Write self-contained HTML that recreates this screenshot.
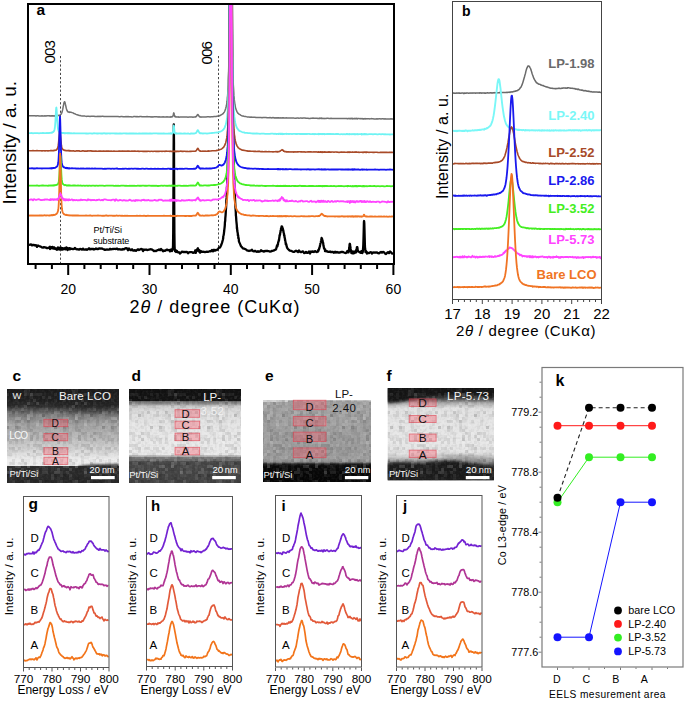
<!DOCTYPE html>
<html><head><meta charset="utf-8"><style>
html,body{margin:0;padding:0;background:#fff;width:685px;height:701px;overflow:hidden}
svg{display:block}
text{font-family:"Liberation Sans",sans-serif}
</style></head><body>
<svg width="685" height="701" viewBox="0 0 685 701" font-family="Liberation Sans, sans-serif">
<defs><filter id="grain" x="0" y="0" width="100%" height="100%">
<feTurbulence type="fractalNoise" baseFrequency="0.45" numOctaves="1" seed="3" result="n"/>
<feColorMatrix type="matrix" values="0 0 0 0 1  0 0 0 0 1  0 0 0 0 1  0 0 0 1.2 -0.55" />
</filter><filter id="grain2" x="0" y="0" width="100%" height="100%">
<feTurbulence type="fractalNoise" baseFrequency="0.4" numOctaves="1" seed="8" result="n"/>
<feColorMatrix type="matrix" values="0 0 0 0 0  0 0 0 0 0  0 0 0 0 0  0 0 0 1.2 -0.55" />
</filter><pattern id="blk" x="0" y="0" width="48" height="48" patternUnits="userSpaceOnUse"><rect x="0" y="0" width="3" height="3" fill="#000" fill-opacity="0.22"/><rect x="3" y="0" width="3" height="3" fill="#000" fill-opacity="0.37"/><rect x="9" y="0" width="3" height="3" fill="#fff" fill-opacity="0.12"/><rect x="12" y="0" width="3" height="3" fill="#fff" fill-opacity="0.32"/><rect x="18" y="0" width="3" height="3" fill="#000" fill-opacity="0.15"/><rect x="21" y="0" width="3" height="3" fill="#000" fill-opacity="0.22"/><rect x="24" y="0" width="3" height="3" fill="#fff" fill-opacity="0.21"/><rect x="27" y="0" width="3" height="3" fill="#fff" fill-opacity="0.46"/><rect x="33" y="0" width="3" height="3" fill="#000" fill-opacity="0.35"/><rect x="36" y="0" width="3" height="3" fill="#000" fill-opacity="0.27"/><rect x="39" y="0" width="3" height="3" fill="#fff" fill-opacity="0.45"/><rect x="45" y="0" width="3" height="3" fill="#000" fill-opacity="0.48"/><rect x="3" y="3" width="3" height="3" fill="#000" fill-opacity="0.33"/><rect x="6" y="3" width="3" height="3" fill="#000" fill-opacity="0.18"/><rect x="9" y="3" width="3" height="3" fill="#000" fill-opacity="0.14"/><rect x="12" y="3" width="3" height="3" fill="#000" fill-opacity="0.20"/><rect x="15" y="3" width="3" height="3" fill="#fff" fill-opacity="0.15"/><rect x="21" y="3" width="3" height="3" fill="#000" fill-opacity="0.17"/><rect x="24" y="3" width="3" height="3" fill="#fff" fill-opacity="0.11"/><rect x="27" y="3" width="3" height="3" fill="#fff" fill-opacity="0.23"/><rect x="30" y="3" width="3" height="3" fill="#000" fill-opacity="0.46"/><rect x="36" y="3" width="3" height="3" fill="#000" fill-opacity="0.27"/><rect x="42" y="3" width="3" height="3" fill="#000" fill-opacity="0.36"/><rect x="6" y="6" width="3" height="3" fill="#000" fill-opacity="0.29"/><rect x="9" y="6" width="3" height="3" fill="#000" fill-opacity="0.11"/><rect x="12" y="6" width="3" height="3" fill="#000" fill-opacity="0.31"/><rect x="15" y="6" width="3" height="3" fill="#000" fill-opacity="0.38"/><rect x="21" y="6" width="3" height="3" fill="#000" fill-opacity="0.31"/><rect x="24" y="6" width="3" height="3" fill="#fff" fill-opacity="0.33"/><rect x="27" y="6" width="3" height="3" fill="#fff" fill-opacity="0.20"/><rect x="30" y="6" width="3" height="3" fill="#000" fill-opacity="0.56"/><rect x="36" y="6" width="3" height="3" fill="#000" fill-opacity="0.31"/><rect x="45" y="6" width="3" height="3" fill="#000" fill-opacity="0.56"/><rect x="6" y="9" width="3" height="3" fill="#fff" fill-opacity="0.27"/><rect x="9" y="9" width="3" height="3" fill="#000" fill-opacity="0.33"/><rect x="12" y="9" width="3" height="3" fill="#fff" fill-opacity="0.21"/><rect x="15" y="9" width="3" height="3" fill="#000" fill-opacity="0.31"/><rect x="21" y="9" width="3" height="3" fill="#000" fill-opacity="0.24"/><rect x="24" y="9" width="3" height="3" fill="#fff" fill-opacity="0.41"/><rect x="27" y="9" width="3" height="3" fill="#fff" fill-opacity="0.16"/><rect x="30" y="9" width="3" height="3" fill="#fff" fill-opacity="0.68"/><rect x="33" y="9" width="3" height="3" fill="#fff" fill-opacity="0.18"/><rect x="36" y="9" width="3" height="3" fill="#fff" fill-opacity="0.24"/><rect x="39" y="9" width="3" height="3" fill="#fff" fill-opacity="0.24"/><rect x="42" y="9" width="3" height="3" fill="#000" fill-opacity="0.17"/><rect x="0" y="12" width="3" height="3" fill="#fff" fill-opacity="0.38"/><rect x="3" y="12" width="3" height="3" fill="#000" fill-opacity="0.11"/><rect x="12" y="12" width="3" height="3" fill="#fff" fill-opacity="0.17"/><rect x="15" y="12" width="3" height="3" fill="#000" fill-opacity="0.10"/><rect x="27" y="12" width="3" height="3" fill="#000" fill-opacity="0.24"/><rect x="30" y="12" width="3" height="3" fill="#fff" fill-opacity="0.25"/><rect x="33" y="12" width="3" height="3" fill="#000" fill-opacity="0.36"/><rect x="36" y="12" width="3" height="3" fill="#000" fill-opacity="0.34"/><rect x="39" y="12" width="3" height="3" fill="#000" fill-opacity="0.36"/><rect x="42" y="12" width="3" height="3" fill="#fff" fill-opacity="0.27"/><rect x="45" y="12" width="3" height="3" fill="#000" fill-opacity="0.10"/><rect x="0" y="15" width="3" height="3" fill="#000" fill-opacity="0.27"/><rect x="3" y="15" width="3" height="3" fill="#000" fill-opacity="0.32"/><rect x="6" y="15" width="3" height="3" fill="#fff" fill-opacity="0.12"/><rect x="9" y="15" width="3" height="3" fill="#000" fill-opacity="0.30"/><rect x="12" y="15" width="3" height="3" fill="#000" fill-opacity="0.36"/><rect x="15" y="15" width="3" height="3" fill="#fff" fill-opacity="0.17"/><rect x="18" y="15" width="3" height="3" fill="#000" fill-opacity="0.34"/><rect x="27" y="15" width="3" height="3" fill="#000" fill-opacity="0.12"/><rect x="33" y="15" width="3" height="3" fill="#fff" fill-opacity="0.37"/><rect x="36" y="15" width="3" height="3" fill="#000" fill-opacity="0.14"/><rect x="39" y="15" width="3" height="3" fill="#000" fill-opacity="0.35"/><rect x="42" y="15" width="3" height="3" fill="#000" fill-opacity="0.51"/><rect x="0" y="18" width="3" height="3" fill="#000" fill-opacity="0.10"/><rect x="6" y="18" width="3" height="3" fill="#000" fill-opacity="0.13"/><rect x="9" y="18" width="3" height="3" fill="#000" fill-opacity="0.13"/><rect x="12" y="18" width="3" height="3" fill="#000" fill-opacity="0.20"/><rect x="15" y="18" width="3" height="3" fill="#000" fill-opacity="0.15"/><rect x="21" y="18" width="3" height="3" fill="#000" fill-opacity="0.11"/><rect x="27" y="18" width="3" height="3" fill="#fff" fill-opacity="0.53"/><rect x="30" y="18" width="3" height="3" fill="#fff" fill-opacity="0.13"/><rect x="33" y="18" width="3" height="3" fill="#000" fill-opacity="0.44"/><rect x="36" y="18" width="3" height="3" fill="#fff" fill-opacity="0.49"/><rect x="42" y="18" width="3" height="3" fill="#000" fill-opacity="0.26"/><rect x="45" y="18" width="3" height="3" fill="#fff" fill-opacity="0.25"/><rect x="3" y="21" width="3" height="3" fill="#000" fill-opacity="0.17"/><rect x="6" y="21" width="3" height="3" fill="#000" fill-opacity="0.18"/><rect x="9" y="21" width="3" height="3" fill="#000" fill-opacity="0.28"/><rect x="15" y="21" width="3" height="3" fill="#fff" fill-opacity="0.30"/><rect x="21" y="21" width="3" height="3" fill="#fff" fill-opacity="0.12"/><rect x="24" y="21" width="3" height="3" fill="#fff" fill-opacity="0.53"/><rect x="27" y="21" width="3" height="3" fill="#000" fill-opacity="0.34"/><rect x="36" y="21" width="3" height="3" fill="#000" fill-opacity="0.30"/><rect x="39" y="21" width="3" height="3" fill="#000" fill-opacity="0.29"/><rect x="45" y="21" width="3" height="3" fill="#fff" fill-opacity="0.12"/><rect x="0" y="24" width="3" height="3" fill="#000" fill-opacity="0.15"/><rect x="6" y="24" width="3" height="3" fill="#fff" fill-opacity="0.20"/><rect x="12" y="24" width="3" height="3" fill="#fff" fill-opacity="0.24"/><rect x="15" y="24" width="3" height="3" fill="#fff" fill-opacity="0.13"/><rect x="18" y="24" width="3" height="3" fill="#fff" fill-opacity="0.14"/><rect x="21" y="24" width="3" height="3" fill="#fff" fill-opacity="0.51"/><rect x="24" y="24" width="3" height="3" fill="#fff" fill-opacity="0.17"/><rect x="30" y="24" width="3" height="3" fill="#fff" fill-opacity="0.20"/><rect x="33" y="24" width="3" height="3" fill="#000" fill-opacity="0.26"/><rect x="39" y="24" width="3" height="3" fill="#fff" fill-opacity="0.22"/><rect x="42" y="24" width="3" height="3" fill="#fff" fill-opacity="0.18"/><rect x="45" y="24" width="3" height="3" fill="#fff" fill-opacity="0.43"/><rect x="3" y="27" width="3" height="3" fill="#000" fill-opacity="0.41"/><rect x="6" y="27" width="3" height="3" fill="#fff" fill-opacity="0.55"/><rect x="9" y="27" width="3" height="3" fill="#fff" fill-opacity="0.31"/><rect x="12" y="27" width="3" height="3" fill="#000" fill-opacity="0.30"/><rect x="15" y="27" width="3" height="3" fill="#fff" fill-opacity="0.39"/><rect x="21" y="27" width="3" height="3" fill="#000" fill-opacity="0.51"/><rect x="24" y="27" width="3" height="3" fill="#000" fill-opacity="0.12"/><rect x="27" y="27" width="3" height="3" fill="#000" fill-opacity="0.14"/><rect x="30" y="27" width="3" height="3" fill="#fff" fill-opacity="0.45"/><rect x="33" y="27" width="3" height="3" fill="#000" fill-opacity="0.22"/><rect x="42" y="27" width="3" height="3" fill="#000" fill-opacity="0.11"/><rect x="45" y="27" width="3" height="3" fill="#000" fill-opacity="0.26"/><rect x="3" y="30" width="3" height="3" fill="#fff" fill-opacity="0.30"/><rect x="6" y="30" width="3" height="3" fill="#fff" fill-opacity="0.17"/><rect x="9" y="30" width="3" height="3" fill="#000" fill-opacity="0.26"/><rect x="12" y="30" width="3" height="3" fill="#000" fill-opacity="0.32"/><rect x="18" y="30" width="3" height="3" fill="#000" fill-opacity="0.20"/><rect x="21" y="30" width="3" height="3" fill="#000" fill-opacity="0.18"/><rect x="24" y="30" width="3" height="3" fill="#000" fill-opacity="0.47"/><rect x="27" y="30" width="3" height="3" fill="#fff" fill-opacity="0.55"/><rect x="30" y="30" width="3" height="3" fill="#fff" fill-opacity="0.26"/><rect x="33" y="30" width="3" height="3" fill="#000" fill-opacity="0.27"/><rect x="36" y="30" width="3" height="3" fill="#fff" fill-opacity="0.25"/><rect x="39" y="30" width="3" height="3" fill="#fff" fill-opacity="0.38"/><rect x="42" y="30" width="3" height="3" fill="#000" fill-opacity="0.67"/><rect x="45" y="30" width="3" height="3" fill="#000" fill-opacity="0.15"/><rect x="0" y="33" width="3" height="3" fill="#000" fill-opacity="0.11"/><rect x="3" y="33" width="3" height="3" fill="#fff" fill-opacity="0.18"/><rect x="15" y="33" width="3" height="3" fill="#fff" fill-opacity="0.52"/><rect x="18" y="33" width="3" height="3" fill="#fff" fill-opacity="0.60"/><rect x="21" y="33" width="3" height="3" fill="#000" fill-opacity="0.15"/><rect x="24" y="33" width="3" height="3" fill="#000" fill-opacity="0.26"/><rect x="27" y="33" width="3" height="3" fill="#fff" fill-opacity="0.75"/><rect x="30" y="33" width="3" height="3" fill="#000" fill-opacity="0.27"/><rect x="33" y="33" width="3" height="3" fill="#000" fill-opacity="0.16"/><rect x="39" y="33" width="3" height="3" fill="#fff" fill-opacity="0.14"/><rect x="42" y="33" width="3" height="3" fill="#fff" fill-opacity="0.29"/><rect x="45" y="33" width="3" height="3" fill="#fff" fill-opacity="0.11"/><rect x="0" y="36" width="3" height="3" fill="#000" fill-opacity="0.24"/><rect x="3" y="36" width="3" height="3" fill="#fff" fill-opacity="0.14"/><rect x="9" y="36" width="3" height="3" fill="#fff" fill-opacity="0.53"/><rect x="15" y="36" width="3" height="3" fill="#000" fill-opacity="0.37"/><rect x="18" y="36" width="3" height="3" fill="#000" fill-opacity="0.29"/><rect x="21" y="36" width="3" height="3" fill="#fff" fill-opacity="0.41"/><rect x="24" y="36" width="3" height="3" fill="#000" fill-opacity="0.15"/><rect x="27" y="36" width="3" height="3" fill="#000" fill-opacity="0.59"/><rect x="30" y="36" width="3" height="3" fill="#000" fill-opacity="0.16"/><rect x="36" y="36" width="3" height="3" fill="#fff" fill-opacity="0.33"/><rect x="39" y="36" width="3" height="3" fill="#000" fill-opacity="0.28"/><rect x="42" y="36" width="3" height="3" fill="#fff" fill-opacity="0.19"/><rect x="45" y="36" width="3" height="3" fill="#fff" fill-opacity="0.22"/><rect x="0" y="39" width="3" height="3" fill="#000" fill-opacity="0.20"/><rect x="6" y="39" width="3" height="3" fill="#fff" fill-opacity="0.50"/><rect x="9" y="39" width="3" height="3" fill="#fff" fill-opacity="0.48"/><rect x="12" y="39" width="3" height="3" fill="#fff" fill-opacity="0.24"/><rect x="18" y="39" width="3" height="3" fill="#fff" fill-opacity="0.32"/><rect x="27" y="39" width="3" height="3" fill="#000" fill-opacity="0.24"/><rect x="36" y="39" width="3" height="3" fill="#fff" fill-opacity="0.78"/><rect x="42" y="39" width="3" height="3" fill="#fff" fill-opacity="0.36"/><rect x="45" y="39" width="3" height="3" fill="#fff" fill-opacity="0.37"/><rect x="3" y="42" width="3" height="3" fill="#fff" fill-opacity="0.33"/><rect x="6" y="42" width="3" height="3" fill="#000" fill-opacity="0.61"/><rect x="12" y="42" width="3" height="3" fill="#fff" fill-opacity="0.24"/><rect x="15" y="42" width="3" height="3" fill="#000" fill-opacity="0.67"/><rect x="18" y="42" width="3" height="3" fill="#000" fill-opacity="0.32"/><rect x="21" y="42" width="3" height="3" fill="#fff" fill-opacity="0.30"/><rect x="27" y="42" width="3" height="3" fill="#000" fill-opacity="0.31"/><rect x="30" y="42" width="3" height="3" fill="#000" fill-opacity="0.10"/><rect x="33" y="42" width="3" height="3" fill="#000" fill-opacity="0.15"/><rect x="36" y="42" width="3" height="3" fill="#fff" fill-opacity="0.20"/><rect x="39" y="42" width="3" height="3" fill="#fff" fill-opacity="0.13"/><rect x="45" y="42" width="3" height="3" fill="#000" fill-opacity="0.19"/><rect x="3" y="45" width="3" height="3" fill="#fff" fill-opacity="0.37"/><rect x="9" y="45" width="3" height="3" fill="#fff" fill-opacity="0.18"/><rect x="15" y="45" width="3" height="3" fill="#000" fill-opacity="0.36"/><rect x="18" y="45" width="3" height="3" fill="#000" fill-opacity="0.20"/><rect x="21" y="45" width="3" height="3" fill="#fff" fill-opacity="0.18"/><rect x="27" y="45" width="3" height="3" fill="#000" fill-opacity="0.25"/><rect x="30" y="45" width="3" height="3" fill="#000" fill-opacity="0.45"/><rect x="39" y="45" width="3" height="3" fill="#000" fill-opacity="0.10"/></pattern><filter id="bl2" x="-20%" y="-50%" width="140%" height="200%"><feGaussianBlur stdDeviation="1.6"/></filter><filter id="bl1" x="-20%" y="-50%" width="140%" height="200%"><feGaussianBlur stdDeviation="0.8"/></filter><filter id="bl4" x="-20%" y="-50%" width="140%" height="200%"><feGaussianBlur stdDeviation="3"/></filter><linearGradient id="gc" x1="0" y1="0" x2="0" y2="1"><stop offset="0.0000" stop-color="#1c1c1c"/><stop offset="0.1170" stop-color="#222222"/><stop offset="0.1809" stop-color="#2c2c2c"/><stop offset="0.2234" stop-color="#505050"/><stop offset="0.2766" stop-color="#808080"/><stop offset="0.3830" stop-color="#a0a0a0"/><stop offset="0.5426" stop-color="#bcbcbc"/><stop offset="0.6702" stop-color="#d8d8d8"/><stop offset="0.7553" stop-color="#ececec"/><stop offset="0.8138" stop-color="#eeeeee"/><stop offset="0.8245" stop-color="#303030"/><stop offset="0.9149" stop-color="#2a2a2a"/><stop offset="1.0000" stop-color="#282828"/></linearGradient><linearGradient id="gd" x1="0" y1="0" x2="0" y2="1"><stop offset="0.0000" stop-color="#121212"/><stop offset="0.1223" stop-color="#141414"/><stop offset="0.1330" stop-color="#707070"/><stop offset="0.1596" stop-color="#909090"/><stop offset="0.1809" stop-color="#c8c8c8"/><stop offset="0.2447" stop-color="#dcdcdc"/><stop offset="0.4362" stop-color="#e6e6e6"/><stop offset="0.6489" stop-color="#eaeaea"/><stop offset="0.6968" stop-color="#e8e8e8"/><stop offset="0.7074" stop-color="#c0c0c0"/><stop offset="0.7234" stop-color="#a0a0a0"/><stop offset="0.7287" stop-color="#747474"/><stop offset="0.7660" stop-color="#6c6c6c"/><stop offset="0.7713" stop-color="#505050"/><stop offset="0.7872" stop-color="#484848"/><stop offset="1.0000" stop-color="#424242"/></linearGradient><linearGradient id="ge" x1="0" y1="0" x2="0" y2="1"><stop offset="0.0000" stop-color="#a2a2a2"/><stop offset="0.3659" stop-color="#9e9e9e"/><stop offset="0.7317" stop-color="#9a9a9a"/><stop offset="0.7561" stop-color="#8c8c8c"/><stop offset="0.7805" stop-color="#202020"/><stop offset="0.8049" stop-color="#0a0a0a"/><stop offset="1.0000" stop-color="#060606"/></linearGradient><linearGradient id="gf" x1="0" y1="0" x2="0" y2="1"><stop offset="0.0000" stop-color="#181818"/><stop offset="0.0543" stop-color="#1c1c1c"/><stop offset="0.1087" stop-color="#404040"/><stop offset="0.1630" stop-color="#b0b0b0"/><stop offset="0.2174" stop-color="#e0e0e0"/><stop offset="0.5652" stop-color="#e8e8e8"/><stop offset="0.7065" stop-color="#e4e4e4"/><stop offset="0.7500" stop-color="#c8c8c8"/><stop offset="0.7935" stop-color="#909090"/><stop offset="0.8370" stop-color="#404040"/><stop offset="0.8804" stop-color="#222222"/><stop offset="1.0000" stop-color="#1c1c1c"/></linearGradient><clipPath id="clipgc"><rect x="7" y="389" width="112" height="94"/></clipPath><clipPath id="clipgd"><rect x="129" y="389" width="112" height="94"/></clipPath><clipPath id="clipge"><rect x="263" y="400" width="108" height="82"/></clipPath><clipPath id="clipgf"><rect x="387.5" y="388" width="106.5" height="92.5"/></clipPath></defs><rect width="685" height="701" fill="#fff"/>
<g>
<line x1="60.5" y1="56" x2="60.5" y2="263" stroke="#333" stroke-width="0.9" stroke-dasharray="2.2,2"/>
<line x1="218.5" y1="56" x2="218.5" y2="263" stroke="#333" stroke-width="0.9" stroke-dasharray="2.2,2"/>
<polyline points="29.0,244.6 30.0,244.8 31.0,244.4 32.0,245.4 33.0,244.8 34.0,245.0 35.0,245.5 36.0,245.2 37.0,246.9 38.0,245.5 39.0,246.0 40.0,246.4 41.0,246.8 42.0,247.4 43.0,247.6 44.0,247.1 45.0,247.3 46.0,247.6 47.0,248.1 48.0,248.1 49.0,247.5 50.0,246.8 50.0,249.1 50.2,248.5 50.4,248.1 50.6,248.2 50.8,247.7 51.0,247.4 51.0,247.8 51.2,247.9 51.4,247.7 51.6,247.2 51.8,247.9 52.0,248.4 52.0,247.8 52.2,248.1 52.4,247.0 52.6,248.0 52.8,248.1 53.0,247.5 53.0,247.2 53.2,248.4 53.4,247.8 53.6,248.5 53.8,248.0 54.0,248.6 54.0,248.1 54.2,247.4 54.4,248.2 54.6,248.1 54.8,248.7 55.0,248.1 55.0,248.1 55.2,248.8 55.4,249.0 55.6,248.8 55.8,249.0 56.0,248.7 56.0,248.9 56.2,248.9 56.4,248.7 56.6,248.5 56.8,248.6 57.0,249.8 57.0,248.5 57.2,248.4 57.4,248.4 57.6,248.5 57.8,248.7 58.0,248.0 58.0,247.5 58.2,248.8 58.4,247.8 58.6,248.8 58.8,248.7 59.0,249.3 59.0,249.6 59.2,248.9 59.4,248.4 59.6,248.1 59.8,248.3 60.0,248.8 60.0,247.6 60.2,248.8 60.4,248.8 60.6,249.1 60.8,248.6 61.0,248.8 61.0,248.4 61.2,248.5 61.4,247.8 61.6,248.8 61.8,249.6 62.0,248.9 62.0,249.0 62.2,248.2 62.4,249.6 62.6,248.4 62.8,249.2 63.0,248.8 63.0,248.2 63.2,249.3 63.4,248.8 63.6,248.9 63.8,249.0 64.0,248.8 64.0,248.6 64.2,249.0 64.4,248.5 64.6,248.8 64.8,248.4 65.0,248.0 65.0,248.4 65.2,248.5 65.4,248.8 65.6,249.4 65.8,247.8 66.0,248.8 66.0,247.6 66.2,248.2 66.4,248.5 66.6,247.5 66.8,247.7 67.0,248.9 67.0,248.8 67.2,248.7 67.4,248.3 67.6,250.0 67.8,248.7 68.0,248.3 68.0,249.7 68.2,249.1 68.4,248.6 68.6,249.4 68.8,248.9 69.0,249.1 69.0,248.9 69.2,248.2 69.4,249.3 69.6,248.9 69.8,248.2 70.0,248.4 70.0,249.3 71.0,248.6 72.0,248.8 73.0,249.1 74.0,248.8 75.0,247.9 76.0,249.1 77.0,249.3 78.0,249.2 79.0,249.7 80.0,249.0 81.0,249.2 82.0,249.6 83.0,248.6 84.0,249.7 85.0,249.7 86.0,249.2 87.0,249.8 88.0,249.2 89.0,248.3 90.0,249.4 91.0,248.9 92.0,249.0 93.0,248.8 94.0,249.5 95.0,249.1 96.0,248.4 97.0,249.0 98.0,249.2 99.0,248.4 100.0,248.5 101.0,248.6 102.0,248.5 103.0,249.0 104.0,249.4 105.0,249.9 106.0,249.6 107.0,249.5 108.0,249.6 109.0,249.7 110.0,248.8 111.0,249.4 112.0,249.2 113.0,249.0 114.0,248.9 115.0,248.9 116.0,249.0 117.0,248.5 118.0,249.5 119.0,249.2 120.0,249.3 121.0,249.5 122.0,249.7 123.0,249.0 124.0,249.3 125.0,248.5 126.0,248.2 127.0,248.4 128.0,250.3 129.0,248.5 130.0,249.8 131.0,250.3 132.0,249.3 133.0,250.5 134.0,250.6 135.0,250.1 136.0,250.9 137.0,250.0 138.0,249.3 139.0,250.0 140.0,249.5 141.0,249.0 142.0,249.1 143.0,251.1 144.0,249.5 145.0,249.8 146.0,249.5 147.0,250.0 148.0,249.8 149.0,249.7 150.0,249.3 151.0,249.2 152.0,249.6 153.0,250.2 154.0,251.2 155.0,250.7 156.0,251.1 157.0,250.4 158.0,250.1 159.0,249.4 160.0,250.2 161.0,249.0 162.0,250.1 163.0,251.2 164.0,250.5 165.0,250.9 166.0,250.1 167.0,249.6 168.0,250.1 169.0,250.1 169.8,251.0 170.0,251.4 170.0,249.9 170.2,250.2 170.4,250.3 170.6,250.2 170.8,249.8 171.0,250.5 171.0,250.7 171.2,250.7 171.4,249.8 171.6,250.4 171.8,249.5 172.0,251.0 172.0,249.9 172.2,250.2 172.4,250.0 172.6,249.7 172.8,248.7 173.0,246.2 173.0,247.0 173.2,233.2 173.4,199.7 173.6,151.7 173.8,124.3 174.0,142.3 174.0,150.7 174.2,200.4 174.4,233.6 174.6,246.6 174.8,249.7 175.0,250.7 175.0,251.3 175.2,249.8 175.4,251.1 175.6,251.1 175.8,251.3 176.0,250.5 176.0,252.0 176.2,251.2 176.4,251.6 176.6,251.6 176.8,251.0 177.0,251.7 177.0,251.0 177.2,251.5 177.4,251.9 177.6,252.2 178.0,252.3 179.0,252.2 180.0,253.5 181.0,252.6 182.0,251.6 183.0,252.0 184.0,251.9 185.0,252.2 186.0,252.0 187.0,251.8 188.0,253.2 189.0,252.3 190.0,252.1 191.0,252.1 192.0,252.1 193.0,252.9 194.0,252.4 195.0,252.6 195.2,250.3 195.4,252.1 195.6,252.5 195.8,252.9 196.0,251.7 196.0,250.7 196.2,251.8 196.4,250.9 196.6,250.0 196.8,250.3 197.0,250.9 197.0,250.9 197.2,250.2 197.4,248.9 197.6,250.6 197.8,248.4 198.0,249.1 198.0,248.4 198.2,250.2 198.4,250.0 198.6,250.7 198.8,250.6 199.0,250.8 199.0,251.0 199.2,250.1 199.4,251.9 199.6,252.1 199.8,251.5 200.0,251.7 200.0,251.9 200.2,252.7 200.4,252.1 200.6,251.9 200.8,251.6 201.0,251.0 201.0,251.5 202.0,251.9 203.0,251.7 204.0,251.8 205.0,252.1 206.0,251.9 207.0,251.7 208.0,251.8 209.0,251.5 210.0,251.2 211.0,251.3 212.0,250.0 213.0,251.4 214.0,249.8 215.0,250.7 216.0,249.8 217.0,250.0 218.0,248.9 219.0,247.6 220.0,247.6 221.0,245.5 222.0,242.9 222.8,240.0 222.9,239.5 223.0,239.2 223.2,238.1 223.3,235.9 223.6,235.3 223.8,234.2 223.9,233.6 224.0,232.5 224.2,231.0 224.3,229.9 224.6,227.3 224.8,225.3 224.9,223.1 225.0,221.6 225.2,221.1 225.3,218.3 225.6,215.1 225.8,211.6 225.9,209.1 226.0,208.9 226.2,205.1 226.3,201.2 226.6,197.9 226.8,192.4 226.9,187.4 227.0,187.1 227.2,183.0 227.3,177.6 227.6,171.1 227.8,164.6 227.9,156.3 228.0,154.0 228.2,147.1 228.3,137.0 228.6,124.5 228.8,109.1 228.9,90.0 229.0,82.2 229.2,64.8 229.3,33.6 229.6,5.0 229.8,5.0 229.9,5.0 230.0,5.0 230.2,5.0 230.3,5.0 230.6,5.0 230.8,5.0 230.9,5.0 231.0,5.0 231.2,5.0 231.3,5.0 231.6,5.0 231.8,5.0 231.9,5.0 232.0,5.0 232.2,34.7 232.3,65.8 232.6,89.0 232.8,108.7 232.9,124.6 233.0,127.2 233.2,136.0 233.3,147.3 233.6,157.5 233.8,163.5 233.9,171.7 234.0,173.0 234.2,177.6 234.3,183.1 234.6,188.3 234.8,193.8 234.9,197.9 235.0,198.1 235.2,202.5 235.3,204.6 235.6,209.2 235.8,212.2 235.9,215.7 236.0,216.0 236.2,218.4 236.3,220.5 236.6,223.4 236.8,225.3 236.9,228.4 237.0,227.3 237.2,229.7 237.3,231.1 237.6,232.6 237.8,233.6 237.9,235.6 238.0,234.8 238.2,235.8 238.3,238.1 238.6,237.9 239.0,241.6 240.0,243.9 241.0,246.2 242.0,247.3 243.0,248.4 244.0,248.6 245.0,249.0 246.0,249.5 247.0,250.4 248.0,250.7 249.0,251.0 250.0,250.7 251.0,250.5 252.0,249.8 253.0,251.2 254.0,251.4 255.0,250.8 256.0,251.5 257.0,251.8 258.0,251.2 259.0,251.8 260.0,251.4 261.0,250.3 262.0,251.0 263.0,251.1 264.0,251.6 265.0,250.8 266.0,251.1 267.0,250.7 268.0,251.2 269.0,251.2 270.0,251.6 271.0,251.4 272.0,250.9 273.0,250.8 274.0,250.4 275.0,249.8 276.0,249.5 277.0,245.5 277.0,246.7 277.2,246.5 277.4,246.4 277.6,244.6 277.8,244.8 278.0,244.3 278.0,243.5 278.2,242.1 278.4,242.1 278.6,240.8 278.8,240.9 279.0,239.1 279.0,240.4 279.2,238.6 279.4,237.0 279.6,236.1 279.8,234.7 280.0,234.4 280.0,234.9 280.2,233.0 280.4,232.6 280.6,230.5 280.8,230.3 281.0,230.5 281.0,228.3 281.2,229.2 281.4,228.5 281.6,226.4 281.8,226.4 282.0,226.5 282.0,227.6 282.2,226.9 282.4,227.4 282.6,228.3 282.8,228.6 283.0,229.4 283.0,229.2 283.2,230.8 283.4,230.7 283.6,233.0 283.8,233.0 284.0,233.8 284.0,234.8 284.2,235.6 284.4,235.4 284.6,237.7 284.8,237.9 285.0,239.2 285.0,240.2 285.2,240.1 285.4,241.7 285.6,242.2 285.8,244.3 286.0,243.9 286.0,243.5 286.2,244.1 286.4,244.9 286.6,246.0 286.8,246.5 287.0,247.6 288.0,249.0 289.0,250.0 290.0,250.7 291.0,250.8 292.0,251.3 293.0,251.8 294.0,251.9 295.0,251.3 296.0,250.7 297.0,251.3 298.0,252.0 299.0,250.5 300.0,251.7 301.0,252.2 302.0,251.7 303.0,251.4 304.0,253.0 305.0,252.8 306.0,251.9 307.0,252.8 308.0,252.8 309.0,251.5 310.0,253.6 311.0,251.5 312.0,251.9 313.0,251.4 314.0,252.0 315.0,251.1 316.0,251.7 317.0,252.1 317.8,251.1 318.0,250.7 318.0,251.7 318.2,250.1 318.4,250.9 318.6,249.9 318.8,249.8 319.0,249.3 319.0,249.3 319.2,248.7 319.4,247.7 319.6,247.1 319.8,246.9 320.0,245.8 320.0,245.2 320.2,244.6 320.4,243.6 320.6,243.0 320.8,242.2 321.0,241.3 321.0,240.9 321.2,240.5 321.4,239.1 321.6,237.9 321.8,239.3 322.0,238.6 322.0,239.0 322.2,239.2 322.4,240.9 322.6,240.6 322.8,242.3 323.0,242.8 323.0,242.4 323.2,243.2 323.4,245.3 323.6,246.1 323.8,247.1 324.0,248.4 324.0,247.6 324.2,248.3 324.4,248.7 324.6,249.3 324.8,249.5 325.0,249.6 325.0,251.2 325.2,249.4 325.4,250.8 325.6,251.1 326.0,251.3 327.0,251.1 328.0,251.8 329.0,251.8 330.0,251.5 331.0,252.2 332.0,252.0 333.0,252.0 334.0,252.7 335.0,251.7 336.0,252.6 337.0,252.0 338.0,252.6 339.0,252.4 340.0,252.5 341.0,251.9 342.0,252.0 343.0,252.0 344.0,252.5 345.0,252.8 346.0,253.0 346.9,252.1 347.0,252.4 347.1,251.4 347.2,251.1 347.4,251.8 347.6,251.9 347.9,251.3 348.0,251.2 348.1,252.4 348.2,251.5 348.4,250.7 348.6,252.4 348.9,250.5 349.0,249.4 349.1,249.6 349.2,247.4 349.4,247.1 349.6,244.2 349.9,243.8 350.0,244.7 350.1,244.5 350.2,247.0 350.4,246.8 350.6,248.7 350.9,250.4 351.0,251.3 351.1,251.7 351.2,251.8 351.4,253.2 351.6,251.8 351.9,252.3 352.0,252.7 352.1,252.1 352.1,252.1 352.2,252.0 352.3,251.9 352.4,251.7 352.5,252.0 352.6,251.5 352.7,252.5 352.9,251.5 353.0,253.5 353.1,253.3 353.3,253.0 353.5,252.3 353.7,252.1 353.9,253.1 354.0,252.5 354.1,252.7 354.3,252.0 354.5,253.0 354.7,251.9 354.9,252.4 355.0,251.4 355.1,252.0 355.3,252.6 355.5,252.0 355.7,251.9 355.9,252.4 356.0,251.9 356.1,252.3 356.3,249.7 356.5,250.5 356.7,249.3 356.9,247.2 357.0,247.1 357.1,248.0 357.3,247.2 357.5,248.3 357.7,250.1 357.9,250.6 358.0,251.3 359.0,251.8 360.0,252.5 361.0,252.9 361.1,252.5 361.3,251.1 361.5,252.6 361.7,252.2 361.9,251.7 362.0,252.9 362.1,251.1 362.3,253.0 362.5,251.5 362.7,252.3 362.9,250.5 363.0,248.8 363.1,248.6 363.3,244.8 363.5,238.8 363.7,231.3 363.9,223.1 364.0,221.4 364.1,221.0 364.3,223.3 364.5,230.0 364.7,237.8 364.9,245.0 365.0,247.6 365.1,248.0 365.3,249.8 365.5,252.1 365.7,251.0 365.9,252.1 366.0,251.6 366.1,251.2 366.3,252.3 366.5,252.2 366.7,253.1 366.9,253.6 367.0,252.3 368.0,253.0 369.0,253.1 370.0,252.3 371.0,252.1 372.0,253.5 373.0,252.4 374.0,252.6 375.0,252.5 376.0,252.6 377.0,252.3 378.0,253.1 379.0,253.3 380.0,252.5 381.0,251.9 382.0,252.7 383.0,251.9 384.0,252.3 385.0,253.4 386.0,254.0 387.0,252.9 388.0,252.1 389.0,253.1 390.0,251.5 391.0,252.3 392.0,253.6 393.0,253.1" fill="none" stroke="#000" stroke-width="2.3" stroke-linejoin="round" />
<polyline points="29.0,115.8 30.0,115.8 31.0,115.8 32.0,115.7 33.0,115.8 34.0,115.7 35.0,115.8 36.0,116.0 37.0,115.8 38.0,115.8 39.0,115.9 40.0,115.9 41.0,115.9 42.0,115.8 43.0,115.9 44.0,116.0 45.0,115.8 46.0,115.9 47.0,115.7 48.0,115.8 49.0,115.7 50.0,115.9 50.0,115.8 50.2,115.9 50.4,115.9 50.6,115.9 50.8,115.7 51.0,115.9 51.0,115.9 51.2,115.9 51.4,115.8 51.6,115.9 51.8,115.8 52.0,115.8 52.0,116.0 52.2,115.8 52.4,115.9 52.6,116.0 52.8,115.8 53.0,115.9 53.0,115.9 53.2,115.9 53.4,115.8 53.6,115.9 53.8,116.0 54.0,115.7 54.0,116.0 54.2,115.9 54.4,115.8 54.6,116.1 54.8,115.9 55.0,115.7 55.0,115.8 55.2,115.9 55.4,115.8 55.6,115.9 55.8,115.8 56.0,115.9 56.0,115.9 56.2,115.7 56.4,115.8 56.6,115.7 56.8,115.7 57.0,115.6 57.0,115.6 57.2,115.7 57.4,115.7 57.6,115.7 57.8,115.5 58.0,115.5 58.0,115.6 58.2,115.3 58.4,115.4 58.6,115.4 58.8,115.5 59.0,115.4 59.0,115.3 59.2,115.2 59.4,115.2 59.6,115.3 59.8,115.0 60.0,115.0 60.0,115.0 60.2,114.9 60.4,114.7 60.6,114.5 60.8,114.4 61.0,114.2 61.0,114.3 61.2,114.0 61.4,113.6 61.6,113.3 61.8,112.7 62.0,112.4 62.0,112.2 62.2,111.6 62.4,110.6 62.6,109.9 62.8,108.8 63.0,107.8 63.0,107.9 63.2,106.7 63.4,105.7 63.6,104.8 63.8,103.5 64.0,102.8 64.0,102.8 64.2,102.2 64.4,101.8 64.6,101.7 64.8,102.1 65.0,102.5 65.0,102.4 65.2,103.3 65.4,104.2 65.6,105.0 65.8,106.1 66.0,106.8 66.0,107.1 66.2,107.9 66.4,108.7 66.6,109.3 66.8,110.0 67.0,110.2 67.0,110.4 67.2,110.9 67.4,111.0 67.6,111.6 67.8,111.5 68.0,111.9 68.0,111.7 68.2,112.0 68.4,112.0 68.6,111.9 68.8,112.2 69.0,112.3 69.0,112.1 69.2,112.1 69.4,112.2 69.6,112.1 69.8,112.4 70.0,112.2 70.0,112.3 71.0,112.3 72.0,112.6 73.0,112.9 74.0,113.5 75.0,113.8 76.0,114.4 77.0,114.7 78.0,115.0 79.0,115.4 80.0,115.6 81.0,115.8 82.0,115.9 83.0,116.0 84.0,116.0 85.0,116.1 86.0,116.4 87.0,116.2 88.0,116.2 89.0,116.3 90.0,116.4 91.0,116.2 92.0,116.3 93.0,116.3 94.0,116.2 95.0,116.4 96.0,116.4 97.0,116.4 98.0,116.3 99.0,116.4 100.0,116.3 101.0,116.4 102.0,116.3 103.0,116.3 104.0,116.6 105.0,116.4 106.0,116.5 107.0,116.5 108.0,116.4 109.0,116.4 110.0,116.6 111.0,116.5 112.0,116.5 113.0,116.5 114.0,116.6 115.0,116.6 116.0,116.6 117.0,116.5 118.0,116.4 119.0,116.7 120.0,116.7 121.0,116.6 122.0,116.6 123.0,116.7 124.0,116.7 125.0,116.7 126.0,116.6 127.0,116.8 128.0,116.5 129.0,116.7 130.0,116.7 131.0,116.8 132.0,116.9 133.0,116.8 134.0,116.6 135.0,116.5 136.0,116.8 137.0,116.6 138.0,116.7 139.0,116.8 140.0,116.6 141.0,116.5 142.0,116.8 143.0,116.8 144.0,116.8 145.0,116.8 146.0,116.7 147.0,116.6 148.0,116.8 149.0,116.7 150.0,116.7 151.0,116.9 152.0,116.8 153.0,116.9 154.0,116.8 155.0,116.8 156.0,116.8 157.0,116.8 158.0,116.9 159.0,116.8 160.0,116.9 161.0,116.9 162.0,117.1 163.0,116.8 164.0,117.0 165.0,116.9 166.0,116.9 167.0,116.8 168.0,116.9 169.0,117.0 169.8,116.9 170.0,117.0 170.0,116.9 170.2,117.1 170.4,116.9 170.6,116.7 170.8,116.9 171.0,116.7 171.0,116.6 171.2,116.9 171.4,117.0 171.6,116.9 171.8,116.8 172.0,116.8 172.0,117.0 172.2,116.8 172.4,116.7 172.6,116.6 172.8,116.3 173.0,115.9 173.0,115.8 173.2,115.0 173.4,114.0 173.6,113.4 173.8,112.9 174.0,113.3 174.0,113.2 174.2,114.1 174.4,115.0 174.6,115.6 174.8,116.5 175.0,116.7 175.0,116.5 175.2,116.8 175.4,116.9 175.6,116.6 175.8,116.9 176.0,116.9 176.0,116.9 176.2,116.8 176.4,116.9 176.6,116.9 176.8,117.1 177.0,117.0 177.0,117.0 177.2,117.1 177.4,116.9 177.6,117.0 178.0,116.8 179.0,117.2 180.0,117.1 181.0,117.1 182.0,117.1 183.0,117.1 184.0,117.1 185.0,117.0 186.0,117.0 187.0,117.1 188.0,117.2 189.0,117.1 190.0,117.1 191.0,117.0 192.0,117.0 193.0,117.2 194.0,117.1 195.0,117.0 195.2,116.9 195.4,116.8 195.6,116.8 195.8,116.9 196.0,116.7 196.0,116.7 196.2,116.5 196.4,116.4 196.6,115.9 196.8,115.8 197.0,115.5 197.0,115.6 197.2,115.1 197.4,114.9 197.6,114.8 197.8,114.5 198.0,114.6 198.0,114.7 198.2,114.9 198.4,115.1 198.6,115.5 198.8,116.0 199.0,116.0 199.0,116.1 199.2,116.2 199.4,116.6 199.6,116.5 199.8,116.7 200.0,117.0 200.0,116.7 200.2,117.0 200.4,117.1 200.6,117.0 200.8,117.0 201.0,117.2 201.0,116.9 202.0,116.9 203.0,116.9 204.0,117.0 205.0,117.1 206.0,117.1 207.0,116.8 208.0,116.8 209.0,116.8 210.0,116.9 211.0,116.8 212.0,116.8 213.0,116.7 214.0,116.6 215.0,116.5 216.0,116.4 217.0,116.2 218.0,116.1 219.0,116.0 220.0,115.5 221.0,115.0 222.0,114.3 222.8,113.9 222.9,113.5 223.0,113.5 223.2,113.6 223.3,113.3 223.6,113.0 223.8,112.6 223.9,112.5 224.0,112.3 224.2,112.2 224.3,112.1 224.6,111.5 224.8,111.0 224.9,110.5 225.0,110.5 225.2,110.1 225.3,109.5 225.6,109.0 225.8,108.2 225.9,107.6 226.0,107.4 226.2,106.8 226.3,105.6 226.6,104.6 226.8,103.2 226.9,101.7 227.0,101.3 227.2,99.8 227.3,97.8 227.6,95.5 227.8,92.5 227.9,89.0 228.0,88.1 228.2,84.5 228.3,79.2 228.6,72.6 228.8,63.9 228.9,52.5 229.0,49.3 229.2,37.4 229.3,16.6 229.6,5.0 229.8,5.0 229.9,5.0 230.0,5.0 230.2,5.0 230.3,5.0 230.6,5.0 230.8,5.0 230.9,5.0 231.0,5.0 231.2,5.0 231.3,5.0 231.6,5.0 231.8,5.0 231.9,5.0 232.0,5.0 232.2,16.7 232.3,37.5 232.6,52.5 232.8,64.0 232.9,72.6 233.0,74.3 233.2,79.3 233.3,84.7 233.6,89.1 233.8,92.5 233.9,95.4 234.0,96.1 234.2,97.9 234.3,99.9 234.6,101.8 234.8,103.4 234.9,104.5 235.0,104.9 235.2,105.7 235.3,106.6 235.6,107.7 235.8,108.3 235.9,109.2 236.0,109.2 236.2,109.7 236.3,110.2 236.6,110.7 236.8,111.2 236.9,111.6 237.0,111.8 237.2,112.0 237.3,112.2 237.6,112.6 237.8,112.9 237.9,113.2 238.0,113.1 238.2,113.4 238.3,113.4 238.6,113.9 239.0,114.1 240.0,114.7 241.0,115.4 242.0,115.9 243.0,116.0 244.0,116.3 245.0,116.5 246.0,116.6 247.0,116.9 248.0,116.9 249.0,117.0 250.0,117.2 251.0,117.1 252.0,117.3 253.0,117.2 254.0,117.2 255.0,117.2 256.0,117.6 257.0,117.4 258.0,117.5 259.0,117.5 260.0,117.6 261.0,117.6 262.0,117.8 263.0,117.5 264.0,117.5 265.0,117.6 266.0,117.6 267.0,117.8 268.0,117.8 269.0,117.7 270.0,117.6 271.0,117.7 272.0,117.9 273.0,117.5 274.0,117.9 275.0,117.7 276.0,118.0 277.0,117.8 277.0,117.8 277.2,117.7 277.4,117.8 277.6,118.0 277.8,118.0 278.0,117.8 278.0,117.8 278.2,117.7 278.4,117.8 278.6,117.9 278.8,117.9 279.0,117.9 279.0,117.8 279.2,117.9 279.4,117.9 279.6,118.0 279.8,118.1 280.0,117.9 280.0,117.8 280.2,117.9 280.4,117.9 280.6,117.8 280.8,117.9 281.0,117.8 281.0,118.0 281.2,117.9 281.4,118.0 281.6,117.9 281.8,117.9 282.0,117.8 282.0,117.9 282.2,117.9 282.4,118.0 282.6,117.9 282.8,117.8 283.0,118.0 283.0,117.8 283.2,117.9 283.4,117.9 283.6,117.7 283.8,118.0 284.0,118.0 284.0,117.9 284.2,117.9 284.4,117.9 284.6,117.9 284.8,117.9 285.0,117.9 285.0,118.0 285.2,117.9 285.4,118.0 285.6,118.0 285.8,118.0 286.0,117.9 286.0,118.0 286.2,117.8 286.4,118.0 286.6,118.0 286.8,118.0 287.0,118.0 288.0,117.9 289.0,118.0 290.0,118.1 291.0,118.1 292.0,118.1 293.0,117.9 294.0,118.1 295.0,118.2 296.0,118.2 297.0,118.1 298.0,118.0 299.0,118.2 300.0,118.1 301.0,117.9 302.0,118.2 303.0,118.0 304.0,118.0 305.0,118.1 306.0,118.3 307.0,118.2 308.0,118.2 309.0,118.4 310.0,118.4 311.0,118.2 312.0,118.2 313.0,118.1 314.0,118.2 315.0,118.3 316.0,118.3 317.0,118.3 317.8,118.4 318.0,118.2 318.0,118.3 318.2,118.4 318.4,118.4 318.6,118.4 318.8,118.4 319.0,118.3 319.0,118.4 319.2,118.2 319.4,118.2 319.6,118.4 319.8,118.3 320.0,118.4 320.0,118.2 320.2,118.3 320.4,118.3 320.6,118.2 320.8,118.1 321.0,118.3 321.0,118.4 321.2,118.4 321.4,118.3 321.6,118.3 321.8,118.4 322.0,118.1 322.0,118.3 322.2,118.4 322.4,118.4 322.6,118.5 322.8,118.5 323.0,118.4 323.0,118.4 323.2,118.4 323.4,118.3 323.6,118.4 323.8,118.5 324.0,118.6 324.0,118.4 324.2,118.4 324.4,118.4 324.6,118.5 324.8,118.4 325.0,118.5 325.0,118.3 325.2,118.4 325.4,118.4 325.6,118.5 326.0,118.5 327.0,118.2 328.0,118.3 329.0,118.4 330.0,118.4 331.0,118.3 332.0,118.5 333.0,118.5 334.0,118.5 335.0,118.4 336.0,118.6 337.0,118.5 338.0,118.6 339.0,118.4 340.0,118.4 341.0,118.5 342.0,118.5 343.0,118.6 344.0,118.6 345.0,118.5 346.0,118.6 346.9,118.5 347.0,118.7 347.1,118.5 347.2,118.5 347.4,118.7 347.6,118.8 347.9,118.8 348.0,118.6 348.1,118.6 348.2,118.7 348.4,118.6 348.6,118.5 348.9,118.6 349.0,118.6 349.1,118.5 349.2,118.4 349.4,118.5 349.6,118.7 349.9,118.5 350.0,118.6 350.1,118.6 350.2,118.7 350.4,118.6 350.6,118.7 350.9,118.5 351.0,118.6 351.1,118.5 351.2,118.7 351.4,118.6 351.6,118.5 351.9,118.6 352.0,118.6 352.1,118.7 352.1,118.5 352.2,118.5 352.3,118.6 352.4,118.9 352.5,118.7 352.6,118.6 352.7,118.7 352.9,118.8 353.0,118.6 353.1,118.6 353.3,118.8 353.5,118.7 353.7,118.7 353.9,118.6 354.0,118.8 354.1,118.8 354.3,118.7 354.5,118.7 354.7,118.4 354.9,118.7 355.0,118.6 355.1,118.7 355.3,118.7 355.5,118.6 355.7,118.5 355.9,118.7 356.0,118.6 356.1,118.6 356.3,118.6 356.5,118.6 356.7,118.4 356.9,118.8 357.0,118.7 357.1,118.8 357.3,118.9 357.5,118.7 357.7,118.5 357.9,118.6 358.0,118.6 359.0,118.6 360.0,118.7 361.0,118.5 361.1,118.7 361.3,118.6 361.5,118.7 361.7,118.7 361.9,118.7 362.0,118.7 362.1,118.7 362.3,118.7 362.5,118.5 362.7,118.7 362.9,118.9 363.0,118.9 363.1,118.9 363.3,118.8 363.5,118.7 363.7,118.9 363.9,118.7 364.0,118.7 364.1,118.7 364.3,118.7 364.5,118.7 364.7,118.7 364.9,118.6 365.0,118.7 365.1,119.0 365.3,118.7 365.5,118.7 365.7,118.8 365.9,118.8 366.0,118.6 366.1,118.7 366.3,118.8 366.5,118.8 366.7,118.8 366.9,118.9 367.0,118.7 368.0,118.8 369.0,118.7 370.0,118.9 371.0,118.6 372.0,118.7 373.0,118.8 374.0,118.9 375.0,118.9 376.0,119.0 377.0,118.7 378.0,118.9 379.0,118.8 380.0,118.8 381.0,118.9 382.0,118.8 383.0,118.7 384.0,118.9 385.0,118.8 386.0,118.9 387.0,119.0 388.0,119.0 389.0,119.1 390.0,118.9 391.0,118.8 392.0,118.9 393.0,118.9" fill="none" stroke="#707070" stroke-width="1.5" stroke-linejoin="round" />
<polyline points="29.0,133.1 30.0,133.2 31.0,133.1 32.0,133.0 33.0,133.3 34.0,133.2 35.0,133.2 36.0,133.2 37.0,133.2 38.0,133.2 39.0,133.3 40.0,133.2 41.0,133.2 42.0,133.2 43.0,133.0 44.0,133.1 45.0,133.1 46.0,133.1 47.0,133.0 48.0,133.2 49.0,133.0 50.0,132.8 50.0,132.8 50.2,132.9 50.4,132.9 50.6,132.8 50.8,132.9 51.0,132.8 51.0,132.9 51.2,132.7 51.4,132.8 51.6,132.8 51.8,132.9 52.0,132.5 52.0,132.6 52.2,132.5 52.4,132.6 52.6,132.3 52.8,132.3 53.0,132.2 53.0,132.1 53.2,132.0 53.4,131.9 53.6,131.5 53.8,131.3 54.0,131.2 54.0,131.2 54.2,130.7 54.4,129.9 54.6,129.2 54.8,128.0 55.0,126.5 55.0,126.2 55.2,123.8 55.4,121.0 55.6,117.4 55.8,113.6 56.0,110.5 56.0,110.4 56.2,107.8 56.4,107.5 56.6,109.0 56.8,112.3 57.0,115.5 57.0,115.9 57.2,119.8 57.4,122.8 57.6,125.3 57.8,127.3 58.0,128.7 58.0,128.9 58.2,129.7 58.4,130.3 58.6,131.0 58.8,131.4 59.0,131.6 59.0,131.8 59.2,131.9 59.4,132.1 59.6,132.1 59.8,132.4 60.0,132.6 60.0,132.5 60.2,132.5 60.4,132.6 60.6,132.8 60.8,132.6 61.0,132.7 61.0,132.8 61.2,132.8 61.4,132.8 61.6,132.9 61.8,132.9 62.0,132.9 62.0,132.9 62.2,132.8 62.4,133.0 62.6,133.1 62.8,132.9 63.0,133.0 63.0,133.1 63.2,132.9 63.4,133.1 63.6,133.0 63.8,133.2 64.0,133.3 64.0,133.3 64.2,133.1 64.4,133.2 64.6,133.1 64.8,133.1 65.0,133.3 65.0,133.0 65.2,133.2 65.4,133.1 65.6,133.3 65.8,133.2 66.0,133.1 66.0,133.2 66.2,133.2 66.4,133.2 66.6,133.2 66.8,133.1 67.0,133.0 67.0,133.3 67.2,133.3 67.4,133.2 67.6,133.2 67.8,133.3 68.0,133.2 68.0,133.1 68.2,133.2 68.4,133.3 68.6,133.1 68.8,133.3 69.0,133.2 69.0,133.1 69.2,133.4 69.4,133.2 69.6,133.1 69.8,133.2 70.0,133.3 70.0,133.4 71.0,133.2 72.0,133.3 73.0,133.3 74.0,133.2 75.0,133.3 76.0,133.3 77.0,133.3 78.0,133.3 79.0,133.3 80.0,133.3 81.0,133.3 82.0,133.3 83.0,133.4 84.0,133.4 85.0,133.4 86.0,133.5 87.0,133.4 88.0,133.6 89.0,133.3 90.0,133.4 91.0,133.3 92.0,133.6 93.0,133.5 94.0,133.2 95.0,133.3 96.0,133.4 97.0,133.5 98.0,133.5 99.0,133.4 100.0,133.4 101.0,133.5 102.0,133.4 103.0,133.5 104.0,133.2 105.0,133.5 106.0,133.3 107.0,133.5 108.0,133.4 109.0,133.3 110.0,133.5 111.0,133.3 112.0,133.3 113.0,133.3 114.0,133.4 115.0,133.5 116.0,133.5 117.0,133.4 118.0,133.6 119.0,133.5 120.0,133.4 121.0,133.5 122.0,133.6 123.0,133.4 124.0,133.4 125.0,133.4 126.0,133.5 127.0,133.4 128.0,133.6 129.0,133.4 130.0,133.5 131.0,133.4 132.0,133.5 133.0,133.5 134.0,133.4 135.0,133.7 136.0,133.5 137.0,133.7 138.0,133.6 139.0,133.4 140.0,133.5 141.0,133.6 142.0,133.5 143.0,133.5 144.0,133.5 145.0,133.3 146.0,133.5 147.0,133.3 148.0,133.6 149.0,133.5 150.0,133.5 151.0,133.5 152.0,133.6 153.0,133.4 154.0,133.4 155.0,133.4 156.0,133.3 157.0,133.4 158.0,133.7 159.0,133.4 160.0,133.6 161.0,133.4 162.0,133.6 163.0,133.5 164.0,133.5 165.0,133.6 166.0,133.7 167.0,133.6 168.0,133.6 169.0,133.4 169.8,133.6 170.0,133.5 170.0,133.6 170.2,133.5 170.4,133.7 170.6,133.3 170.8,133.5 171.0,133.6 171.0,133.5 171.2,133.4 171.4,133.5 171.6,133.3 171.8,133.5 172.0,133.7 172.0,133.6 172.2,133.3 172.4,133.3 172.6,133.2 172.8,132.9 173.0,132.2 173.0,132.0 173.2,130.6 173.4,128.6 173.6,126.4 173.8,125.5 174.0,126.0 174.0,126.4 174.2,128.3 174.4,130.6 174.6,132.0 174.8,132.9 175.0,133.3 175.0,133.3 175.2,133.2 175.4,133.5 175.6,133.6 175.8,133.4 176.0,133.4 176.0,133.5 176.2,133.3 176.4,133.7 176.6,133.3 176.8,133.4 177.0,133.5 177.0,133.5 177.2,133.5 177.4,133.6 177.6,133.5 178.0,133.7 179.0,133.3 180.0,133.5 181.0,133.5 182.0,133.6 183.0,133.6 184.0,133.5 185.0,133.5 186.0,133.6 187.0,133.6 188.0,133.5 189.0,133.7 190.0,133.8 191.0,133.4 192.0,133.5 193.0,133.7 194.0,133.5 195.0,133.4 195.2,133.3 195.4,133.2 195.6,133.2 195.8,133.1 196.0,133.1 196.0,132.9 196.2,132.7 196.4,132.4 196.6,132.2 196.8,131.7 197.0,131.4 197.0,131.5 197.2,130.9 197.4,130.5 197.6,130.2 197.8,130.1 198.0,130.2 198.0,130.2 198.2,130.6 198.4,130.8 198.6,131.5 198.8,131.8 199.0,132.1 199.0,132.1 199.2,132.4 199.4,132.8 199.6,132.9 199.8,133.2 200.0,133.1 200.0,132.9 200.2,133.2 200.4,133.1 200.6,133.3 200.8,133.4 201.0,133.4 201.0,133.2 202.0,133.3 203.0,133.5 204.0,133.4 205.0,133.4 206.0,133.4 207.0,133.6 208.0,133.4 209.0,133.3 210.0,133.2 211.0,133.2 212.0,133.0 213.0,132.9 214.0,132.9 215.0,132.7 216.0,132.7 217.0,132.5 218.0,132.6 219.0,132.0 220.0,131.7 221.0,131.3 222.0,130.8 222.8,130.3 222.9,129.9 223.0,129.8 223.2,129.6 223.3,129.4 223.6,129.4 223.8,129.0 223.9,128.7 224.0,128.7 224.2,128.5 224.3,128.2 224.6,127.7 224.8,127.3 224.9,126.7 225.0,126.7 225.2,126.6 225.3,125.6 225.6,125.2 225.8,124.6 225.9,123.8 226.0,123.5 226.2,122.9 226.3,121.9 226.6,120.8 226.8,119.3 226.9,118.0 227.0,117.5 227.2,116.2 227.3,114.2 227.6,111.8 227.8,108.9 227.9,105.2 228.0,104.4 228.2,101.1 228.3,95.7 228.6,88.9 228.8,80.1 228.9,68.8 229.0,65.5 229.2,53.5 229.3,33.0 229.6,5.0 229.8,5.0 229.9,5.0 230.0,5.0 230.2,5.0 230.3,5.0 230.6,5.0 230.8,5.0 230.9,5.0 231.0,5.0 231.2,5.0 231.3,5.0 231.6,5.0 231.8,5.0 231.9,5.0 232.0,11.9 232.2,32.9 232.3,53.5 232.6,68.7 232.8,80.3 232.9,88.8 233.0,90.5 233.2,95.6 233.3,101.1 233.6,105.2 233.8,108.7 233.9,111.7 234.0,112.4 234.2,114.3 234.3,116.4 234.6,118.1 234.8,119.6 234.9,121.0 235.0,121.2 235.2,121.8 235.3,122.9 235.6,123.9 235.8,124.6 235.9,125.4 236.0,125.4 236.2,125.8 236.3,126.6 236.6,127.0 236.8,127.4 236.9,127.9 237.0,128.0 237.2,128.2 237.3,128.3 237.6,128.7 237.8,129.0 237.9,129.2 238.0,129.4 238.2,129.7 238.3,129.8 238.6,129.9 239.0,130.6 240.0,131.1 241.0,131.5 242.0,132.0 243.0,132.3 244.0,132.4 245.0,132.8 246.0,132.8 247.0,132.9 248.0,133.1 249.0,133.2 250.0,133.2 251.0,133.3 252.0,133.3 253.0,133.7 254.0,133.4 255.0,133.6 256.0,133.5 257.0,133.5 258.0,133.6 259.0,133.7 260.0,133.8 261.0,133.7 262.0,133.6 263.0,133.6 264.0,133.7 265.0,133.8 266.0,133.9 267.0,133.8 268.0,133.9 269.0,133.9 270.0,133.8 271.0,133.6 272.0,133.7 273.0,133.7 274.0,134.0 275.0,133.7 276.0,134.0 277.0,133.9 277.0,134.0 277.2,133.9 277.4,133.8 277.6,133.8 277.8,133.9 278.0,133.9 278.0,133.8 278.2,133.8 278.4,134.0 278.6,133.7 278.8,133.9 279.0,133.8 279.0,133.9 279.2,133.9 279.4,133.9 279.6,133.9 279.8,133.7 280.0,134.0 280.0,133.8 280.2,133.9 280.4,133.9 280.6,133.6 280.8,133.8 281.0,133.9 281.0,134.0 281.2,133.9 281.4,133.9 281.6,133.7 281.8,134.0 282.0,134.1 282.0,133.9 282.2,133.9 282.4,133.7 282.6,134.0 282.8,134.2 283.0,134.0 283.0,134.0 283.2,133.9 283.4,133.8 283.6,134.0 283.8,133.8 284.0,133.9 284.0,133.9 284.2,134.0 284.4,133.9 284.6,133.9 284.8,133.8 285.0,133.8 285.0,133.9 285.2,133.8 285.4,133.8 285.6,133.8 285.8,133.8 286.0,133.7 286.0,133.8 286.2,133.7 286.4,133.9 286.6,133.9 286.8,134.1 287.0,133.8 288.0,133.8 289.0,134.0 290.0,133.9 291.0,133.9 292.0,134.1 293.0,133.9 294.0,133.8 295.0,133.8 296.0,134.0 297.0,134.0 298.0,133.8 299.0,133.9 300.0,134.0 301.0,134.0 302.0,133.9 303.0,134.0 304.0,134.0 305.0,133.8 306.0,134.0 307.0,134.0 308.0,133.9 309.0,133.8 310.0,134.0 311.0,134.1 312.0,134.2 313.0,133.8 314.0,134.3 315.0,133.9 316.0,134.1 317.0,134.2 317.8,134.1 318.0,134.1 318.0,133.9 318.2,134.1 318.4,134.0 318.6,133.8 318.8,134.3 319.0,134.1 319.0,134.2 319.2,134.0 319.4,134.2 319.6,134.2 319.8,134.2 320.0,134.0 320.0,133.9 320.2,134.0 320.4,133.8 320.6,133.9 320.8,134.1 321.0,134.0 321.0,134.0 321.2,134.0 321.4,134.2 321.6,134.2 321.8,134.1 322.0,134.2 322.0,134.0 322.2,134.0 322.4,134.1 322.6,133.9 322.8,134.0 323.0,133.9 323.0,134.1 323.2,134.2 323.4,134.0 323.6,134.1 323.8,134.0 324.0,133.9 324.0,133.9 324.2,134.2 324.4,134.3 324.6,134.1 324.8,134.0 325.0,134.1 325.0,134.0 325.2,134.1 325.4,134.1 325.6,134.1 326.0,134.1 327.0,134.0 328.0,134.0 329.0,133.9 330.0,134.0 331.0,133.9 332.0,134.1 333.0,134.0 334.0,134.1 335.0,134.1 336.0,134.0 337.0,134.0 338.0,134.0 339.0,134.2 340.0,134.3 341.0,134.2 342.0,134.1 343.0,134.3 344.0,134.0 345.0,134.3 346.0,134.1 346.9,133.9 347.0,134.4 347.1,134.3 347.2,134.0 347.4,134.2 347.6,134.1 347.9,134.2 348.0,134.0 348.1,134.1 348.2,134.2 348.4,134.2 348.6,134.3 348.9,134.2 349.0,134.4 349.1,134.1 349.2,134.2 349.4,134.0 349.6,134.0 349.9,134.3 350.0,134.1 350.1,134.2 350.2,134.1 350.4,134.1 350.6,134.1 350.9,134.1 351.0,134.1 351.1,134.2 351.2,134.2 351.4,134.1 351.6,134.1 351.9,134.2 352.0,134.1 352.1,134.3 352.1,134.4 352.2,134.2 352.3,134.2 352.4,134.1 352.5,134.1 352.6,134.1 352.7,134.1 352.9,134.1 353.0,134.1 353.1,134.2 353.3,134.1 353.5,134.1 353.7,134.0 353.9,134.3 354.0,134.2 354.1,134.3 354.3,134.2 354.5,134.3 354.7,134.1 354.9,134.2 355.0,134.4 355.1,134.0 355.3,134.3 355.5,134.3 355.7,134.2 355.9,134.2 356.0,134.3 356.1,134.1 356.3,134.2 356.5,134.1 356.7,134.1 356.9,134.1 357.0,134.2 357.1,134.2 357.3,134.2 357.5,134.0 357.7,134.4 357.9,134.3 358.0,134.3 359.0,134.1 360.0,134.2 361.0,134.2 361.1,134.2 361.3,134.0 361.5,134.3 361.7,134.5 361.9,134.0 362.0,134.3 362.1,134.2 362.3,134.2 362.5,134.3 362.7,134.1 362.9,134.2 363.0,134.3 363.1,134.2 363.3,134.2 363.5,134.2 363.7,134.2 363.9,134.4 364.0,134.1 364.1,134.3 364.3,134.1 364.5,134.3 364.7,134.2 364.9,133.9 365.0,134.2 365.1,134.1 365.3,134.2 365.5,134.4 365.7,134.1 365.9,134.1 366.0,134.4 366.1,134.2 366.3,134.4 366.5,134.2 366.7,134.1 366.9,134.2 367.0,134.3 368.0,134.3 369.0,134.2 370.0,134.2 371.0,134.2 372.0,134.2 373.0,134.4 374.0,134.2 375.0,134.1 376.0,134.2 377.0,134.3 378.0,134.3 379.0,134.2 380.0,134.2 381.0,134.3 382.0,134.1 383.0,134.1 384.0,134.3 385.0,134.2 386.0,134.3 387.0,134.4 388.0,134.3 389.0,134.3 390.0,134.5 391.0,134.4 392.0,134.3 393.0,134.4" fill="none" stroke="#6ef3f3" stroke-width="1.8" stroke-linejoin="round" />
<polyline points="29.0,150.8 30.0,150.7 31.0,150.8 32.0,150.8 33.0,150.6 34.0,150.8 35.0,150.8 36.0,150.8 37.0,150.6 38.0,150.8 39.0,150.8 40.0,150.8 41.0,150.7 42.0,150.9 43.0,150.7 44.0,150.8 45.0,150.9 46.0,150.7 47.0,150.7 48.0,150.9 49.0,150.7 50.0,150.7 50.0,150.8 50.2,150.8 50.4,150.5 50.6,150.6 50.8,150.6 51.0,150.6 51.0,150.6 51.2,150.6 51.4,150.7 51.6,150.6 51.8,150.7 52.0,150.7 52.0,150.6 52.2,150.7 52.4,150.8 52.6,150.7 52.8,150.5 53.0,150.6 53.0,150.5 53.2,150.6 53.4,150.6 53.6,150.5 53.8,150.5 54.0,150.6 54.0,150.4 54.2,150.5 54.4,150.3 54.6,150.3 54.8,150.3 55.0,150.5 55.0,150.3 55.2,150.2 55.4,150.2 55.6,150.1 55.8,150.1 56.0,150.0 56.0,150.2 56.2,149.9 56.4,149.9 56.6,149.7 56.8,149.5 57.0,149.1 57.0,149.3 57.2,149.0 57.4,148.6 57.6,147.9 57.8,147.6 58.0,146.7 58.0,146.6 58.2,145.4 58.4,144.0 58.6,142.3 58.8,140.1 59.0,138.1 59.0,138.0 59.2,135.6 59.4,133.4 59.6,131.7 59.8,130.9 60.0,131.2 60.0,131.4 60.2,132.6 60.4,134.9 60.6,137.2 60.8,139.4 61.0,141.5 61.0,141.4 61.2,143.3 61.4,144.9 61.6,146.2 61.8,147.2 62.0,147.8 62.0,147.9 62.2,148.3 62.4,148.9 62.6,149.1 62.8,149.4 63.0,149.6 63.0,149.5 63.2,149.6 63.4,149.8 63.6,150.0 63.8,150.1 64.0,150.2 64.0,150.1 64.2,150.1 64.4,150.2 64.6,150.4 64.8,150.2 65.0,150.5 65.0,150.4 65.2,150.4 65.4,150.5 65.6,150.6 65.8,150.6 66.0,150.7 66.0,150.6 66.2,150.7 66.4,150.8 66.6,150.6 66.8,150.8 67.0,150.7 67.0,150.7 67.2,150.6 67.4,150.7 67.6,150.8 67.8,150.6 68.0,150.8 68.0,150.8 68.2,150.8 68.4,150.5 68.6,150.8 68.8,150.9 69.0,150.7 69.0,150.8 69.2,150.6 69.4,150.9 69.6,150.8 69.8,150.9 70.0,150.6 70.0,150.9 71.0,150.8 72.0,151.0 73.0,150.8 74.0,150.9 75.0,151.2 76.0,150.9 77.0,150.9 78.0,150.9 79.0,150.9 80.0,151.1 81.0,151.2 82.0,150.9 83.0,150.8 84.0,151.1 85.0,151.1 86.0,151.1 87.0,151.1 88.0,150.9 89.0,151.0 90.0,150.9 91.0,150.9 92.0,151.1 93.0,151.0 94.0,151.3 95.0,151.1 96.0,151.0 97.0,151.2 98.0,151.3 99.0,151.1 100.0,151.0 101.0,151.1 102.0,151.2 103.0,151.1 104.0,151.0 105.0,151.2 106.0,151.1 107.0,151.0 108.0,151.1 109.0,151.1 110.0,151.2 111.0,151.1 112.0,151.3 113.0,151.2 114.0,151.0 115.0,151.2 116.0,151.2 117.0,151.2 118.0,151.3 119.0,151.1 120.0,151.1 121.0,151.3 122.0,151.1 123.0,151.0 124.0,151.3 125.0,151.1 126.0,151.2 127.0,151.1 128.0,151.1 129.0,151.1 130.0,151.2 131.0,151.3 132.0,151.0 133.0,151.3 134.0,151.1 135.0,151.1 136.0,151.3 137.0,151.2 138.0,151.1 139.0,151.4 140.0,151.2 141.0,151.3 142.0,151.3 143.0,151.4 144.0,151.2 145.0,151.4 146.0,151.2 147.0,151.4 148.0,151.2 149.0,151.3 150.0,151.5 151.0,151.3 152.0,151.3 153.0,151.5 154.0,151.3 155.0,151.2 156.0,151.4 157.0,151.2 158.0,151.4 159.0,151.4 160.0,151.3 161.0,151.3 162.0,151.4 163.0,151.3 164.0,151.2 165.0,151.4 166.0,151.1 167.0,151.3 168.0,151.3 169.0,151.3 169.8,151.4 170.0,151.2 170.0,151.4 170.2,151.3 170.4,151.3 170.6,151.2 170.8,151.2 171.0,151.4 171.0,151.3 171.2,151.4 171.4,151.5 171.6,151.5 171.8,151.5 172.0,151.3 172.0,151.2 172.2,151.5 172.4,151.4 172.6,151.5 172.8,151.4 173.0,151.5 173.0,151.4 173.2,151.4 173.4,151.4 173.6,151.4 173.8,151.4 174.0,151.4 174.0,151.5 174.2,151.3 174.4,151.5 174.6,151.4 174.8,151.5 175.0,151.4 175.0,151.3 175.2,151.6 175.4,151.3 175.6,151.2 175.8,151.3 176.0,151.3 176.0,151.6 176.2,151.4 176.4,151.5 176.6,151.3 176.8,151.4 177.0,151.4 177.0,151.5 177.2,151.3 177.4,151.4 177.6,151.4 178.0,151.3 179.0,151.4 180.0,151.3 181.0,151.1 182.0,151.4 183.0,151.4 184.0,151.3 185.0,151.2 186.0,151.5 187.0,151.4 188.0,151.5 189.0,151.5 190.0,151.3 191.0,151.4 192.0,151.3 193.0,151.3 194.0,151.3 195.0,151.2 195.2,151.3 195.4,151.1 195.6,151.1 195.8,151.0 196.0,150.9 196.0,150.8 196.2,150.6 196.4,150.5 196.6,150.1 196.8,149.8 197.0,149.4 197.0,149.6 197.2,149.2 197.4,148.7 197.6,148.4 197.8,148.5 198.0,148.4 198.0,148.4 198.2,148.7 198.4,149.1 198.6,149.6 198.8,149.8 199.0,150.3 199.0,150.1 199.2,150.5 199.4,150.6 199.6,151.0 199.8,150.9 200.0,151.0 200.0,151.1 200.2,151.2 200.4,151.0 200.6,151.1 200.8,151.0 201.0,151.2 201.0,151.2 202.0,151.2 203.0,151.1 204.0,151.2 205.0,151.1 206.0,151.2 207.0,151.3 208.0,150.9 209.0,151.1 210.0,151.0 211.0,151.0 212.0,150.8 213.0,150.8 214.0,150.7 215.0,150.7 216.0,150.6 217.0,150.4 218.0,150.2 219.0,149.9 220.0,149.5 221.0,149.2 222.0,148.6 222.8,148.0 222.9,147.9 223.0,147.9 223.2,147.5 223.3,147.3 223.6,147.3 223.8,147.1 223.9,146.6 224.0,146.4 224.2,146.3 224.3,145.9 224.6,145.5 224.8,145.2 224.9,144.6 225.0,144.5 225.2,144.4 225.3,143.7 225.6,143.1 225.8,142.5 225.9,141.7 226.0,141.4 226.2,140.8 226.3,139.7 226.6,138.8 226.8,137.4 226.9,135.7 227.0,135.4 227.2,134.2 227.3,132.1 227.6,129.8 227.8,126.8 227.9,123.1 228.0,122.1 228.2,118.7 228.3,113.5 228.6,106.7 228.8,98.3 228.9,86.7 229.0,83.1 229.2,71.5 229.3,50.8 229.6,21.6 229.8,5.0 229.9,5.0 230.0,5.0 230.2,5.0 230.3,5.0 230.6,5.0 230.8,5.0 230.9,5.0 231.0,5.0 231.2,5.0 231.3,5.0 231.6,5.0 231.8,5.0 231.9,21.8 232.0,29.9 232.2,50.9 232.3,71.4 232.6,86.8 232.8,98.1 232.9,106.7 233.0,108.4 233.2,113.4 233.3,118.9 233.6,123.3 233.8,126.7 233.9,129.7 234.0,130.2 234.2,132.0 234.3,134.1 234.6,135.9 234.8,137.2 234.9,138.8 235.0,139.1 235.2,139.7 235.3,140.7 235.6,141.7 235.8,142.4 235.9,142.9 236.0,143.4 236.2,143.8 236.3,144.3 236.6,145.0 236.8,145.3 236.9,145.6 237.0,145.8 237.2,145.9 237.3,146.3 237.6,146.7 237.8,146.9 237.9,147.2 238.0,147.5 238.2,147.6 238.3,147.8 238.6,147.9 239.0,148.3 240.0,149.1 241.0,149.5 242.0,150.1 243.0,150.1 244.0,150.4 245.0,150.5 246.0,150.7 247.0,150.9 248.0,151.1 249.0,151.0 250.0,151.1 251.0,151.2 252.0,151.2 253.0,151.2 254.0,151.4 255.0,151.2 256.0,151.4 257.0,151.5 258.0,151.4 259.0,151.4 260.0,151.4 261.0,151.7 262.0,151.4 263.0,151.8 264.0,151.7 265.0,151.6 266.0,151.5 267.0,151.8 268.0,151.8 269.0,151.6 270.0,151.7 271.0,151.8 272.0,151.7 273.0,151.9 274.0,151.7 275.0,151.8 276.0,151.6 277.0,151.9 277.0,151.6 277.2,151.5 277.4,151.7 277.6,151.7 277.8,151.9 278.0,151.6 278.0,151.7 278.2,151.7 278.4,151.8 278.6,151.6 278.8,151.7 279.0,151.6 279.0,151.5 279.2,151.5 279.4,151.4 279.6,151.3 279.8,151.4 280.0,151.0 280.0,151.3 280.2,151.1 280.4,150.9 280.6,150.7 280.8,150.5 281.0,150.4 281.0,150.4 281.2,150.2 281.4,150.2 281.6,149.9 281.8,149.9 282.0,149.7 282.0,149.9 282.2,149.9 282.4,149.9 282.6,150.2 282.8,150.3 283.0,150.1 283.0,150.4 283.2,150.4 283.4,150.9 283.6,151.2 283.8,151.0 284.0,151.2 284.0,151.2 284.2,151.3 284.4,151.5 284.6,151.6 284.8,151.4 285.0,151.7 285.0,151.5 285.2,151.7 285.4,151.8 285.6,151.8 285.8,151.6 286.0,151.7 286.0,151.7 286.2,151.7 286.4,151.9 286.6,151.6 286.8,151.8 287.0,151.8 288.0,151.9 289.0,151.9 290.0,152.0 291.0,151.9 292.0,152.0 293.0,151.9 294.0,152.1 295.0,151.7 296.0,152.0 297.0,151.9 298.0,151.9 299.0,151.8 300.0,151.7 301.0,151.9 302.0,151.9 303.0,152.0 304.0,151.8 305.0,152.1 306.0,152.0 307.0,152.0 308.0,151.9 309.0,151.9 310.0,151.9 311.0,151.9 312.0,152.0 313.0,152.0 314.0,151.9 315.0,152.0 316.0,151.9 317.0,152.0 317.8,152.2 318.0,152.1 318.0,152.0 318.2,151.9 318.4,151.9 318.6,151.9 318.8,152.1 319.0,152.0 319.0,152.0 319.2,152.0 319.4,152.1 319.6,152.2 319.8,152.0 320.0,152.0 320.0,152.0 320.2,152.1 320.4,151.9 320.6,151.9 320.8,151.9 321.0,151.9 321.0,152.1 321.2,152.3 321.4,152.0 321.6,152.2 321.8,152.1 322.0,151.9 322.0,152.0 322.2,152.0 322.4,152.0 322.6,152.3 322.8,151.9 323.0,152.1 323.0,152.1 323.2,152.0 323.4,152.1 323.6,152.2 323.8,152.1 324.0,152.1 324.0,152.1 324.2,151.9 324.4,152.2 324.6,152.3 324.8,152.2 325.0,152.2 325.0,151.9 325.2,152.1 325.4,152.0 325.6,152.0 326.0,152.2 327.0,152.0 328.0,152.1 329.0,151.9 330.0,152.1 331.0,152.1 332.0,152.0 333.0,152.0 334.0,152.3 335.0,152.0 336.0,152.0 337.0,152.1 338.0,152.3 339.0,152.4 340.0,152.2 341.0,152.1 342.0,152.1 343.0,152.3 344.0,152.1 345.0,152.3 346.0,152.3 346.9,152.2 347.0,152.2 347.1,152.3 347.2,152.3 347.4,152.1 347.6,152.3 347.9,152.1 348.0,152.1 348.1,152.2 348.2,152.2 348.4,152.1 348.6,152.0 348.9,152.1 349.0,152.3 349.1,152.4 349.2,152.3 349.4,152.3 349.6,152.1 349.9,152.2 350.0,152.2 350.1,152.1 350.2,152.1 350.4,152.2 350.6,152.2 350.9,152.1 351.0,152.2 351.1,152.2 351.2,152.3 351.4,152.2 351.6,152.2 351.9,152.2 352.0,152.2 352.1,152.1 352.1,152.2 352.2,152.3 352.3,152.3 352.4,152.3 352.5,152.0 352.6,152.2 352.7,152.2 352.9,152.2 353.0,152.2 353.1,152.2 353.3,152.3 353.5,152.2 353.7,152.1 353.9,152.3 354.0,152.3 354.1,152.2 354.3,152.3 354.5,152.1 354.7,152.3 354.9,152.2 355.0,152.1 355.1,152.2 355.3,152.1 355.5,152.2 355.7,152.2 355.9,152.2 356.0,152.2 356.1,151.9 356.3,152.2 356.5,152.0 356.7,152.2 356.9,152.3 357.0,152.3 357.1,152.2 357.3,152.2 357.5,152.2 357.7,152.2 357.9,152.2 358.0,152.1 359.0,152.4 360.0,152.2 361.0,152.3 361.1,152.2 361.3,152.3 361.5,152.2 361.7,152.3 361.9,152.3 362.0,152.3 362.1,152.2 362.3,152.2 362.5,152.4 362.7,152.2 362.9,152.2 363.0,152.4 363.1,152.4 363.3,152.3 363.5,152.2 363.7,152.5 363.9,152.3 364.0,152.3 364.1,152.2 364.3,152.1 364.5,152.1 364.7,152.3 364.9,152.3 365.0,152.2 365.1,152.1 365.3,152.1 365.5,152.2 365.7,152.1 365.9,152.4 366.0,152.4 366.1,152.6 366.3,152.4 366.5,152.2 366.7,152.2 366.9,151.9 367.0,152.2 368.0,152.3 369.0,152.4 370.0,152.3 371.0,152.3 372.0,152.3 373.0,152.4 374.0,152.4 375.0,152.2 376.0,152.3 377.0,152.2 378.0,152.5 379.0,152.5 380.0,152.4 381.0,152.2 382.0,152.4 383.0,152.3 384.0,152.4 385.0,152.3 386.0,152.4 387.0,152.3 388.0,152.5 389.0,152.4 390.0,152.3 391.0,152.4 392.0,152.3 393.0,152.5" fill="none" stroke="#a84a28" stroke-width="1.6" stroke-linejoin="round" />
<polyline points="29.0,168.3 30.0,168.4 31.0,168.3 32.0,168.2 33.0,168.5 34.0,168.3 35.0,168.5 36.0,168.4 37.0,168.2 38.0,168.3 39.0,168.3 40.0,168.3 41.0,168.3 42.0,168.5 43.0,168.4 44.0,168.4 45.0,168.3 46.0,168.4 47.0,168.3 48.0,168.3 49.0,168.4 50.0,168.3 50.0,168.2 50.2,168.2 50.4,168.3 50.6,168.3 50.8,168.2 51.0,168.2 51.0,168.3 51.2,168.5 51.4,168.2 51.6,168.2 51.8,168.2 52.0,167.9 52.0,168.2 52.2,168.1 52.4,168.3 52.6,168.1 52.8,168.0 53.0,168.1 53.0,168.1 53.2,168.0 53.4,168.0 53.6,167.9 53.8,167.9 54.0,168.0 54.0,168.1 54.2,168.0 54.4,167.9 54.6,167.9 54.8,167.9 55.0,167.9 55.0,167.8 55.2,167.6 55.4,167.6 55.6,167.5 55.8,167.4 56.0,167.3 56.0,167.2 56.2,167.0 56.4,167.0 56.6,166.7 56.8,166.7 57.0,166.4 57.0,166.3 57.2,166.2 57.4,165.9 57.6,165.3 57.8,164.9 58.0,164.2 58.0,163.8 58.2,162.8 58.4,161.0 58.6,158.4 58.8,154.6 59.0,149.8 59.0,149.2 59.2,142.4 59.4,134.4 59.6,126.0 59.8,119.1 60.0,116.4 60.0,116.6 60.2,119.2 60.4,126.1 60.6,134.3 60.8,142.4 61.0,148.6 61.0,149.3 61.2,154.5 61.4,158.4 61.6,161.0 61.8,162.7 62.0,163.8 62.0,164.0 62.2,164.7 62.4,165.5 62.6,165.8 62.8,166.2 63.0,166.4 63.0,166.5 63.2,166.8 63.4,167.0 63.6,167.1 63.8,167.3 64.0,167.3 64.0,167.4 64.2,167.4 64.4,167.3 64.6,167.7 64.8,167.7 65.0,167.6 65.0,167.7 65.2,167.7 65.4,168.1 65.6,167.9 65.8,167.8 66.0,168.0 66.0,167.9 66.2,168.2 66.4,167.9 66.6,167.8 66.8,168.1 67.0,168.1 67.0,168.1 67.2,167.9 67.4,168.2 67.6,168.4 67.8,168.0 68.0,168.3 68.0,168.2 68.2,168.5 68.4,168.3 68.6,168.2 68.8,168.4 69.0,168.3 69.0,168.2 69.2,168.4 69.4,168.3 69.6,168.1 69.8,168.5 70.0,168.3 70.0,168.3 71.0,168.4 72.0,168.2 73.0,168.3 74.0,168.4 75.0,168.4 76.0,168.5 77.0,168.6 78.0,168.5 79.0,168.6 80.0,168.6 81.0,168.4 82.0,168.6 83.0,168.4 84.0,168.7 85.0,168.6 86.0,168.6 87.0,168.4 88.0,168.6 89.0,168.5 90.0,168.7 91.0,168.6 92.0,168.5 93.0,168.7 94.0,168.7 95.0,168.5 96.0,168.7 97.0,168.6 98.0,168.6 99.0,168.6 100.0,168.6 101.0,168.6 102.0,168.6 103.0,168.8 104.0,168.8 105.0,168.6 106.0,168.8 107.0,168.6 108.0,168.7 109.0,168.7 110.0,168.7 111.0,168.9 112.0,168.7 113.0,168.6 114.0,168.8 115.0,168.6 116.0,168.7 117.0,168.4 118.0,168.8 119.0,168.8 120.0,168.8 121.0,168.8 122.0,168.9 123.0,168.7 124.0,168.8 125.0,168.6 126.0,168.7 127.0,168.8 128.0,168.8 129.0,168.6 130.0,168.8 131.0,168.7 132.0,168.7 133.0,168.8 134.0,168.7 135.0,168.6 136.0,168.6 137.0,168.9 138.0,168.6 139.0,168.8 140.0,168.8 141.0,168.8 142.0,168.6 143.0,168.7 144.0,168.8 145.0,168.9 146.0,168.7 147.0,168.7 148.0,168.9 149.0,168.9 150.0,168.8 151.0,168.7 152.0,168.8 153.0,168.8 154.0,168.9 155.0,168.7 156.0,168.8 157.0,168.8 158.0,168.7 159.0,168.8 160.0,168.8 161.0,168.8 162.0,168.9 163.0,168.7 164.0,168.8 165.0,168.9 166.0,168.9 167.0,168.9 168.0,168.7 169.0,168.7 169.8,168.9 170.0,168.9 170.0,169.0 170.2,168.9 170.4,168.7 170.6,168.9 170.8,168.8 171.0,168.7 171.0,169.1 171.2,168.9 171.4,168.9 171.6,168.9 171.8,169.0 172.0,168.9 172.0,169.0 172.2,168.7 172.4,168.7 172.6,169.0 172.8,169.0 173.0,168.9 173.0,168.9 173.2,168.9 173.4,168.8 173.6,169.0 173.8,168.9 174.0,168.9 174.0,168.9 174.2,168.9 174.4,168.9 174.6,168.9 174.8,168.7 175.0,168.9 175.0,169.1 175.2,168.8 175.4,168.8 175.6,168.9 175.8,168.9 176.0,168.9 176.0,168.7 176.2,168.9 176.4,168.7 176.6,168.8 176.8,168.9 177.0,168.8 177.0,168.9 177.2,169.2 177.4,168.9 177.6,168.9 178.0,168.8 179.0,168.8 180.0,168.7 181.0,168.8 182.0,168.7 183.0,168.8 184.0,168.8 185.0,168.7 186.0,168.7 187.0,168.7 188.0,168.9 189.0,168.8 190.0,168.9 191.0,168.9 192.0,168.8 193.0,168.8 194.0,168.6 195.0,168.9 195.2,168.7 195.4,168.6 195.6,168.4 195.8,168.5 196.0,168.2 196.0,168.2 196.2,168.2 196.4,167.9 196.6,167.6 196.8,167.4 197.0,166.8 197.0,166.9 197.2,166.4 197.4,166.0 197.6,165.9 197.8,165.7 198.0,166.0 198.0,165.8 198.2,166.3 198.4,166.4 198.6,167.0 198.8,167.2 199.0,167.4 199.0,167.6 199.2,168.0 199.4,168.0 199.6,168.4 199.8,168.3 200.0,168.5 200.0,168.5 200.2,168.6 200.4,168.4 200.6,168.8 200.8,168.7 201.0,168.6 201.0,168.5 202.0,168.5 203.0,168.5 204.0,168.7 205.0,168.6 206.0,168.5 207.0,168.5 208.0,168.7 209.0,168.5 210.0,168.4 211.0,168.5 212.0,168.4 213.0,168.2 214.0,168.1 215.0,167.8 216.0,167.6 217.0,167.2 218.0,166.2 219.0,165.0 220.0,164.9 221.0,165.5 222.0,165.6 222.8,165.1 222.9,164.8 223.0,165.0 223.2,164.8 223.3,164.6 223.6,164.4 223.8,164.1 223.9,163.8 224.0,163.9 224.2,163.7 224.3,163.3 224.6,163.0 224.8,162.5 224.9,162.0 225.0,162.0 225.2,161.8 225.3,161.0 225.6,160.6 225.8,159.9 225.9,159.2 226.0,158.7 226.2,158.4 226.3,157.2 226.6,156.0 226.8,154.7 226.9,153.3 227.0,152.8 227.2,151.5 227.3,149.6 227.6,146.9 227.8,144.0 227.9,140.6 228.0,139.6 228.2,136.3 228.3,130.7 228.6,124.2 228.8,115.5 228.9,104.3 229.0,100.6 229.2,89.0 229.3,68.2 229.6,38.9 229.8,5.0 229.9,5.0 230.0,5.0 230.2,5.0 230.3,5.0 230.6,5.0 230.8,5.0 230.9,5.0 231.0,5.0 231.2,5.0 231.3,5.0 231.6,5.0 231.8,5.0 231.9,39.3 232.0,47.3 232.2,68.0 232.3,88.8 232.6,104.0 232.8,115.4 232.9,124.2 233.0,125.9 233.2,130.8 233.3,136.3 233.6,140.5 233.8,144.1 233.9,147.0 234.0,148.0 234.2,149.6 234.3,151.5 234.6,153.2 234.8,154.8 234.9,156.0 235.0,156.3 235.2,157.2 235.3,158.3 235.6,159.1 235.8,159.8 235.9,160.5 236.0,160.6 236.2,161.2 236.3,161.7 236.6,162.4 236.8,162.6 236.9,163.2 237.0,163.2 237.2,163.5 237.3,163.6 237.6,164.0 237.8,164.5 237.9,164.8 238.0,164.7 238.2,165.0 238.3,165.1 238.6,165.3 239.0,165.7 240.0,166.5 241.0,167.0 242.0,167.3 243.0,167.6 244.0,167.9 245.0,168.0 246.0,168.1 247.0,168.5 248.0,168.4 249.0,168.5 250.0,168.7 251.0,168.7 252.0,168.7 253.0,168.8 254.0,168.7 255.0,168.7 256.0,168.6 257.0,169.0 258.0,168.7 259.0,169.0 260.0,168.9 261.0,168.9 262.0,169.0 263.0,169.0 264.0,169.1 265.0,169.2 266.0,169.1 267.0,169.2 268.0,169.0 269.0,169.2 270.0,169.1 271.0,169.1 272.0,169.1 273.0,169.1 274.0,169.2 275.0,169.2 276.0,169.1 277.0,169.1 277.0,169.2 277.2,169.0 277.4,169.1 277.6,169.3 277.8,168.9 278.0,169.1 278.0,169.3 278.2,169.0 278.4,169.4 278.6,168.9 278.8,169.3 279.0,169.3 279.0,169.3 279.2,169.2 279.4,169.2 279.6,169.1 279.8,169.3 280.0,169.1 280.0,169.2 280.2,169.3 280.4,169.1 280.6,169.2 280.8,169.2 281.0,169.1 281.0,169.3 281.2,169.2 281.4,169.1 281.6,169.2 281.8,169.1 282.0,169.1 282.0,169.2 282.2,169.1 282.4,169.3 282.6,169.1 282.8,169.3 283.0,169.2 283.0,169.3 283.2,169.2 283.4,169.2 283.6,169.1 283.8,169.3 284.0,169.3 284.0,169.4 284.2,169.4 284.4,169.3 284.6,169.2 284.8,169.3 285.0,169.2 285.0,169.4 285.2,169.3 285.4,169.2 285.6,169.2 285.8,169.4 286.0,169.3 286.0,169.2 286.2,169.4 286.4,169.2 286.6,169.2 286.8,169.2 287.0,169.1 288.0,169.3 289.0,169.1 290.0,169.2 291.0,169.2 292.0,169.3 293.0,169.3 294.0,169.3 295.0,169.1 296.0,169.3 297.0,169.2 298.0,169.3 299.0,169.3 300.0,169.3 301.0,169.5 302.0,169.4 303.0,169.4 304.0,169.4 305.0,169.3 306.0,169.4 307.0,169.5 308.0,169.2 309.0,169.5 310.0,169.4 311.0,169.5 312.0,169.4 313.0,169.3 314.0,169.3 315.0,169.6 316.0,169.4 317.0,169.3 317.8,169.4 318.0,169.4 318.0,169.2 318.2,169.2 318.4,169.2 318.6,169.4 318.8,169.4 319.0,169.4 319.0,169.4 319.2,169.5 319.4,169.2 319.6,169.4 319.8,169.3 320.0,169.3 320.0,169.4 320.2,169.4 320.4,169.4 320.6,169.3 320.8,169.4 321.0,169.6 321.0,169.3 321.2,169.2 321.4,169.4 321.6,169.5 321.8,169.5 322.0,169.3 322.0,169.5 322.2,169.3 322.4,169.3 322.6,169.4 322.8,169.4 323.0,169.5 323.0,169.5 323.2,169.4 323.4,169.5 323.6,169.4 323.8,169.5 324.0,169.3 324.0,169.3 324.2,169.5 324.4,169.3 324.6,169.4 324.8,169.4 325.0,169.4 325.0,169.4 325.2,169.6 325.4,169.2 325.6,169.5 326.0,169.7 327.0,169.4 328.0,169.4 329.0,169.5 330.0,169.6 331.0,169.3 332.0,169.5 333.0,169.4 334.0,169.5 335.0,169.5 336.0,169.5 337.0,169.4 338.0,169.5 339.0,169.4 340.0,169.4 341.0,169.5 342.0,169.5 343.0,169.4 344.0,169.7 345.0,169.5 346.0,169.4 346.9,169.6 347.0,169.4 347.1,169.6 347.2,169.5 347.4,169.5 347.6,169.5 347.9,169.5 348.0,169.5 348.1,169.7 348.2,169.3 348.4,169.5 348.6,169.6 348.9,169.4 349.0,169.4 349.1,169.7 349.2,169.5 349.4,169.7 349.6,169.6 349.9,169.5 350.0,169.6 350.1,169.6 350.2,169.6 350.4,169.6 350.6,169.5 350.9,169.6 351.0,169.7 351.1,169.6 351.2,169.4 351.4,169.5 351.6,169.6 351.9,169.5 352.0,169.5 352.1,169.4 352.1,169.5 352.2,169.6 352.3,169.6 352.4,169.5 352.5,169.7 352.6,169.5 352.7,169.9 352.9,169.6 353.0,169.6 353.1,169.5 353.3,169.3 353.5,169.5 353.7,169.6 353.9,169.7 354.0,169.4 354.1,169.7 354.3,169.5 354.5,169.6 354.7,169.3 354.9,169.6 355.0,169.5 355.1,169.6 355.3,169.6 355.5,169.4 355.7,169.6 355.9,169.6 356.0,169.6 356.1,169.7 356.3,169.7 356.5,169.6 356.7,169.4 356.9,169.4 357.0,169.7 357.1,169.6 357.3,169.6 357.5,169.5 357.7,169.6 357.9,169.6 358.0,169.5 359.0,169.5 360.0,169.8 361.0,169.6 361.1,169.5 361.3,169.4 361.5,169.5 361.7,169.6 361.9,169.7 362.0,169.6 362.1,169.6 362.3,169.5 362.5,169.5 362.7,169.7 362.9,169.6 363.0,169.8 363.1,169.5 363.3,169.6 363.5,169.7 363.7,169.6 363.9,169.4 364.0,169.5 364.1,169.6 364.3,169.6 364.5,169.6 364.7,169.7 364.9,169.7 365.0,169.6 365.1,169.6 365.3,169.6 365.5,169.6 365.7,169.7 365.9,169.6 366.0,169.6 366.1,169.6 366.3,169.5 366.5,169.5 366.7,169.7 366.9,169.6 367.0,169.8 368.0,169.6 369.0,169.7 370.0,169.7 371.0,169.7 372.0,169.6 373.0,169.6 374.0,169.6 375.0,169.5 376.0,169.7 377.0,169.7 378.0,169.6 379.0,169.8 380.0,169.6 381.0,169.6 382.0,169.6 383.0,169.6 384.0,169.7 385.0,169.7 386.0,169.8 387.0,169.7 388.0,169.7 389.0,169.7 390.0,169.5 391.0,169.7 392.0,169.6 393.0,169.8" fill="none" stroke="#1515f0" stroke-width="1.8" stroke-linejoin="round" />
<polyline points="29.0,185.6 30.0,185.7 31.0,185.7 32.0,185.7 33.0,185.6 34.0,185.6 35.0,185.7 36.0,185.7 37.0,185.5 38.0,185.6 39.0,185.8 40.0,185.6 41.0,185.6 42.0,185.5 43.0,185.4 44.0,185.7 45.0,185.6 46.0,185.6 47.0,185.7 48.0,185.8 49.0,185.4 50.0,185.6 50.0,185.6 50.2,185.6 50.4,185.6 50.6,185.5 50.8,185.7 51.0,185.6 51.0,185.5 51.2,185.6 51.4,185.6 51.6,185.5 51.8,185.5 52.0,185.6 52.0,185.5 52.2,185.5 52.4,185.4 52.6,185.4 52.8,185.3 53.0,185.4 53.0,185.5 53.2,185.2 53.4,185.4 53.6,185.5 53.8,185.4 54.0,185.3 54.0,185.5 54.2,185.3 54.4,185.2 54.6,185.2 54.8,185.3 55.0,185.4 55.0,185.4 55.2,185.2 55.4,185.1 55.6,185.1 55.8,185.0 56.0,185.0 56.0,184.9 56.2,185.0 56.4,185.0 56.6,184.9 56.8,184.8 57.0,184.6 57.0,184.6 57.2,184.5 57.4,184.6 57.6,184.4 57.8,184.0 58.0,184.0 58.0,183.8 58.2,183.6 58.4,183.1 58.6,182.3 58.8,181.4 59.0,179.9 59.0,179.7 59.2,177.5 59.4,174.7 59.6,170.8 59.8,166.1 60.0,161.7 60.0,161.4 60.2,157.3 60.4,155.6 60.6,157.2 60.8,161.1 61.0,165.4 61.0,165.7 61.2,170.4 61.4,174.5 61.6,177.5 61.8,179.9 62.0,181.0 62.0,181.3 62.2,182.2 62.4,183.1 62.6,183.5 62.8,183.9 63.0,184.0 63.0,183.9 63.2,184.2 63.4,184.4 63.6,184.5 63.8,184.8 64.0,184.9 64.0,184.8 64.2,184.8 64.4,184.9 64.6,184.9 64.8,185.2 65.0,185.1 65.0,185.2 65.2,185.1 65.4,185.0 65.6,185.2 65.8,185.2 66.0,185.3 66.0,185.3 66.2,185.2 66.4,185.3 66.6,185.5 66.8,185.3 67.0,185.3 67.0,185.4 67.2,185.3 67.4,185.4 67.6,185.5 67.8,185.6 68.0,185.3 68.0,185.5 68.2,185.5 68.4,185.5 68.6,185.5 68.8,185.5 69.0,185.6 69.0,185.5 69.2,185.5 69.4,185.5 69.6,185.5 69.8,185.5 70.0,185.6 70.0,185.5 71.0,185.6 72.0,185.6 73.0,185.5 74.0,185.5 75.0,185.5 76.0,185.6 77.0,185.6 78.0,185.5 79.0,185.7 80.0,185.7 81.0,185.5 82.0,185.8 83.0,185.7 84.0,185.6 85.0,185.8 86.0,185.7 87.0,185.6 88.0,185.9 89.0,185.6 90.0,185.7 91.0,185.8 92.0,185.6 93.0,185.7 94.0,185.7 95.0,185.9 96.0,185.6 97.0,185.7 98.0,185.8 99.0,185.7 100.0,185.6 101.0,185.7 102.0,185.7 103.0,185.7 104.0,185.8 105.0,185.8 106.0,185.7 107.0,185.7 108.0,185.6 109.0,185.7 110.0,185.7 111.0,185.7 112.0,185.7 113.0,185.6 114.0,185.9 115.0,185.9 116.0,185.7 117.0,185.8 118.0,185.7 119.0,185.9 120.0,185.8 121.0,185.7 122.0,185.7 123.0,185.7 124.0,185.6 125.0,185.8 126.0,185.7 127.0,185.8 128.0,185.8 129.0,185.8 130.0,185.7 131.0,185.8 132.0,185.7 133.0,185.8 134.0,185.7 135.0,185.8 136.0,185.8 137.0,185.8 138.0,185.5 139.0,185.8 140.0,185.6 141.0,185.9 142.0,185.6 143.0,185.7 144.0,185.6 145.0,185.9 146.0,185.6 147.0,185.8 148.0,185.7 149.0,185.6 150.0,185.7 151.0,185.8 152.0,185.7 153.0,185.9 154.0,185.7 155.0,185.8 156.0,185.7 157.0,185.8 158.0,186.0 159.0,185.8 160.0,185.8 161.0,185.7 162.0,185.7 163.0,185.9 164.0,185.7 165.0,185.7 166.0,185.8 167.0,185.7 168.0,186.0 169.0,185.5 169.8,185.8 170.0,185.8 170.0,185.7 170.2,185.7 170.4,185.8 170.6,185.9 170.8,185.7 171.0,185.6 171.0,185.9 171.2,185.9 171.4,185.7 171.6,185.5 171.8,185.9 172.0,185.7 172.0,185.9 172.2,185.8 172.4,185.7 172.6,185.7 172.8,185.9 173.0,185.9 173.0,185.6 173.2,185.7 173.4,185.9 173.6,185.7 173.8,185.6 174.0,185.8 174.0,185.8 174.2,185.8 174.4,185.7 174.6,185.7 174.8,185.7 175.0,185.8 175.0,185.7 175.2,185.7 175.4,185.7 175.6,185.9 175.8,185.8 176.0,185.7 176.0,185.8 176.2,185.8 176.4,185.9 176.6,185.8 176.8,185.9 177.0,185.9 177.0,185.8 177.2,185.7 177.4,185.8 177.6,185.8 178.0,185.7 179.0,185.6 180.0,185.6 181.0,185.8 182.0,185.8 183.0,185.8 184.0,185.6 185.0,185.8 186.0,185.7 187.0,185.8 188.0,185.8 189.0,185.6 190.0,185.6 191.0,185.5 192.0,185.6 193.0,185.5 194.0,185.7 195.0,185.6 195.2,185.6 195.4,185.5 195.6,185.4 195.8,185.4 196.0,185.2 196.0,185.3 196.2,185.1 196.4,184.7 196.6,184.5 196.8,184.2 197.0,183.8 197.0,183.9 197.2,183.5 197.4,183.0 197.6,182.7 197.8,182.4 198.0,182.7 198.0,182.7 198.2,182.8 198.4,183.4 198.6,183.8 198.8,184.1 199.0,184.4 199.0,184.4 199.2,184.9 199.4,184.9 199.6,185.1 199.8,185.5 200.0,185.4 200.0,185.4 200.2,185.4 200.4,185.3 200.6,185.5 200.8,185.5 201.0,185.4 201.0,185.5 202.0,185.7 203.0,185.6 204.0,185.4 205.0,185.4 206.0,185.3 207.0,185.6 208.0,185.5 209.0,185.5 210.0,185.3 211.0,185.2 212.0,185.2 213.0,185.2 214.0,185.0 215.0,185.0 216.0,184.9 217.0,184.7 218.0,184.4 219.0,184.0 220.0,183.9 221.0,183.5 222.0,182.8 222.8,182.2 222.9,182.0 223.0,182.1 223.2,181.9 223.3,181.7 223.6,181.3 223.8,181.1 223.9,180.9 224.0,180.7 224.2,180.5 224.3,180.2 224.6,180.0 224.8,179.5 224.9,179.2 225.0,178.9 225.2,178.5 225.3,177.9 225.6,177.3 225.8,176.8 225.9,176.0 226.0,175.8 226.2,175.1 226.3,174.1 226.6,172.9 226.8,171.6 226.9,170.2 227.0,169.7 227.2,168.4 227.3,166.3 227.6,163.8 227.8,160.9 227.9,157.3 228.0,156.5 228.2,152.9 228.3,147.7 228.6,141.2 228.8,132.2 228.9,120.8 229.0,117.6 229.2,105.9 229.3,85.1 229.6,56.0 229.8,13.9 229.9,5.0 230.0,5.0 230.2,5.0 230.3,5.0 230.6,5.0 230.8,5.0 230.9,5.0 231.0,5.0 231.2,5.0 231.3,5.0 231.6,5.0 231.8,13.8 231.9,55.9 232.0,64.1 232.2,85.0 232.3,105.7 232.6,120.9 232.8,132.1 232.9,140.9 233.0,142.8 233.2,147.6 233.3,153.0 233.6,157.3 233.8,161.0 233.9,163.6 234.0,164.5 234.2,166.1 234.3,168.3 234.6,170.2 234.8,171.6 234.9,173.0 235.0,173.2 235.2,174.3 235.3,175.2 235.6,176.1 235.8,176.6 235.9,177.3 236.0,177.7 236.2,178.0 236.3,178.5 236.6,179.1 236.8,179.4 236.9,180.0 237.0,180.0 237.2,180.3 237.3,180.5 237.6,181.0 237.8,181.1 237.9,181.6 238.0,181.6 238.2,181.8 238.3,182.0 238.6,182.2 239.0,182.3 240.0,183.3 241.0,183.7 242.0,184.1 243.0,184.4 244.0,184.5 245.0,184.8 246.0,185.0 247.0,185.2 248.0,185.1 249.0,185.2 250.0,185.5 251.0,185.3 252.0,185.7 253.0,185.5 254.0,185.4 255.0,185.7 256.0,185.8 257.0,185.5 258.0,185.8 259.0,185.7 260.0,185.9 261.0,185.7 262.0,185.6 263.0,185.8 264.0,185.9 265.0,186.0 266.0,186.0 267.0,185.9 268.0,185.8 269.0,185.8 270.0,185.8 271.0,185.8 272.0,185.8 273.0,185.6 274.0,185.9 275.0,185.9 276.0,186.1 277.0,186.0 277.0,185.9 277.2,186.0 277.4,185.8 277.6,185.8 277.8,185.7 278.0,186.0 278.0,186.0 278.2,185.8 278.4,185.9 278.6,186.0 278.8,186.0 279.0,185.9 279.0,185.8 279.2,185.8 279.4,185.9 279.6,186.0 279.8,185.8 280.0,185.8 280.0,186.0 280.2,185.8 280.4,186.0 280.6,185.9 280.8,186.0 281.0,186.1 281.0,186.0 281.2,186.0 281.4,185.8 281.6,185.9 281.8,186.0 282.0,186.1 282.0,186.1 282.2,186.2 282.4,186.0 282.6,186.0 282.8,186.0 283.0,185.9 283.0,185.9 283.2,185.8 283.4,186.0 283.6,185.8 283.8,186.0 284.0,185.8 284.0,186.0 284.2,185.8 284.4,186.0 284.6,185.8 284.8,185.9 285.0,186.1 285.0,185.9 285.2,185.9 285.4,185.9 285.6,185.7 285.8,186.0 286.0,186.0 286.0,185.8 286.2,186.0 286.4,185.9 286.6,185.8 286.8,186.0 287.0,185.9 288.0,186.2 289.0,185.8 290.0,186.0 291.0,186.1 292.0,185.8 293.0,185.8 294.0,186.0 295.0,185.9 296.0,186.0 297.0,186.1 298.0,186.0 299.0,185.9 300.0,185.7 301.0,186.0 302.0,185.9 303.0,186.0 304.0,186.0 305.0,185.9 306.0,186.2 307.0,186.1 308.0,186.1 309.0,185.9 310.0,186.0 311.0,186.0 312.0,186.0 313.0,185.9 314.0,186.1 315.0,186.1 316.0,186.1 317.0,186.0 317.8,186.2 318.0,186.1 318.0,185.8 318.2,186.0 318.4,186.0 318.6,186.1 318.8,186.0 319.0,186.0 319.0,186.0 319.2,186.1 319.4,186.0 319.6,186.0 319.8,186.0 320.0,186.1 320.0,186.0 320.2,185.9 320.4,186.1 320.6,186.0 320.8,186.1 321.0,186.1 321.0,186.2 321.2,186.2 321.4,186.0 321.6,186.0 321.8,185.9 322.0,186.2 322.0,186.1 322.2,186.2 322.4,186.0 322.6,185.9 322.8,186.2 323.0,186.1 323.0,186.1 323.2,186.1 323.4,186.1 323.6,186.1 323.8,185.9 324.0,186.2 324.0,186.0 324.2,186.0 324.4,186.2 324.6,186.2 324.8,186.0 325.0,185.9 325.0,186.1 325.2,186.1 325.4,186.1 325.6,185.9 326.0,186.0 327.0,185.9 328.0,186.1 329.0,186.2 330.0,186.2 331.0,186.0 332.0,186.1 333.0,186.1 334.0,186.0 335.0,186.1 336.0,186.3 337.0,186.1 338.0,186.2 339.0,186.0 340.0,186.1 341.0,185.9 342.0,186.1 343.0,186.2 344.0,186.3 345.0,186.2 346.0,186.2 346.9,186.1 347.0,186.0 347.1,186.1 347.2,186.2 347.4,186.0 347.6,186.2 347.9,186.0 348.0,185.9 348.1,186.0 348.2,185.9 348.4,186.0 348.6,186.2 348.9,186.1 349.0,186.1 349.1,186.2 349.2,186.2 349.4,186.1 349.6,186.2 349.9,186.2 350.0,186.1 350.1,186.2 350.2,186.0 350.4,186.0 350.6,186.1 350.9,186.2 351.0,186.1 351.1,186.1 351.2,186.2 351.4,186.3 351.6,186.2 351.9,186.2 352.0,186.1 352.1,186.1 352.1,186.1 352.2,186.1 352.3,186.1 352.4,186.3 352.5,186.1 352.6,186.0 352.7,186.2 352.9,186.3 353.0,186.1 353.1,186.2 353.3,186.1 353.5,186.1 353.7,186.1 353.9,186.1 354.0,186.3 354.1,186.0 354.3,186.3 354.5,186.0 354.7,186.1 354.9,186.2 355.0,186.2 355.1,186.2 355.3,186.0 355.5,186.2 355.7,186.0 355.9,186.4 356.0,186.1 356.1,186.1 356.3,186.0 356.5,186.1 356.7,186.0 356.9,186.2 357.0,186.1 357.1,186.2 357.3,186.1 357.5,186.1 357.7,186.3 357.9,186.0 358.0,185.9 359.0,186.2 360.0,186.0 361.0,186.1 361.1,186.2 361.3,186.1 361.5,186.2 361.7,186.1 361.9,186.3 362.0,186.3 362.1,186.1 362.3,186.1 362.5,186.1 362.7,186.2 362.9,186.3 363.0,186.0 363.1,186.2 363.3,186.0 363.5,186.1 363.7,186.0 363.9,186.3 364.0,186.1 364.1,186.2 364.3,186.1 364.5,186.2 364.7,185.9 364.9,186.1 365.0,186.4 365.1,186.1 365.3,186.1 365.5,186.2 365.7,186.1 365.9,186.1 366.0,186.2 366.1,186.2 366.3,186.2 366.5,186.1 366.7,186.2 366.9,186.1 367.0,186.3 368.0,186.2 369.0,186.1 370.0,185.9 371.0,186.2 372.0,186.2 373.0,186.1 374.0,186.0 375.0,186.0 376.0,186.3 377.0,186.1 378.0,186.1 379.0,186.2 380.0,186.3 381.0,186.2 382.0,186.2 383.0,186.1 384.0,186.3 385.0,186.3 386.0,186.2 387.0,186.0 388.0,186.1 389.0,186.2 390.0,186.1 391.0,186.3 392.0,186.2 393.0,186.2" fill="none" stroke="#44f022" stroke-width="1.8" stroke-linejoin="round" />
<polyline points="29.0,215.5 30.0,215.6 31.0,215.3 32.0,215.6 33.0,215.4 34.0,215.6 35.0,215.5 36.0,215.6 37.0,215.5 38.0,215.6 39.0,215.5 40.0,215.4 41.0,215.5 42.0,215.5 43.0,215.7 44.0,215.2 45.0,215.4 46.0,215.5 47.0,215.3 48.0,215.4 49.0,215.6 50.0,215.5 50.0,215.2 50.2,215.5 50.4,215.4 50.6,215.4 50.8,215.3 51.0,215.3 51.0,215.2 51.2,215.2 51.4,215.3 51.6,215.2 51.8,215.4 52.0,215.2 52.0,215.0 52.2,215.2 52.4,215.2 52.6,215.2 52.8,215.1 53.0,215.0 53.0,215.3 53.2,215.0 53.4,215.1 53.6,215.0 53.8,214.9 54.0,215.1 54.0,214.7 54.2,214.8 54.4,214.9 54.6,214.8 54.8,214.8 55.0,214.7 55.0,214.7 55.2,214.8 55.4,214.5 55.6,214.4 55.8,214.3 56.0,214.2 56.0,214.3 56.2,214.2 56.4,214.0 56.6,213.7 56.8,213.6 57.0,213.2 57.0,213.3 57.2,213.0 57.4,212.6 57.6,212.3 57.8,211.6 58.0,210.9 58.0,211.1 58.2,210.0 58.4,208.5 58.6,206.1 58.8,202.8 59.0,198.5 59.0,198.0 59.2,191.5 59.4,182.9 59.6,173.1 59.8,163.2 60.0,156.0 60.0,155.6 60.2,153.7 60.4,158.1 60.6,166.7 60.8,177.0 61.0,185.5 61.0,186.2 61.2,194.1 61.4,200.1 61.6,204.2 61.8,207.0 62.0,209.0 62.0,209.0 62.2,210.3 62.4,211.3 62.6,211.9 62.8,212.6 63.0,212.9 63.0,213.0 63.2,213.2 63.4,213.4 63.6,213.7 63.8,214.0 64.0,214.0 64.0,214.3 64.2,214.2 64.4,214.3 64.6,214.5 64.8,214.6 65.0,214.6 65.0,214.6 65.2,214.7 65.4,214.8 65.6,214.9 65.8,214.8 66.0,215.0 66.0,215.0 66.2,215.0 66.4,214.7 66.6,214.9 66.8,215.0 67.0,215.1 67.0,215.1 67.2,215.2 67.4,215.2 67.6,215.2 67.8,215.2 68.0,215.4 68.0,215.2 68.2,215.3 68.4,215.4 68.6,215.3 68.8,215.1 69.0,215.3 69.0,215.3 69.2,215.3 69.4,215.4 69.6,215.4 69.8,215.3 70.0,215.5 70.0,215.4 71.0,215.4 72.0,215.5 73.0,215.5 74.0,215.5 75.0,215.5 76.0,215.5 77.0,215.5 78.0,215.4 79.0,215.7 80.0,215.6 81.0,215.6 82.0,215.6 83.0,215.6 84.0,215.6 85.0,215.6 86.0,215.5 87.0,215.7 88.0,215.6 89.0,215.7 90.0,215.5 91.0,215.5 92.0,215.8 93.0,215.6 94.0,215.6 95.0,215.7 96.0,215.6 97.0,215.7 98.0,215.5 99.0,215.6 100.0,215.6 101.0,215.7 102.0,215.8 103.0,215.6 104.0,215.9 105.0,215.6 106.0,215.5 107.0,215.5 108.0,215.9 109.0,215.7 110.0,215.7 111.0,215.6 112.0,215.6 113.0,215.9 114.0,215.7 115.0,215.9 116.0,215.7 117.0,215.5 118.0,215.8 119.0,215.7 120.0,215.7 121.0,215.9 122.0,215.7 123.0,215.9 124.0,215.8 125.0,215.7 126.0,215.8 127.0,215.7 128.0,215.9 129.0,215.9 130.0,215.8 131.0,215.8 132.0,215.8 133.0,215.8 134.0,215.9 135.0,215.8 136.0,215.9 137.0,215.7 138.0,215.8 139.0,215.8 140.0,215.7 141.0,215.8 142.0,215.8 143.0,215.9 144.0,215.7 145.0,215.9 146.0,216.0 147.0,215.9 148.0,215.7 149.0,215.8 150.0,215.9 151.0,215.8 152.0,215.9 153.0,215.9 154.0,215.9 155.0,215.8 156.0,215.8 157.0,215.8 158.0,215.8 159.0,215.9 160.0,215.9 161.0,215.8 162.0,215.9 163.0,215.9 164.0,215.7 165.0,215.8 166.0,215.8 167.0,215.8 168.0,215.8 169.0,215.8 169.8,215.8 170.0,215.9 170.0,215.9 170.2,215.7 170.4,215.9 170.6,215.7 170.8,216.0 171.0,215.8 171.0,215.8 171.2,215.9 171.4,215.8 171.6,215.9 171.8,216.0 172.0,215.9 172.0,215.9 172.2,216.0 172.4,215.8 172.6,216.0 172.8,215.9 173.0,216.0 173.0,215.8 173.2,215.9 173.4,215.9 173.6,215.8 173.8,216.1 174.0,215.9 174.0,215.8 174.2,215.9 174.4,216.0 174.6,216.0 174.8,215.9 175.0,216.0 175.0,216.0 175.2,215.7 175.4,215.8 175.6,215.8 175.8,215.9 176.0,216.0 176.0,215.9 176.2,215.8 176.4,215.8 176.6,216.0 176.8,215.8 177.0,215.9 177.0,215.9 177.2,215.7 177.4,215.9 177.6,215.9 178.0,215.9 179.0,215.8 180.0,215.8 181.0,215.8 182.0,215.9 183.0,215.9 184.0,215.9 185.0,216.0 186.0,216.0 187.0,215.8 188.0,215.8 189.0,216.0 190.0,215.8 191.0,216.0 192.0,216.0 193.0,215.7 194.0,215.7 195.0,215.7 195.2,215.6 195.4,215.5 195.6,215.5 195.8,215.5 196.0,215.3 196.0,215.3 196.2,215.1 196.4,214.8 196.6,214.8 196.8,214.1 197.0,213.9 197.0,214.0 197.2,213.4 197.4,213.2 197.6,213.0 197.8,212.7 198.0,212.9 198.0,212.8 198.2,213.2 198.4,213.5 198.6,213.9 198.8,214.4 199.0,214.6 199.0,214.8 199.2,215.0 199.4,215.0 199.6,215.3 199.8,215.5 200.0,215.3 200.0,215.6 200.2,215.6 200.4,215.6 200.6,215.5 200.8,215.6 201.0,215.7 201.0,215.6 202.0,215.7 203.0,215.5 204.0,215.8 205.0,215.5 206.0,215.4 207.0,215.5 208.0,215.5 209.0,215.6 210.0,215.4 211.0,215.4 212.0,215.2 213.0,215.5 214.0,215.2 215.0,215.1 216.0,214.6 217.0,214.2 218.0,212.9 219.0,211.6 220.0,211.5 221.0,212.1 222.0,212.4 222.8,212.0 222.9,211.9 223.0,211.9 223.2,211.7 223.3,211.5 223.6,211.4 223.8,211.2 223.9,210.8 224.0,210.8 224.2,210.6 224.3,210.3 224.6,209.9 224.8,209.6 224.9,209.2 225.0,209.1 225.2,208.6 225.3,208.3 225.6,207.6 225.8,206.7 225.9,206.0 226.0,205.9 226.2,205.1 226.3,204.2 226.6,203.0 226.8,201.7 226.9,200.2 227.0,199.7 227.2,198.4 227.3,196.2 227.6,194.2 227.8,191.2 227.9,187.6 228.0,186.5 228.2,183.3 228.3,178.0 228.6,171.2 228.8,162.5 228.9,151.0 229.0,147.7 229.2,135.9 229.3,115.1 229.6,86.0 229.8,44.1 229.9,5.0 230.0,5.0 230.2,5.0 230.3,5.0 230.6,5.0 230.8,5.0 230.9,5.0 231.0,5.0 231.2,5.0 231.3,5.0 231.6,5.0 231.8,43.8 231.9,86.1 232.0,94.5 232.2,115.3 232.3,136.0 232.6,151.1 232.8,162.5 232.9,171.1 233.0,172.9 233.2,177.8 233.3,183.2 233.6,187.7 233.8,191.3 233.9,194.1 234.0,194.6 234.2,196.4 234.3,198.5 234.6,200.4 234.8,201.8 234.9,203.1 235.0,203.3 235.2,204.3 235.3,205.3 235.6,206.1 235.8,206.9 235.9,207.7 236.0,207.7 236.2,208.4 236.3,208.9 236.6,209.2 236.8,209.8 236.9,210.1 237.0,210.1 237.2,210.4 237.3,210.7 237.6,211.1 237.8,211.4 237.9,211.7 238.0,211.8 238.2,211.6 238.3,212.1 238.6,212.1 239.0,212.7 240.0,213.3 241.0,213.9 242.0,214.4 243.0,214.4 244.0,214.8 245.0,215.0 246.0,215.0 247.0,215.3 248.0,215.4 249.0,215.4 250.0,215.5 251.0,215.9 252.0,215.6 253.0,215.5 254.0,215.6 255.0,215.7 256.0,215.8 257.0,215.8 258.0,215.8 259.0,216.0 260.0,215.9 261.0,215.8 262.0,215.9 263.0,215.9 264.0,216.1 265.0,216.1 266.0,216.0 267.0,216.0 268.0,216.1 269.0,216.3 270.0,216.0 271.0,216.1 272.0,216.2 273.0,216.0 274.0,216.1 275.0,216.1 276.0,216.1 277.0,216.2 277.0,216.2 277.2,216.3 277.4,216.1 277.6,216.2 277.8,216.4 278.0,216.0 278.0,216.2 278.2,216.2 278.4,216.2 278.6,216.2 278.8,216.2 279.0,216.2 279.0,216.3 279.2,216.1 279.4,216.2 279.6,216.2 279.8,216.1 280.0,216.2 280.0,216.0 280.2,216.2 280.4,216.3 280.6,216.3 280.8,216.3 281.0,216.1 281.0,216.3 281.2,216.1 281.4,216.2 281.6,216.4 281.8,216.1 282.0,216.3 282.0,216.2 282.2,216.2 282.4,216.1 282.6,216.2 282.8,216.1 283.0,216.3 283.0,216.3 283.2,216.0 283.4,216.1 283.6,216.2 283.8,216.1 284.0,216.1 284.0,216.2 284.2,216.2 284.4,216.0 284.6,216.1 284.8,216.2 285.0,216.1 285.0,216.1 285.2,216.4 285.4,216.3 285.6,216.0 285.8,216.1 286.0,216.2 286.0,216.1 286.2,216.2 286.4,216.2 286.6,216.3 286.8,215.9 287.0,216.0 288.0,216.1 289.0,216.3 290.0,216.2 291.0,216.1 292.0,216.3 293.0,216.3 294.0,216.2 295.0,216.2 296.0,216.3 297.0,216.4 298.0,216.3 299.0,216.3 300.0,216.3 301.0,216.2 302.0,216.2 303.0,216.3 304.0,216.2 305.0,216.3 306.0,216.4 307.0,216.3 308.0,216.4 309.0,216.1 310.0,216.3 311.0,216.2 312.0,216.2 313.0,216.2 314.0,216.4 315.0,216.4 316.0,216.2 317.0,216.1 317.8,216.2 318.0,216.1 318.0,216.3 318.2,216.0 318.4,215.9 318.6,216.0 318.8,216.0 319.0,216.0 319.0,216.0 319.2,216.1 319.4,215.7 319.6,215.6 319.8,215.4 320.0,215.4 320.0,215.5 320.2,215.2 320.4,215.1 320.6,214.8 320.8,214.7 321.0,214.4 321.0,214.2 321.2,214.1 321.4,213.8 321.6,213.7 321.8,213.9 322.0,214.0 322.0,214.1 322.2,214.0 322.4,214.1 322.6,214.3 322.8,214.7 323.0,214.8 323.0,214.7 323.2,215.1 323.4,215.3 323.6,215.2 323.8,215.6 324.0,215.7 324.0,215.6 324.2,215.8 324.4,216.1 324.6,216.1 324.8,216.2 325.0,216.0 325.0,216.0 325.2,216.2 325.4,216.0 325.6,216.1 326.0,216.0 327.0,216.5 328.0,216.4 329.0,216.4 330.0,216.4 331.0,216.3 332.0,216.3 333.0,216.4 334.0,216.3 335.0,216.5 336.0,216.3 337.0,216.3 338.0,216.5 339.0,216.4 340.0,216.5 341.0,216.4 342.0,216.2 343.0,216.5 344.0,216.3 345.0,216.5 346.0,216.3 346.9,216.3 347.0,216.5 347.1,216.5 347.2,216.4 347.4,216.3 347.6,216.5 347.9,216.3 348.0,216.4 348.1,216.4 348.2,216.4 348.4,216.5 348.6,216.4 348.9,216.5 349.0,216.5 349.1,216.3 349.2,216.3 349.4,216.4 349.6,216.4 349.9,216.5 350.0,216.3 350.1,216.5 350.2,216.5 350.4,216.4 350.6,216.3 350.9,216.5 351.0,216.4 351.1,216.5 351.2,216.4 351.4,216.5 351.6,216.4 351.9,216.6 352.0,216.2 352.1,216.4 352.1,216.5 352.2,216.3 352.3,216.5 352.4,216.3 352.5,216.5 352.6,216.4 352.7,216.4 352.9,216.5 353.0,216.4 353.1,216.4 353.3,216.7 353.5,216.5 353.7,216.4 353.9,216.6 354.0,216.5 354.1,216.6 354.3,216.6 354.5,216.4 354.7,216.6 354.9,216.6 355.0,216.5 355.1,216.5 355.3,216.2 355.5,216.4 355.7,216.6 355.9,216.3 356.0,216.4 356.1,216.5 356.3,216.5 356.5,216.6 356.7,216.3 356.9,216.5 357.0,216.6 357.1,216.3 357.3,216.5 357.5,216.7 357.7,216.6 357.9,216.5 358.0,216.2 359.0,216.5 360.0,216.5 361.0,216.4 361.1,216.5 361.3,216.8 361.5,216.4 361.7,216.4 361.9,216.5 362.0,216.4 362.1,216.4 362.3,216.4 362.5,216.5 362.7,216.4 362.9,216.2 363.0,216.3 363.1,216.3 363.3,216.0 363.5,215.8 363.7,215.3 363.9,214.6 364.0,214.6 364.1,214.7 364.3,214.9 364.5,215.2 364.7,215.8 364.9,216.0 365.0,216.0 365.1,216.3 365.3,216.4 365.5,216.4 365.7,216.4 365.9,216.5 366.0,216.4 366.1,216.5 366.3,216.5 366.5,216.5 366.7,216.6 366.9,216.3 367.0,216.4 368.0,216.6 369.0,216.7 370.0,216.5 371.0,216.5 372.0,216.4 373.0,216.6 374.0,216.6 375.0,216.4 376.0,216.6 377.0,216.6 378.0,216.6 379.0,216.4 380.0,216.6 381.0,216.4 382.0,216.7 383.0,216.6 384.0,216.4 385.0,216.7 386.0,216.7 387.0,216.5 388.0,216.8 389.0,216.5 390.0,216.6 391.0,216.7 392.0,216.4 393.0,216.7" fill="none" stroke="#f07424" stroke-width="1.8" stroke-linejoin="round" />
<polyline points="29.0,199.8 30.0,199.8 31.0,199.3 32.0,199.5 33.0,200.4 34.0,199.2 35.0,199.5 36.0,200.0 37.0,199.6 38.0,199.4 39.0,199.2 40.0,199.8 41.0,200.0 42.0,200.2 43.0,199.7 44.0,200.0 45.0,199.3 46.0,199.7 47.0,199.4 48.0,199.7 49.0,199.9 50.0,200.1 50.0,199.3 50.2,200.1 50.4,199.5 50.6,199.3 50.8,199.6 51.0,199.2 51.0,199.7 51.2,199.8 51.4,199.6 51.6,199.9 51.8,199.6 52.0,199.7 52.0,199.2 52.2,199.7 52.4,199.4 52.6,199.5 52.8,199.6 53.0,199.7 53.0,199.1 53.2,199.1 53.4,199.5 53.6,199.8 53.8,199.8 54.0,199.9 54.0,200.1 54.2,199.8 54.4,199.6 54.6,199.2 54.8,199.3 55.0,199.4 55.0,199.7 55.2,199.7 55.4,199.6 55.6,199.5 55.8,199.8 56.0,199.6 56.0,199.6 56.2,199.6 56.4,199.3 56.6,199.1 56.8,199.6 57.0,199.5 57.0,199.3 57.2,199.2 57.4,200.0 57.6,198.9 57.8,198.9 58.0,198.9 58.0,198.4 58.2,198.6 58.4,198.9 58.6,198.3 58.8,197.8 59.0,197.3 59.0,197.1 59.2,196.9 59.4,195.9 59.6,195.2 59.8,194.8 60.0,194.6 60.0,194.4 60.2,194.2 60.4,193.1 60.6,194.3 60.8,195.0 61.0,195.1 61.0,194.6 61.2,195.0 61.4,196.0 61.6,196.2 61.8,197.3 62.0,197.3 62.0,197.9 62.2,198.4 62.4,197.6 62.6,198.7 62.8,198.6 63.0,198.5 63.0,198.8 63.2,199.1 63.4,199.6 63.6,198.8 63.8,199.8 64.0,200.2 64.0,199.7 64.2,199.7 64.4,199.5 64.6,199.1 64.8,199.8 65.0,199.7 65.0,199.9 65.2,200.5 65.4,199.9 65.6,199.8 65.8,200.2 66.0,199.2 66.0,199.3 66.2,199.6 66.4,199.5 66.6,199.9 66.8,199.6 67.0,200.3 67.0,200.3 67.2,200.0 67.4,199.6 67.6,200.0 67.8,200.0 68.0,199.4 68.0,199.9 68.2,200.0 68.4,199.8 68.6,200.3 68.8,200.2 69.0,199.5 69.0,199.8 69.2,199.5 69.4,200.0 69.6,199.5 69.8,200.1 70.0,199.9 70.0,200.1 71.0,199.8 72.0,199.3 73.0,200.5 74.0,199.8 75.0,200.3 76.0,200.0 77.0,200.1 78.0,200.5 79.0,200.0 80.0,200.4 81.0,199.4 82.0,200.2 83.0,199.8 84.0,199.9 85.0,199.9 86.0,200.1 87.0,200.5 88.0,199.3 89.0,200.0 90.0,199.7 91.0,200.4 92.0,199.8 93.0,200.1 94.0,199.9 95.0,200.2 96.0,200.4 97.0,199.9 98.0,200.0 99.0,199.5 100.0,200.1 101.0,200.3 102.0,199.8 103.0,200.4 104.0,199.3 105.0,199.4 106.0,199.6 107.0,199.9 108.0,200.1 109.0,200.1 110.0,200.1 111.0,200.4 112.0,199.9 113.0,199.7 114.0,199.7 115.0,200.9 116.0,199.3 117.0,200.1 118.0,200.7 119.0,200.3 120.0,199.9 121.0,200.2 122.0,200.5 123.0,200.6 124.0,199.9 125.0,200.5 126.0,200.3 127.0,200.6 128.0,200.7 129.0,200.1 130.0,199.7 131.0,200.4 132.0,200.8 133.0,200.5 134.0,200.3 135.0,201.1 136.0,199.9 137.0,200.6 138.0,200.1 139.0,200.3 140.0,200.3 141.0,200.8 142.0,200.0 143.0,200.1 144.0,199.7 145.0,200.5 146.0,200.1 147.0,200.5 148.0,199.9 149.0,200.2 150.0,200.7 151.0,200.3 152.0,200.6 153.0,200.5 154.0,200.2 155.0,199.8 156.0,200.7 157.0,200.4 158.0,200.7 159.0,199.7 160.0,199.8 161.0,199.6 162.0,200.1 163.0,200.8 164.0,200.6 165.0,200.4 166.0,200.5 167.0,200.7 168.0,200.3 169.0,200.6 169.8,200.5 170.0,199.7 170.0,200.3 170.2,200.9 170.4,200.3 170.6,200.4 170.8,200.2 171.0,200.3 171.0,200.8 171.2,200.3 171.4,200.1 171.6,199.3 171.8,200.2 172.0,199.7 172.0,199.8 172.2,200.7 172.4,200.7 172.6,199.8 172.8,200.7 173.0,200.6 173.0,200.2 173.2,200.7 173.4,199.9 173.6,200.0 173.8,199.9 174.0,200.1 174.0,200.7 174.2,200.0 174.4,200.0 174.6,200.1 174.8,200.5 175.0,200.3 175.0,200.7 175.2,200.2 175.4,200.0 175.6,200.3 175.8,200.5 176.0,200.1 176.0,200.5 176.2,201.1 176.4,200.2 176.6,200.5 176.8,200.9 177.0,200.2 177.0,200.2 177.2,200.1 177.4,200.6 177.6,200.6 178.0,200.4 179.0,200.5 180.0,200.9 181.0,200.8 182.0,200.0 183.0,200.5 184.0,200.5 185.0,200.7 186.0,200.4 187.0,200.2 188.0,200.3 189.0,199.8 190.0,200.4 191.0,200.2 192.0,200.6 193.0,200.1 194.0,200.2 195.0,200.0 195.2,199.9 195.4,200.5 195.6,200.0 195.8,200.2 196.0,199.6 196.0,200.0 196.2,199.2 196.4,199.4 196.6,199.1 196.8,199.1 197.0,198.7 197.0,198.5 197.2,198.4 197.4,197.8 197.6,197.7 197.8,197.7 198.0,197.5 198.0,197.4 198.2,197.9 198.4,198.0 198.6,198.7 198.8,199.3 199.0,199.5 199.0,199.1 199.2,199.1 199.4,199.8 199.6,199.9 199.8,200.5 200.0,200.0 200.0,200.1 200.2,200.5 200.4,200.1 200.6,200.2 200.8,200.9 201.0,200.8 201.0,200.5 202.0,200.4 203.0,200.0 204.0,200.5 205.0,200.3 206.0,200.4 207.0,200.1 208.0,200.2 209.0,200.2 210.0,200.3 211.0,200.6 212.0,200.2 213.0,199.4 214.0,199.6 215.0,199.3 216.0,199.4 217.0,199.7 218.0,199.5 219.0,198.9 220.0,198.9 221.0,198.1 222.0,197.3 222.8,196.7 222.9,196.7 223.0,197.4 223.2,196.3 223.3,197.0 223.6,196.8 223.8,196.0 223.9,195.8 224.0,195.5 224.2,195.5 224.3,195.4 224.6,194.8 224.8,194.7 224.9,194.3 225.0,193.9 225.2,193.6 225.3,192.9 225.6,192.4 225.8,191.2 225.9,191.0 226.0,190.7 226.2,189.6 226.3,189.7 226.6,187.5 226.8,186.2 226.9,185.1 227.0,183.9 227.2,183.0 227.3,180.7 227.6,178.4 227.8,175.8 227.9,172.4 228.0,171.7 228.2,168.3 228.3,163.0 228.6,156.0 228.8,147.0 228.9,136.2 229.0,132.3 229.2,120.5 229.3,100.5 229.6,71.1 229.8,28.9 229.9,5.0 230.0,5.0 230.2,5.0 230.3,5.0 230.6,5.0 230.8,5.0 230.9,5.0 231.0,5.0 231.2,5.0 231.3,5.0 231.6,5.0 231.8,28.4 231.9,70.9 232.0,79.3 232.2,100.1 232.3,120.1 232.6,135.7 232.8,147.4 232.9,156.0 233.0,158.1 233.2,162.2 233.3,168.2 233.6,172.1 233.8,175.9 233.9,178.9 234.0,179.7 234.2,181.0 234.3,183.4 234.6,184.7 234.8,186.1 234.9,188.1 235.0,188.2 235.2,188.4 235.3,189.7 235.6,190.9 235.8,192.2 235.9,192.7 236.0,192.8 236.2,192.3 236.3,193.5 236.6,194.2 236.8,194.6 236.9,195.0 237.0,194.9 237.2,195.8 237.3,196.1 237.6,195.8 237.8,195.8 237.9,197.1 238.0,196.3 238.2,197.1 238.3,197.5 238.6,196.7 239.0,197.6 240.0,198.1 241.0,198.9 242.0,199.2 243.0,200.1 244.0,199.8 245.0,199.8 246.0,200.3 247.0,200.0 248.0,200.0 249.0,201.0 250.0,200.1 251.0,200.2 252.0,200.5 253.0,200.1 254.0,199.8 255.0,201.0 256.0,200.4 257.0,200.5 258.0,200.6 259.0,200.4 260.0,200.4 261.0,200.8 262.0,201.6 263.0,201.1 264.0,201.1 265.0,200.3 266.0,200.9 267.0,200.5 268.0,201.2 269.0,200.8 270.0,200.9 271.0,200.9 272.0,200.7 273.0,200.4 274.0,201.1 275.0,200.5 276.0,200.5 277.0,200.8 277.0,200.6 277.2,201.0 277.4,201.2 277.6,200.9 277.8,200.9 278.0,200.8 278.0,201.1 278.2,200.1 278.4,200.9 278.6,200.4 278.8,200.2 279.0,200.6 279.0,200.5 279.2,200.7 279.4,200.8 279.6,199.5 279.8,200.1 280.0,200.6 280.0,200.2 280.2,200.2 280.4,199.5 280.6,198.7 280.8,198.5 281.0,198.8 281.0,198.9 281.2,198.0 281.4,197.9 281.6,197.9 281.8,197.0 282.0,197.5 282.0,198.2 282.2,198.4 282.4,197.8 282.6,198.7 282.8,198.1 283.0,198.3 283.0,197.9 283.2,199.2 283.4,199.1 283.6,200.3 283.8,199.9 284.0,200.0 284.0,199.4 284.2,200.7 284.4,200.2 284.6,200.4 284.8,199.8 285.0,201.0 285.0,201.0 285.2,200.5 285.4,200.8 285.6,201.0 285.8,201.2 286.0,200.9 286.0,201.5 286.2,200.8 286.4,200.7 286.6,200.8 286.8,200.1 287.0,200.7 288.0,201.4 289.0,201.2 290.0,200.8 291.0,201.2 292.0,200.4 293.0,201.1 294.0,201.4 295.0,201.4 296.0,200.9 297.0,201.5 298.0,201.9 299.0,201.1 300.0,201.5 301.0,200.7 302.0,200.6 303.0,201.5 304.0,201.3 305.0,201.3 306.0,201.1 307.0,201.2 308.0,201.6 309.0,201.9 310.0,201.2 311.0,200.7 312.0,201.8 313.0,201.5 314.0,201.6 315.0,201.4 316.0,202.2 317.0,201.4 317.8,201.6 318.0,200.7 318.0,201.2 318.2,201.1 318.4,201.4 318.6,201.5 318.8,201.1 319.0,202.0 319.0,201.0 319.2,201.2 319.4,201.5 319.6,200.9 319.8,201.6 320.0,201.6 320.0,201.3 320.2,202.1 320.4,201.4 320.6,201.5 320.8,201.1 321.0,200.8 321.0,201.2 321.2,201.3 321.4,201.2 321.6,201.7 321.8,200.6 322.0,201.0 322.0,200.8 322.2,201.9 322.4,201.2 322.6,201.2 322.8,201.0 323.0,201.7 323.0,201.3 323.2,201.5 323.4,200.7 323.6,201.8 323.8,201.6 324.0,201.6 324.0,201.9 324.2,201.4 324.4,201.4 324.6,201.7 324.8,201.6 325.0,201.3 325.0,201.4 325.2,201.2 325.4,201.7 325.6,201.8 326.0,201.4 327.0,202.1 328.0,200.9 329.0,201.4 330.0,202.1 331.0,201.3 332.0,200.9 333.0,202.0 334.0,201.7 335.0,201.1 336.0,201.8 337.0,201.1 338.0,201.0 339.0,201.5 340.0,201.4 341.0,201.1 342.0,201.4 343.0,201.2 344.0,201.6 345.0,201.6 346.0,201.8 346.9,201.4 347.0,201.1 347.1,201.1 347.2,201.5 347.4,202.1 347.6,201.9 347.9,201.4 348.0,201.9 348.1,201.2 348.2,201.9 348.4,201.4 348.6,201.9 348.9,201.8 349.0,201.5 349.1,201.7 349.2,201.2 349.4,201.6 349.6,202.0 349.9,203.0 350.0,201.8 350.1,201.6 350.2,201.2 350.4,202.0 350.6,201.0 350.9,201.3 351.0,201.7 351.1,201.2 351.2,202.1 351.4,202.0 351.6,201.4 351.9,201.4 352.0,201.1 352.1,201.1 352.1,201.8 352.2,201.8 352.3,201.7 352.4,201.7 352.5,201.4 352.6,201.7 352.7,201.1 352.9,201.6 353.0,202.1 353.1,202.1 353.3,201.5 353.5,201.5 353.7,202.1 353.9,202.2 354.0,201.1 354.1,201.5 354.3,201.7 354.5,202.1 354.7,201.3 354.9,201.9 355.0,201.5 355.1,202.5 355.3,201.8 355.5,201.6 355.7,201.5 355.9,202.0 356.0,201.9 356.1,201.3 356.3,201.7 356.5,201.2 356.7,201.4 356.9,201.2 357.0,201.2 357.1,201.4 357.3,201.3 357.5,201.8 357.7,201.9 357.9,201.6 358.0,201.3 359.0,201.9 360.0,200.9 361.0,201.0 361.1,201.9 361.3,201.9 361.5,202.0 361.7,201.6 361.9,201.2 362.0,201.5 362.1,201.9 362.3,201.4 362.5,201.4 362.7,201.2 362.9,201.3 363.0,202.0 363.1,201.8 363.3,201.3 363.5,201.3 363.7,201.5 363.9,201.9 364.0,201.3 364.1,201.6 364.3,200.9 364.5,201.2 364.7,201.8 364.9,202.0 365.0,201.3 365.1,201.4 365.3,202.0 365.5,201.6 365.7,201.5 365.9,201.9 366.0,201.8 366.1,202.1 366.3,202.0 366.5,201.5 366.7,201.7 366.9,201.7 367.0,201.2 368.0,201.4 369.0,202.1 370.0,201.2 371.0,202.1 372.0,201.8 373.0,201.7 374.0,201.9 375.0,201.9 376.0,202.2 377.0,201.6 378.0,201.7 379.0,201.7 380.0,202.5 381.0,202.1 382.0,201.5 383.0,201.7 384.0,201.6 385.0,201.8 386.0,201.9 387.0,202.6 388.0,201.2 389.0,202.2 390.0,202.0 391.0,201.6 392.0,201.8 393.0,201.7" fill="none" stroke="#ff44ff" stroke-width="1.8" stroke-linejoin="round" />
<rect x="28" y="4" width="366" height="260" fill="none" stroke="#000" stroke-width="2"/>
<path d="M35.6,265V269 M51.9,265V269 M68.2,265V275 M84.4,265V269 M100.7,265V269 M116.9,265V269 M133.2,265V269 M149.5,265V275 M165.7,265V269 M182.0,265V269 M198.2,265V269 M214.5,265V269 M230.8,265V275 M247.0,265V269 M263.3,265V269 M279.5,265V269 M295.8,265V269 M312.1,265V275 M328.3,265V269 M344.6,265V269 M360.8,265V269 M377.1,265V269 M393.4,265V275" stroke="#000" stroke-width="2"/>
<text x="68.2" y="294.2" font-size="14" text-anchor="middle" font-weight="normal" fill="#000" >20</text>
<text x="149.5" y="294.2" font-size="14" text-anchor="middle" font-weight="normal" fill="#000" >30</text>
<text x="230.8" y="294.2" font-size="14" text-anchor="middle" font-weight="normal" fill="#000" >40</text>
<text x="312.1" y="294.2" font-size="14" text-anchor="middle" font-weight="normal" fill="#000" >50</text>
<text x="393.4" y="294.2" font-size="14" text-anchor="middle" font-weight="normal" fill="#000" >60</text>
<text x="36.5" y="14.6" font-size="15.5" text-anchor="start" font-weight="bold" fill="#000" >a</text>
<text transform="translate(55.0,63.6) rotate(-90)" font-size="15.2" textLength="23.5">003</text>
<text transform="translate(212.0,64.5) rotate(-90)" font-size="15.2" textLength="23.5">006</text>
<text transform="translate(15.8,204.5) rotate(-90)" font-size="19" textLength="123.5">Intensity / a. u.</text>
<text x="129.5" y="313" font-size="18" textLength="170">2<tspan font-style="italic">θ</tspan> / degree (CuKα)</text>
<text x="93.5" y="232.8" font-size="9" text-anchor="start" font-weight="normal" fill="#000" textLength="28.6">Pt/Ti/Si</text>
<text x="93.3" y="243.5" font-size="9" text-anchor="start" font-weight="normal" fill="#000" textLength="36">substrate</text>
</g>
<g>
<polyline points="453.0,93.0 453.5,93.0 454.0,93.3 454.5,93.2 455.0,93.1 455.5,93.3 456.0,93.1 456.5,92.9 457.0,93.3 457.5,93.1 458.0,93.0 458.5,93.0 459.0,93.2 459.5,93.0 460.0,93.3 460.5,93.1 461.0,93.3 461.5,93.1 462.0,93.1 462.5,92.9 463.0,93.0 463.5,93.2 464.0,93.6 464.5,92.9 465.0,93.0 465.5,93.2 466.0,93.2 466.5,93.0 467.0,93.1 467.5,92.9 468.0,93.1 468.5,93.2 469.0,93.3 469.5,93.1 470.0,93.0 470.5,93.1 471.0,93.2 471.5,93.1 472.0,93.0 472.5,93.1 473.0,93.2 473.5,92.9 474.0,92.9 474.5,93.1 475.0,93.1 475.5,93.2 476.0,93.0 476.5,92.9 477.0,93.0 477.5,92.9 478.0,92.9 478.5,92.9 479.0,92.9 479.5,93.2 480.0,92.8 480.5,93.0 481.0,92.9 481.5,93.2 482.0,93.0 482.5,92.9 483.0,93.1 483.5,93.0 484.0,92.9 484.5,93.2 485.0,93.0 485.5,93.2 486.0,93.1 486.5,93.0 487.0,92.9 487.5,92.7 488.0,93.0 488.5,92.9 489.0,93.0 489.5,92.9 490.0,92.8 490.5,92.7 491.0,93.0 491.5,93.0 492.0,92.8 492.5,92.9 493.0,93.0 493.5,92.7 494.0,92.8 494.5,92.6 495.0,93.0 495.5,92.8 496.0,92.7 496.5,92.5 497.0,92.7 497.5,92.9 498.0,92.7 498.5,92.7 499.0,92.8 499.5,92.5 500.0,92.7 500.5,92.7 501.0,92.5 501.5,92.5 502.0,92.6 502.5,92.6 503.0,92.5 503.5,92.6 504.0,92.6 504.5,92.4 505.0,92.4 505.5,92.5 506.0,92.6 506.5,92.6 507.0,92.2 507.5,92.5 508.0,92.4 508.5,92.2 509.0,92.3 509.5,92.3 510.0,92.4 510.5,91.9 511.0,92.1 511.5,91.9 512.0,91.8 512.5,91.9 513.0,91.8 513.5,91.4 514.0,91.4 514.5,91.4 515.0,91.0 515.5,91.2 516.0,91.0 516.5,90.8 517.0,90.7 517.5,90.6 518.0,90.1 518.5,89.7 519.0,89.7 519.5,88.9 520.0,88.3 520.5,87.5 521.0,87.1 521.5,86.0 522.0,84.9 522.5,83.6 523.0,82.0 523.5,80.3 524.0,78.5 524.5,76.8 525.0,74.9 525.5,73.2 526.0,70.9 526.5,69.3 527.0,67.8 527.5,67.0 528.0,65.9 528.5,65.9 529.0,66.2 529.5,66.6 530.0,67.6 530.5,68.4 531.0,70.1 531.5,71.4 532.0,73.2 532.5,74.7 533.0,76.0 533.5,77.6 534.0,78.7 534.5,79.6 535.0,80.5 535.5,81.2 536.0,82.0 536.5,82.8 537.0,82.9 537.5,83.4 538.0,83.5 538.5,84.0 539.0,84.2 539.5,84.3 540.0,84.3 540.5,84.6 541.0,85.1 541.5,85.1 542.0,85.4 542.5,85.4 543.0,85.4 543.5,85.9 544.0,86.1 544.5,86.2 545.0,86.4 545.5,86.7 546.0,86.7 546.5,87.0 547.0,87.1 547.5,87.0 548.0,87.4 548.5,87.5 549.0,87.6 549.5,87.9 550.0,87.9 550.5,88.2 551.0,88.3 551.5,88.3 552.0,88.1 552.5,88.3 553.0,88.6 553.5,88.5 554.0,88.4 554.5,88.6 555.0,88.7 555.5,88.6 556.0,88.7 556.5,88.5 557.0,88.5 557.5,88.5 558.0,88.5 558.5,88.2 559.0,88.4 559.5,88.2 560.0,88.6 560.5,88.5 561.0,88.5 561.5,88.3 562.0,88.1 562.5,88.3 563.0,88.0 563.5,88.1 564.0,87.9 564.5,87.9 565.0,88.0 565.5,88.2 566.0,87.9 566.5,88.2 567.0,88.3 567.5,87.7 568.0,87.9 568.5,87.7 569.0,87.9 569.5,87.9 570.0,88.0 570.5,88.2 571.0,88.2 571.5,88.2 572.0,88.2 572.5,88.3 573.0,88.4 573.5,88.5 574.0,88.6 574.5,88.7 575.0,88.6 575.5,89.0 576.0,89.2 576.5,89.1 577.0,89.0 577.5,89.5 578.0,89.3 578.5,89.1 579.0,89.6 579.5,89.8 580.0,89.9 580.5,90.1 581.0,90.1 581.5,90.2 582.0,90.0 582.5,90.2 583.0,90.5 583.5,90.7 584.0,90.5 584.5,90.7 585.0,90.9 585.5,90.6 586.0,90.7 586.5,91.1 587.0,91.2 587.5,91.2 588.0,91.0 588.5,91.4 589.0,91.2 589.5,91.6 590.0,91.5 590.5,91.7 591.0,91.8 591.5,91.6 592.0,91.9 592.5,92.0 593.0,91.9 593.5,92.1 594.0,91.8 594.5,92.1 595.0,92.0 595.5,91.9 596.0,92.0 596.5,92.0 597.0,92.0 597.5,92.1 598.0,92.3 598.5,92.1 599.0,92.2 599.5,92.0 600.0,92.2 600.5,92.4 601.0,92.4" fill="none" stroke="#6a6a6a" stroke-width="1.5" stroke-linejoin="round" />
<polyline points="453.0,131.1 453.5,130.9 454.0,130.8 454.5,131.0 455.0,130.8 455.5,130.8 456.0,131.1 456.5,130.8 457.0,131.2 457.5,130.7 458.0,131.0 458.5,130.7 459.0,130.9 459.5,130.7 460.0,130.9 460.5,130.9 461.0,130.8 461.5,130.9 462.0,131.1 462.5,130.7 463.0,131.0 463.5,130.8 464.0,130.8 464.5,131.1 465.0,130.5 465.5,130.7 466.0,130.5 466.5,130.7 467.0,130.7 467.5,131.3 468.0,130.7 468.5,130.9 469.0,130.8 469.5,130.6 470.0,130.7 470.5,130.8 471.0,130.6 471.5,130.6 472.0,130.6 472.5,130.3 473.0,130.4 473.5,130.5 474.0,130.5 474.5,130.3 475.0,130.3 475.5,130.3 476.0,130.3 476.5,130.4 477.0,130.2 477.5,130.2 478.0,129.9 478.5,129.9 479.0,130.1 479.5,129.7 480.0,130.0 480.5,129.8 481.0,129.7 481.5,129.8 482.0,129.5 482.5,129.4 483.0,129.4 483.5,129.4 484.0,129.7 484.5,128.8 485.0,129.0 485.5,128.8 486.0,128.8 486.5,128.4 487.0,127.9 487.5,128.2 488.0,127.6 488.5,127.4 489.0,126.9 489.5,126.4 490.0,126.0 490.5,125.5 491.0,124.6 491.5,123.3 492.0,122.2 492.5,120.4 493.0,118.4 493.5,116.0 494.0,113.1 494.5,109.5 495.0,105.7 495.5,101.5 496.0,96.9 496.5,92.0 497.0,87.9 497.5,83.5 498.0,80.7 498.5,79.1 499.0,79.4 499.5,80.8 500.0,84.6 500.5,88.4 501.0,92.9 501.5,97.8 502.0,102.7 502.5,106.6 503.0,110.1 503.5,113.5 504.0,116.6 504.5,118.6 505.0,120.7 505.5,122.2 506.0,123.9 506.5,124.5 507.0,125.6 507.5,126.0 508.0,126.5 508.5,127.2 509.0,127.5 509.5,127.4 510.0,128.0 510.5,128.3 511.0,128.3 511.5,128.6 512.0,128.7 512.5,128.8 513.0,128.9 513.5,129.0 514.0,129.1 514.5,129.1 515.0,129.4 515.5,129.2 516.0,129.5 516.5,129.6 517.0,129.5 517.5,129.8 518.0,130.0 518.5,130.0 519.0,129.6 519.5,130.1 520.0,130.0 520.5,129.9 521.0,129.9 521.5,130.0 522.0,130.3 522.5,130.2 523.0,130.0 523.5,130.0 524.0,130.1 524.5,130.3 525.0,130.5 525.5,130.0 526.0,130.2 526.5,130.2 527.0,130.1 527.5,130.3 528.0,130.4 528.5,130.1 529.0,130.1 529.5,130.5 530.0,130.4 530.5,130.4 531.0,130.3 531.5,130.3 532.0,130.4 532.5,130.3 533.0,130.2 533.5,130.4 534.0,130.5 534.5,130.2 535.0,130.5 535.5,130.5 536.0,130.3 536.5,130.4 537.0,130.4 537.5,130.5 538.0,130.5 538.5,130.2 539.0,130.2 539.5,130.6 540.0,130.4 540.5,130.5 541.0,130.5 541.5,130.7 542.0,130.3 542.5,130.6 543.0,130.3 543.5,130.6 544.0,130.6 544.5,130.2 545.0,130.5 545.5,130.4 546.0,130.4 546.5,130.5 547.0,130.3 547.5,130.3 548.0,130.5 548.5,130.6 549.0,130.4 549.5,130.2 550.0,130.8 550.5,130.6 551.0,130.5 551.5,130.3 552.0,130.4 552.5,130.5 553.0,130.3 553.5,130.7 554.0,130.5 554.5,130.5 555.0,130.3 555.5,130.3 556.0,130.3 556.5,130.5 557.0,130.4 557.5,130.4 558.0,130.5 558.5,130.5 559.0,130.7 559.5,130.4 560.0,130.3 560.5,130.4 561.0,130.7 561.5,130.4 562.0,130.4 562.5,130.4 563.0,130.5 563.5,130.5 564.0,130.3 564.5,130.4 565.0,130.6 565.5,130.6 566.0,130.6 566.5,130.5 567.0,130.4 567.5,130.4 568.0,130.5 568.5,130.2 569.0,130.4 569.5,130.1 570.0,130.3 570.5,130.3 571.0,130.2 571.5,130.5 572.0,130.3 572.5,130.3 573.0,130.4 573.5,130.3 574.0,130.6 574.5,130.3 575.0,130.4 575.5,130.2 576.0,130.3 576.5,130.3 577.0,130.3 577.5,130.3 578.0,130.4 578.5,130.6 579.0,130.3 579.5,130.3 580.0,130.3 580.5,130.7 581.0,130.6 581.5,130.4 582.0,130.5 582.5,130.2 583.0,130.3 583.5,130.4 584.0,130.4 584.5,130.2 585.0,130.2 585.5,130.4 586.0,130.4 586.5,130.0 587.0,130.3 587.5,130.5 588.0,130.2 588.5,130.4 589.0,130.1 589.5,130.4 590.0,130.1 590.5,130.1 591.0,130.3 591.5,130.7 592.0,130.2 592.5,130.1 593.0,130.4 593.5,130.3 594.0,130.5 594.5,130.1 595.0,130.1 595.5,130.2 596.0,130.3 596.5,130.3 597.0,130.4 597.5,130.1 598.0,130.2 598.5,130.3 599.0,130.4 599.5,130.3 600.0,130.2 600.5,130.1 601.0,130.4" fill="none" stroke="#7af7f7" stroke-width="1.9" stroke-linejoin="round" />
<polyline points="453.0,163.7 453.5,164.0 454.0,163.6 454.5,163.8 455.0,163.4 455.5,163.5 456.0,163.5 456.5,163.5 457.0,163.5 457.5,163.5 458.0,163.6 458.5,163.5 459.0,163.7 459.5,163.6 460.0,163.6 460.5,163.8 461.0,163.6 461.5,163.6 462.0,163.6 462.5,163.6 463.0,163.7 463.5,163.5 464.0,163.7 464.5,163.8 465.0,163.7 465.5,163.5 466.0,163.3 466.5,163.5 467.0,163.6 467.5,163.7 468.0,163.5 468.5,163.5 469.0,163.8 469.5,163.4 470.0,163.7 470.5,163.7 471.0,163.3 471.5,163.6 472.0,163.4 472.5,163.4 473.0,163.2 473.5,163.3 474.0,163.6 474.5,163.4 475.0,163.5 475.5,163.3 476.0,163.4 476.5,163.4 477.0,163.2 477.5,163.2 478.0,163.5 478.5,163.5 479.0,163.3 479.5,163.4 480.0,163.5 480.5,163.7 481.0,163.3 481.5,163.5 482.0,163.7 482.5,163.4 483.0,163.6 483.5,163.0 484.0,163.5 484.5,163.3 485.0,163.0 485.5,163.4 486.0,163.4 486.5,163.4 487.0,163.4 487.5,163.2 488.0,163.1 488.5,163.1 489.0,163.1 489.5,163.2 490.0,163.0 490.5,163.1 491.0,163.1 491.5,163.0 492.0,163.3 492.5,163.2 493.0,162.7 493.5,162.7 494.0,162.6 494.5,162.5 495.0,162.7 495.5,162.4 496.0,162.4 496.5,162.4 497.0,162.5 497.5,162.2 498.0,162.1 498.5,162.2 499.0,162.0 499.5,161.8 500.0,161.7 500.5,161.2 501.0,161.1 501.5,160.6 502.0,160.5 502.5,160.0 503.0,159.1 503.5,158.7 504.0,157.4 504.5,156.7 505.0,155.2 505.5,153.5 506.0,151.7 506.5,149.8 507.0,147.5 507.5,144.9 508.0,142.4 508.5,139.2 509.0,136.6 509.5,133.8 510.0,131.1 510.5,129.3 511.0,127.7 511.5,126.9 512.0,127.5 512.5,128.6 513.0,130.6 513.5,132.7 514.0,135.7 514.5,138.5 515.0,141.3 515.5,144.1 516.0,146.6 516.5,148.9 517.0,151.2 517.5,153.1 518.0,154.7 518.5,156.0 519.0,157.0 519.5,158.3 520.0,159.0 520.5,159.5 521.0,160.2 521.5,160.7 522.0,161.0 522.5,161.4 523.0,161.6 523.5,161.5 524.0,161.8 524.5,162.1 525.0,162.3 525.5,162.5 526.0,162.1 526.5,162.4 527.0,162.6 527.5,162.8 528.0,162.9 528.5,162.6 529.0,162.7 529.5,162.7 530.0,163.0 530.5,162.7 531.0,163.2 531.5,163.2 532.0,163.1 532.5,162.8 533.0,163.0 533.5,163.3 534.0,163.0 534.5,163.2 535.0,163.2 535.5,163.4 536.0,163.3 536.5,163.3 537.0,163.3 537.5,163.3 538.0,163.3 538.5,163.5 539.0,163.4 539.5,163.6 540.0,163.2 540.5,163.6 541.0,163.4 541.5,163.6 542.0,163.5 542.5,163.6 543.0,163.7 543.5,163.4 544.0,163.5 544.5,163.5 545.0,163.6 545.5,163.3 546.0,163.5 546.5,163.5 547.0,163.5 547.5,163.5 548.0,163.4 548.5,163.8 549.0,163.7 549.5,163.9 550.0,163.5 550.5,163.4 551.0,163.7 551.5,163.4 552.0,163.7 552.5,163.5 553.0,163.6 553.5,163.7 554.0,163.7 554.5,163.9 555.0,163.8 555.5,163.5 556.0,163.8 556.5,163.5 557.0,163.7 557.5,163.5 558.0,163.6 558.5,163.9 559.0,163.6 559.5,163.6 560.0,163.6 560.5,163.7 561.0,163.9 561.5,163.5 562.0,163.5 562.5,163.8 563.0,163.5 563.5,163.7 564.0,163.9 564.5,163.7 565.0,163.7 565.5,163.6 566.0,163.6 566.5,163.7 567.0,163.8 567.5,163.9 568.0,163.9 568.5,163.7 569.0,163.6 569.5,163.9 570.0,163.5 570.5,163.7 571.0,163.7 571.5,163.6 572.0,163.6 572.5,163.8 573.0,163.5 573.5,163.6 574.0,163.7 574.5,163.8 575.0,163.6 575.5,163.9 576.0,163.7 576.5,163.7 577.0,163.7 577.5,163.7 578.0,163.6 578.5,164.0 579.0,163.8 579.5,163.8 580.0,163.9 580.5,163.7 581.0,163.9 581.5,163.8 582.0,163.7 582.5,163.9 583.0,163.6 583.5,163.9 584.0,163.7 584.5,163.9 585.0,164.0 585.5,163.9 586.0,163.7 586.5,163.8 587.0,163.8 587.5,163.6 588.0,163.7 588.5,163.8 589.0,163.9 589.5,163.6 590.0,163.8 590.5,163.9 591.0,163.8 591.5,163.7 592.0,164.0 592.5,163.6 593.0,163.9 593.5,164.1 594.0,163.5 594.5,163.9 595.0,163.9 595.5,163.9 596.0,163.7 596.5,163.8 597.0,163.6 597.5,163.9 598.0,163.9 598.5,163.7 599.0,163.7 599.5,163.8 600.0,163.8 600.5,163.9 601.0,163.8" fill="none" stroke="#a84a28" stroke-width="1.6" stroke-linejoin="round" />
<polyline points="453.0,195.8 453.5,195.6 454.0,195.4 454.5,195.8 455.0,196.0 455.5,195.5 456.0,195.7 456.5,195.8 457.0,195.9 457.5,195.8 458.0,195.9 458.5,195.7 459.0,195.8 459.5,195.8 460.0,195.7 460.5,195.9 461.0,195.8 461.5,195.9 462.0,195.7 462.5,195.9 463.0,195.6 463.5,195.8 464.0,195.3 464.5,195.6 465.0,195.8 465.5,195.6 466.0,195.7 466.5,195.5 467.0,195.9 467.5,195.8 468.0,195.7 468.5,195.7 469.0,195.7 469.5,195.9 470.0,195.7 470.5,195.5 471.0,195.6 471.5,195.8 472.0,195.7 472.5,195.6 473.0,195.7 473.5,195.6 474.0,195.7 474.5,195.4 475.0,195.5 475.5,195.7 476.0,195.6 476.5,195.6 477.0,195.9 477.5,195.5 478.0,195.6 478.5,195.5 479.0,195.4 479.5,195.5 480.0,195.3 480.5,195.2 481.0,195.7 481.5,195.5 482.0,195.6 482.5,195.5 483.0,195.4 483.5,195.5 484.0,195.5 484.5,195.2 485.0,195.5 485.5,195.2 486.0,195.3 486.5,195.7 487.0,195.3 487.5,195.5 488.0,195.1 488.5,195.2 489.0,195.1 489.5,195.1 490.0,194.9 490.5,194.9 491.0,195.0 491.5,194.7 492.0,194.7 492.5,194.9 493.0,194.6 493.5,194.5 494.0,194.4 494.5,194.5 495.0,194.4 495.5,194.4 496.0,194.2 496.5,194.4 497.0,193.9 497.5,193.6 498.0,193.7 498.5,193.6 499.0,193.4 499.5,192.9 500.0,193.1 500.5,192.7 501.0,192.4 501.5,191.8 502.0,191.7 502.5,191.2 503.0,190.8 503.5,189.9 504.0,188.9 504.5,187.9 505.0,186.2 505.5,184.4 506.0,181.4 506.5,178.0 507.0,173.2 507.5,167.3 508.0,160.0 508.5,151.2 509.0,141.4 509.5,130.5 510.0,119.6 510.5,109.1 511.0,100.5 511.5,95.9 512.0,95.6 512.5,99.6 513.0,107.4 513.5,117.5 514.0,128.4 514.5,139.2 515.0,149.6 515.5,158.6 516.0,166.1 516.5,172.3 517.0,177.2 517.5,181.0 518.0,183.9 518.5,186.0 519.0,187.7 519.5,188.7 520.0,189.7 520.5,190.6 521.0,191.1 521.5,191.3 522.0,192.1 522.5,192.1 523.0,193.0 523.5,193.1 524.0,193.3 524.5,193.3 525.0,193.4 525.5,193.7 526.0,193.9 526.5,194.0 527.0,194.2 527.5,194.4 528.0,194.5 528.5,194.4 529.0,194.3 529.5,194.7 530.0,194.7 530.5,194.9 531.0,195.1 531.5,195.2 532.0,195.1 532.5,195.2 533.0,195.3 533.5,195.2 534.0,195.2 534.5,195.4 535.0,195.3 535.5,195.2 536.0,195.2 536.5,195.4 537.0,195.3 537.5,195.6 538.0,195.4 538.5,195.7 539.0,195.7 539.5,195.4 540.0,195.7 540.5,195.5 541.0,195.8 541.5,195.7 542.0,195.6 542.5,195.7 543.0,195.6 543.5,195.7 544.0,195.8 544.5,195.7 545.0,195.8 545.5,195.6 546.0,195.8 546.5,195.6 547.0,195.9 547.5,195.9 548.0,195.9 548.5,195.7 549.0,196.3 549.5,195.8 550.0,195.9 550.5,195.7 551.0,196.1 551.5,195.8 552.0,196.0 552.5,195.8 553.0,195.9 553.5,195.8 554.0,196.0 554.5,195.9 555.0,195.8 555.5,196.0 556.0,195.8 556.5,195.8 557.0,196.1 557.5,195.7 558.0,196.1 558.5,195.9 559.0,195.8 559.5,196.0 560.0,196.1 560.5,195.9 561.0,196.0 561.5,196.1 562.0,196.1 562.5,196.0 563.0,195.9 563.5,195.9 564.0,195.9 564.5,196.1 565.0,196.1 565.5,196.1 566.0,196.2 566.5,196.0 567.0,196.0 567.5,196.0 568.0,196.3 568.5,195.8 569.0,196.1 569.5,196.1 570.0,196.1 570.5,196.4 571.0,196.3 571.5,196.2 572.0,196.0 572.5,196.2 573.0,196.0 573.5,196.1 574.0,196.1 574.5,196.0 575.0,196.2 575.5,196.3 576.0,196.3 576.5,196.2 577.0,195.9 577.5,196.3 578.0,196.3 578.5,196.1 579.0,196.1 579.5,196.2 580.0,196.0 580.5,196.3 581.0,196.0 581.5,196.0 582.0,196.2 582.5,196.0 583.0,196.2 583.5,196.2 584.0,196.0 584.5,196.3 585.0,196.1 585.5,196.3 586.0,196.2 586.5,196.1 587.0,196.1 587.5,195.9 588.0,196.1 588.5,196.1 589.0,196.4 589.5,196.3 590.0,196.0 590.5,196.3 591.0,196.2 591.5,196.1 592.0,196.3 592.5,196.3 593.0,196.1 593.5,196.2 594.0,196.2 594.5,196.1 595.0,196.2 595.5,196.2 596.0,196.1 596.5,196.1 597.0,196.3 597.5,196.4 598.0,196.3 598.5,196.1 599.0,196.3 599.5,196.3 600.0,196.3 600.5,196.4 601.0,196.1" fill="none" stroke="#1a1aee" stroke-width="1.8" stroke-linejoin="round" />
<polyline points="453.0,229.0 453.5,228.9 454.0,228.9 454.5,229.3 455.0,229.2 455.5,228.8 456.0,229.1 456.5,228.9 457.0,229.2 457.5,229.0 458.0,229.0 458.5,229.0 459.0,229.1 459.5,229.0 460.0,229.0 460.5,229.0 461.0,229.1 461.5,228.8 462.0,229.0 462.5,229.0 463.0,228.9 463.5,229.1 464.0,228.8 464.5,228.9 465.0,228.9 465.5,229.1 466.0,228.9 466.5,229.0 467.0,229.0 467.5,228.8 468.0,229.0 468.5,228.9 469.0,228.9 469.5,229.0 470.0,229.1 470.5,229.1 471.0,229.2 471.5,229.0 472.0,228.9 472.5,228.9 473.0,229.0 473.5,229.2 474.0,229.0 474.5,228.8 475.0,229.0 475.5,229.0 476.0,228.9 476.5,228.8 477.0,228.5 477.5,228.8 478.0,229.0 478.5,228.9 479.0,228.6 479.5,228.9 480.0,228.6 480.5,229.1 481.0,228.9 481.5,228.7 482.0,228.9 482.5,228.7 483.0,228.9 483.5,228.8 484.0,228.6 484.5,228.9 485.0,228.6 485.5,228.9 486.0,228.7 486.5,228.6 487.0,228.4 487.5,228.9 488.0,228.9 488.5,228.5 489.0,228.9 489.5,228.6 490.0,228.5 490.5,228.5 491.0,228.5 491.5,228.7 492.0,228.5 492.5,228.2 493.0,228.7 493.5,228.5 494.0,228.2 494.5,228.2 495.0,228.1 495.5,228.2 496.0,228.1 496.5,228.1 497.0,227.9 497.5,227.8 498.0,227.9 498.5,227.7 499.0,227.9 499.5,227.3 500.0,227.4 500.5,227.1 501.0,226.8 501.5,226.9 502.0,226.5 502.5,226.0 503.0,225.7 503.5,225.4 504.0,224.4 504.5,223.9 505.0,222.7 505.5,221.0 506.0,219.4 506.5,217.0 507.0,213.8 507.5,210.2 508.0,206.2 508.5,201.5 509.0,196.1 509.5,191.0 510.0,186.2 510.5,182.2 511.0,179.6 511.5,179.3 512.0,180.6 512.5,183.8 513.0,188.3 513.5,193.0 514.0,198.3 514.5,203.2 515.0,207.6 515.5,211.7 516.0,215.1 516.5,217.8 517.0,220.2 517.5,221.6 518.0,223.1 518.5,223.9 519.0,224.9 519.5,225.4 520.0,226.1 520.5,226.4 521.0,226.7 521.5,227.1 522.0,227.2 522.5,227.3 523.0,227.3 523.5,227.3 524.0,227.6 524.5,227.7 525.0,227.7 525.5,227.9 526.0,227.8 526.5,228.3 527.0,228.0 527.5,228.1 528.0,228.3 528.5,228.1 529.0,228.5 529.5,228.5 530.0,228.4 530.5,228.3 531.0,228.4 531.5,228.3 532.0,228.8 532.5,228.6 533.0,228.5 533.5,228.5 534.0,228.7 534.5,228.9 535.0,228.5 535.5,228.6 536.0,228.5 536.5,228.9 537.0,228.8 537.5,229.1 538.0,228.8 538.5,228.8 539.0,228.7 539.5,229.0 540.0,228.6 540.5,229.0 541.0,228.9 541.5,228.8 542.0,228.8 542.5,229.0 543.0,229.2 543.5,228.9 544.0,229.0 544.5,229.2 545.0,228.8 545.5,228.9 546.0,228.8 546.5,228.9 547.0,229.0 547.5,228.9 548.0,228.9 548.5,228.8 549.0,228.8 549.5,228.9 550.0,229.1 550.5,228.9 551.0,228.9 551.5,229.1 552.0,229.1 552.5,228.9 553.0,228.9 553.5,229.1 554.0,229.1 554.5,228.9 555.0,229.1 555.5,229.0 556.0,229.2 556.5,228.9 557.0,229.2 557.5,229.1 558.0,228.9 558.5,229.2 559.0,229.2 559.5,228.9 560.0,229.3 560.5,228.9 561.0,228.9 561.5,229.0 562.0,229.2 562.5,229.2 563.0,229.1 563.5,229.3 564.0,229.1 564.5,229.3 565.0,229.5 565.5,229.1 566.0,228.7 566.5,229.0 567.0,228.9 567.5,229.1 568.0,229.1 568.5,228.9 569.0,228.9 569.5,229.1 570.0,229.1 570.5,228.7 571.0,229.2 571.5,229.1 572.0,229.1 572.5,229.2 573.0,229.0 573.5,229.1 574.0,229.3 574.5,229.3 575.0,229.2 575.5,229.1 576.0,229.0 576.5,229.3 577.0,229.2 577.5,229.1 578.0,228.8 578.5,229.0 579.0,228.8 579.5,229.3 580.0,229.2 580.5,229.0 581.0,229.1 581.5,229.5 582.0,229.3 582.5,228.9 583.0,229.1 583.5,229.0 584.0,228.9 584.5,229.2 585.0,229.5 585.5,229.4 586.0,229.2 586.5,229.1 587.0,229.2 587.5,229.3 588.0,228.9 588.5,228.9 589.0,229.4 589.5,229.2 590.0,229.4 590.5,229.2 591.0,229.4 591.5,229.1 592.0,229.2 592.5,229.4 593.0,229.3 593.5,229.1 594.0,229.3 594.5,229.1 595.0,228.9 595.5,229.2 596.0,229.4 596.5,229.3 597.0,229.0 597.5,229.3 598.0,229.3 598.5,229.1 599.0,228.8 599.5,229.3 600.0,229.3 600.5,229.2 601.0,228.9" fill="none" stroke="#44ee22" stroke-width="1.8" stroke-linejoin="round" />
<polyline points="453.0,256.4 453.5,257.3 454.0,257.2 454.5,257.1 455.0,256.9 455.5,257.1 456.0,256.8 456.5,256.8 457.0,256.6 457.5,257.0 458.0,256.8 458.5,257.3 459.0,257.2 459.5,256.7 460.0,257.6 460.5,256.6 461.0,257.1 461.5,257.3 462.0,257.4 462.5,256.2 463.0,257.3 463.5,257.4 464.0,257.4 464.5,256.2 465.0,256.7 465.5,256.9 466.0,256.8 466.5,257.4 467.0,256.7 467.5,257.4 468.0,257.1 468.5,256.4 469.0,256.6 469.5,256.8 470.0,257.0 470.5,257.3 471.0,256.9 471.5,257.2 472.0,256.4 472.5,255.8 473.0,256.8 473.5,257.1 474.0,256.8 474.5,256.5 475.0,257.0 475.5,257.6 476.0,256.9 476.5,256.6 477.0,256.6 477.5,257.6 478.0,256.9 478.5,257.1 479.0,257.3 479.5,257.2 480.0,256.5 480.5,257.2 481.0,257.1 481.5,257.0 482.0,257.2 482.5,256.6 483.0,256.8 483.5,256.6 484.0,257.1 484.5,256.6 485.0,256.9 485.5,256.4 486.0,256.7 486.5,256.6 487.0,256.7 487.5,256.8 488.0,256.7 488.5,256.6 489.0,256.0 489.5,257.1 490.0,256.5 490.5,256.6 491.0,256.4 491.5,257.0 492.0,256.3 492.5,256.8 493.0,257.0 493.5,257.1 494.0,256.9 494.5,256.7 495.0,256.0 495.5,256.8 496.0,256.7 496.5,256.5 497.0,256.4 497.5,256.1 498.0,255.8 498.5,256.2 499.0,256.2 499.5,255.2 500.0,255.7 500.5,255.2 501.0,255.2 501.5,254.8 502.0,254.8 502.5,254.4 503.0,254.0 503.5,252.8 504.0,253.2 504.5,252.4 505.0,251.5 505.5,251.7 506.0,250.4 506.5,250.7 507.0,250.5 507.5,249.2 508.0,249.2 508.5,248.6 509.0,248.4 509.5,247.4 510.0,247.9 510.5,247.6 511.0,247.9 511.5,247.8 512.0,248.4 512.5,248.4 513.0,249.0 513.5,249.7 514.0,249.8 514.5,250.6 515.0,250.8 515.5,251.4 516.0,251.6 516.5,252.5 517.0,253.1 517.5,253.1 518.0,253.8 518.5,254.1 519.0,253.9 519.5,254.7 520.0,255.3 520.5,254.9 521.0,254.7 521.5,255.6 522.0,255.5 522.5,256.5 523.0,255.9 523.5,256.1 524.0,255.9 524.5,256.3 525.0,256.1 525.5,256.1 526.0,256.4 526.5,256.2 527.0,257.0 527.5,256.2 528.0,256.6 528.5,256.4 529.0,256.2 529.5,257.2 530.0,256.0 530.5,257.2 531.0,256.3 531.5,256.8 532.0,257.5 532.5,256.1 533.0,256.3 533.5,257.3 534.0,256.9 534.5,256.7 535.0,256.8 535.5,256.5 536.0,256.9 536.5,257.4 537.0,256.8 537.5,256.9 538.0,257.3 538.5,257.6 539.0,256.7 539.5,257.0 540.0,256.7 540.5,256.7 541.0,256.8 541.5,256.7 542.0,256.4 542.5,256.3 543.0,256.7 543.5,257.0 544.0,257.4 544.5,256.8 545.0,256.9 545.5,257.2 546.0,257.3 546.5,257.0 547.0,257.0 547.5,257.7 548.0,256.9 548.5,256.9 549.0,256.5 549.5,257.2 550.0,256.9 550.5,257.7 551.0,256.9 551.5,257.3 552.0,257.4 552.5,257.6 553.0,256.6 553.5,257.6 554.0,257.1 554.5,257.0 555.0,257.0 555.5,256.9 556.0,257.0 556.5,256.3 557.0,257.2 557.5,257.1 558.0,256.8 558.5,257.1 559.0,257.9 559.5,257.2 560.0,257.0 560.5,257.7 561.0,256.8 561.5,257.0 562.0,256.9 562.5,257.0 563.0,257.3 563.5,257.3 564.0,256.9 564.5,257.1 565.0,257.1 565.5,257.0 566.0,257.1 566.5,256.9 567.0,256.9 567.5,257.1 568.0,256.8 568.5,257.3 569.0,257.1 569.5,256.8 570.0,256.9 570.5,257.0 571.0,257.1 571.5,257.2 572.0,257.1 572.5,256.8 573.0,257.6 573.5,257.4 574.0,257.2 574.5,257.5 575.0,257.2 575.5,257.0 576.0,257.2 576.5,258.0 577.0,257.5 577.5,257.5 578.0,257.0 578.5,257.3 579.0,257.9 579.5,257.3 580.0,257.5 580.5,257.6 581.0,257.4 581.5,257.7 582.0,257.2 582.5,257.3 583.0,256.9 583.5,258.1 584.0,257.3 584.5,257.2 585.0,257.6 585.5,257.0 586.0,257.2 586.5,256.9 587.0,257.2 587.5,257.0 588.0,257.3 588.5,257.1 589.0,257.0 589.5,257.1 590.0,257.1 590.5,257.0 591.0,257.5 591.5,257.4 592.0,257.2 592.5,256.8 593.0,257.3 593.5,256.7 594.0,257.2 594.5,257.2 595.0,257.0 595.5,256.9 596.0,256.9 596.5,257.9 597.0,257.1 597.5,257.1 598.0,257.5 598.5,257.3 599.0,257.5 599.5,256.8 600.0,256.8 600.5,258.3 601.0,257.2" fill="none" stroke="#ff44ff" stroke-width="1.8" stroke-linejoin="round" />
<polyline points="453.0,287.1 453.5,287.2 454.0,287.3 454.5,287.0 455.0,287.2 455.5,287.1 456.0,287.2 456.5,287.2 457.0,287.1 457.5,287.0 458.0,286.8 458.5,287.3 459.0,286.9 459.5,287.1 460.0,287.4 460.5,287.1 461.0,287.2 461.5,287.1 462.0,287.2 462.5,287.1 463.0,287.0 463.5,287.3 464.0,287.1 464.5,286.9 465.0,287.1 465.5,287.2 466.0,286.9 466.5,287.2 467.0,287.2 467.5,287.4 468.0,287.0 468.5,287.2 469.0,286.8 469.5,287.0 470.0,287.1 470.5,287.1 471.0,287.0 471.5,287.0 472.0,287.0 472.5,287.0 473.0,287.1 473.5,287.1 474.0,287.1 474.5,287.1 475.0,287.2 475.5,286.7 476.0,286.9 476.5,286.9 477.0,286.9 477.5,287.1 478.0,287.0 478.5,286.9 479.0,286.9 479.5,287.1 480.0,286.8 480.5,286.8 481.0,287.0 481.5,286.9 482.0,287.0 482.5,286.9 483.0,286.9 483.5,286.7 484.0,286.6 484.5,286.7 485.0,286.3 485.5,286.7 486.0,286.8 486.5,286.6 487.0,286.6 487.5,286.7 488.0,286.5 488.5,286.6 489.0,286.8 489.5,286.5 490.0,286.5 490.5,286.4 491.0,286.3 491.5,286.2 492.0,286.1 492.5,286.2 493.0,285.8 493.5,285.9 494.0,285.9 494.5,285.6 495.0,285.6 495.5,285.4 496.0,285.5 496.5,285.4 497.0,285.4 497.5,285.1 498.0,284.7 498.5,284.7 499.0,284.5 499.5,284.4 500.0,283.6 500.5,283.6 501.0,283.0 501.5,282.9 502.0,282.4 502.5,281.9 503.0,281.2 503.5,280.3 504.0,279.0 504.5,277.7 505.0,275.9 505.5,273.1 506.0,269.7 506.5,265.0 507.0,259.5 507.5,251.9 508.0,243.0 508.5,232.7 509.0,221.0 509.5,208.6 510.0,196.5 510.5,185.4 511.0,177.5 511.5,173.8 512.0,175.1 512.5,181.7 513.0,191.9 513.5,204.0 514.0,216.0 514.5,228.0 515.0,239.2 515.5,248.6 516.0,256.5 516.5,263.1 517.0,267.9 517.5,271.6 518.0,274.8 518.5,277.0 519.0,278.7 519.5,280.0 520.0,280.9 520.5,281.6 521.0,282.1 521.5,282.5 522.0,283.1 522.5,283.7 523.0,283.9 523.5,284.4 524.0,284.4 524.5,284.4 525.0,284.9 525.5,285.2 526.0,285.0 526.5,285.1 527.0,285.5 527.5,285.7 528.0,285.6 528.5,285.8 529.0,285.8 529.5,285.8 530.0,285.9 530.5,286.2 531.0,286.2 531.5,286.2 532.0,286.0 532.5,286.7 533.0,286.3 533.5,286.5 534.0,286.4 534.5,286.7 535.0,286.4 535.5,286.7 536.0,286.7 536.5,286.9 537.0,286.6 537.5,286.7 538.0,286.8 538.5,287.2 539.0,286.7 539.5,287.0 540.0,286.9 540.5,287.0 541.0,287.1 541.5,287.1 542.0,287.1 542.5,287.1 543.0,287.0 543.5,287.1 544.0,286.9 544.5,287.1 545.0,287.0 545.5,287.1 546.0,287.3 546.5,287.3 547.0,287.3 547.5,287.4 548.0,286.9 548.5,287.3 549.0,287.3 549.5,287.3 550.0,287.1 550.5,287.4 551.0,287.5 551.5,287.5 552.0,287.3 552.5,287.4 553.0,287.5 553.5,287.6 554.0,287.5 554.5,287.4 555.0,287.4 555.5,287.4 556.0,287.4 556.5,287.3 557.0,287.5 557.5,287.3 558.0,287.3 558.5,287.5 559.0,287.3 559.5,287.4 560.0,287.1 560.5,287.6 561.0,287.5 561.5,287.4 562.0,287.5 562.5,287.5 563.0,287.4 563.5,287.8 564.0,287.4 564.5,287.6 565.0,287.8 565.5,287.4 566.0,287.5 566.5,287.4 567.0,287.7 567.5,287.5 568.0,287.4 568.5,287.7 569.0,287.7 569.5,287.4 570.0,287.7 570.5,287.6 571.0,287.9 571.5,287.8 572.0,287.5 572.5,287.5 573.0,287.4 573.5,287.6 574.0,287.6 574.5,287.7 575.0,287.6 575.5,287.4 576.0,287.5 576.5,287.8 577.0,287.8 577.5,287.6 578.0,287.6 578.5,287.6 579.0,287.6 579.5,287.4 580.0,287.7 580.5,287.5 581.0,287.6 581.5,287.3 582.0,287.7 582.5,287.8 583.0,287.3 583.5,287.9 584.0,287.7 584.5,287.5 585.0,287.4 585.5,287.8 586.0,287.7 586.5,287.7 587.0,287.6 587.5,287.6 588.0,287.8 588.5,287.5 589.0,287.8 589.5,287.4 590.0,287.5 590.5,287.5 591.0,287.9 591.5,287.4 592.0,287.5 592.5,287.8 593.0,287.7 593.5,288.0 594.0,288.0 594.5,287.8 595.0,287.8 595.5,287.4 596.0,287.6 596.5,287.7 597.0,287.7 597.5,287.5 598.0,287.6 598.5,287.6 599.0,287.9 599.5,287.8 600.0,287.7 600.5,287.7 601.0,287.8" fill="none" stroke="#f07424" stroke-width="1.8" stroke-linejoin="round" />
<text x="594.5" y="68.3" font-size="13" text-anchor="end" font-weight="bold" fill="#6a6a6a" >LP-1.98</text>
<text x="594.5" y="120.0" font-size="13" text-anchor="end" font-weight="bold" fill="#7af7f7" >LP-2.40</text>
<text x="594.5" y="156.5" font-size="13" text-anchor="end" font-weight="bold" fill="#a84a28" >LP-2.52</text>
<text x="594.5" y="184.9" font-size="13" text-anchor="end" font-weight="bold" fill="#1a1aee" >LP-2.86</text>
<text x="594.5" y="213.2" font-size="13" text-anchor="end" font-weight="bold" fill="#44ee22" >LP-3.52</text>
<text x="594.5" y="243.7" font-size="13" text-anchor="end" font-weight="bold" fill="#ff44ff" >LP-5.73</text>
<text x="596.5" y="279.3" font-size="13" text-anchor="end" font-weight="bold" fill="#f07424" >Bare LCO</text>
<rect x="452.5" y="1.5" width="149.0" height="298.0" fill="none" stroke="#444" stroke-width="1"/>
<path d="M452.5,300V304 M458.5,300V302 M464.4,300V302 M470.4,300V302 M476.3,300V302 M482.3,300V304 M488.3,300V302 M494.2,300V302 M500.2,300V302 M506.1,300V302 M512.1,300V304 M518.1,300V302 M524.0,300V302 M530.0,300V302 M535.9,300V302 M541.9,300V304 M547.9,300V302 M553.8,300V302 M559.8,300V302 M565.7,300V302 M571.7,300V304 M577.7,300V302 M583.6,300V302 M589.6,300V302 M595.5,300V302 M601.5,300V304" stroke="#444" stroke-width="1"/>
<text x="452.5" y="319.3" font-size="15" text-anchor="middle" font-weight="normal" fill="#000" >17</text>
<text x="482.3" y="319.3" font-size="15" text-anchor="middle" font-weight="normal" fill="#000" >18</text>
<text x="512.1" y="319.3" font-size="15" text-anchor="middle" font-weight="normal" fill="#000" >19</text>
<text x="541.9" y="319.3" font-size="15" text-anchor="middle" font-weight="normal" fill="#000" >20</text>
<text x="571.7" y="319.3" font-size="15" text-anchor="middle" font-weight="normal" fill="#000" >21</text>
<text x="601.5" y="319.3" font-size="15" text-anchor="middle" font-weight="normal" fill="#000" >22</text>
<text x="462" y="15.5" font-size="14" text-anchor="start" font-weight="bold" fill="#000" >b</text>
<text transform="translate(448.3,199) rotate(-90)" font-size="16" textLength="105.5">Intensity / a. u.</text>
<text x="456" y="335.5" font-size="15" textLength="139.5">2<tspan font-style="italic">θ</tspan> / degree (CuKα)</text>
</g>
<g clip-path="url(#clipgc)"><rect x="7" y="389" width="112" height="94" fill="url(#gc)"/><path d="M60,389 H119 V412 C105,410 90,414 75,411 C68,410 62,408 60,406 Z" fill="#222" opacity="0.55" filter="url(#bl4)"/><path d="M78,466.5 C86,465 96,464 106,464.5 C112,464 116,464.5 119,464 V470 H78 Z" fill="#2a2a2a" filter="url(#bl1)"/><rect x="7" y="389" width="112" height="94" fill="url(#blk)" opacity="0.25"/><rect x="7" y="389" width="112" height="94" filter="url(#grain)" opacity="0.15"/><rect x="7" y="389" width="112" height="94" filter="url(#grain2)" opacity="0.15"/></g><g clip-path="url(#clipgd)"><rect x="129" y="389" width="112" height="94" fill="url(#gd)"/><rect x="129" y="389" width="112" height="94" fill="url(#blk)" opacity="0.25"/><rect x="129" y="389" width="112" height="94" filter="url(#grain)" opacity="0.15"/><rect x="129" y="389" width="112" height="94" filter="url(#grain2)" opacity="0.15"/></g><g clip-path="url(#clipge)"><rect x="263" y="400" width="108" height="82" fill="url(#ge)"/><rect x="263" y="400" width="25" height="2" fill="#e8e8e8" opacity="0.7"/><rect x="288" y="400" width="83" height="1.2" fill="#d8d8d8" opacity="0.6"/><rect x="263" y="400" width="108" height="82" fill="url(#blk)" opacity="0.25"/><rect x="263" y="400" width="108" height="82" filter="url(#grain)" opacity="0.15"/><rect x="263" y="400" width="108" height="82" filter="url(#grain2)" opacity="0.15"/></g><g clip-path="url(#clipgf)"><rect x="387.5" y="388" width="106.5" height="92.5" fill="url(#gf)"/><path d="M387,388 H494 V398 C485,398 478,394 470,394 C455,394 440,395 425,397 C410,399 400,403 387,403 Z" fill="#181818" filter="url(#bl2)"/><path d="M387,480 V463 C400,462 415,464 425,463 C440,460 450,459 460,461 C475,463 485,467 494,468 V480 Z" fill="#1c1c1c" filter="url(#bl2)"/><path d="M440,455 C455,453 470,455 494,458 V464 C480,463 465,461 450,460 Z" fill="#909090" opacity="0.6" filter="url(#bl2)"/><rect x="387.5" y="388" width="106.5" height="92.5" fill="url(#blk)" opacity="0.25"/><rect x="387.5" y="388" width="106.5" height="92.5" filter="url(#grain)" opacity="0.15"/><rect x="387.5" y="388" width="106.5" height="92.5" filter="url(#grain2)" opacity="0.15"/></g><rect x="43.9" y="419.3" width="23.9" height="7.399999999999977" fill="#ff5060" fill-opacity="0.33" stroke="#e04050" stroke-opacity="0.7" stroke-width="0.8"/><rect x="43.9" y="433.4" width="23.9" height="7.400000000000034" fill="#ff5060" fill-opacity="0.33" stroke="#e04050" stroke-opacity="0.7" stroke-width="0.8"/><rect x="43.9" y="447.7" width="23.9" height="7.0" fill="#ff5060" fill-opacity="0.33" stroke="#e04050" stroke-opacity="0.7" stroke-width="0.8"/><rect x="43.9" y="457.2" width="23.9" height="7.199999999999989" fill="#ff5060" fill-opacity="0.33" stroke="#e04050" stroke-opacity="0.7" stroke-width="0.8"/><text x="55.3" y="427.0" font-size="10.2" text-anchor="middle" font-weight="normal" fill="#111" >D</text><text x="55.3" y="441.1" font-size="10.2" text-anchor="middle" font-weight="normal" fill="#111" >C</text><text x="55.3" y="455.0" font-size="10.2" text-anchor="middle" font-weight="normal" fill="#111" >B</text><text x="55.3" y="464.7" font-size="10.2" text-anchor="middle" font-weight="normal" fill="#111" >A</text><rect x="175" y="409.7" width="24.69999999999999" height="7.600000000000023" fill="#ff5060" fill-opacity="0.33" stroke="#e04050" stroke-opacity="0.7" stroke-width="0.8"/><rect x="175" y="421.1" width="24.69999999999999" height="7.599999999999966" fill="#ff5060" fill-opacity="0.33" stroke="#e04050" stroke-opacity="0.7" stroke-width="0.8"/><rect x="175" y="433.1" width="24.69999999999999" height="7.599999999999966" fill="#ff5060" fill-opacity="0.33" stroke="#e04050" stroke-opacity="0.7" stroke-width="0.8"/><rect x="175" y="447.3" width="24.69999999999999" height="7.599999999999966" fill="#ff5060" fill-opacity="0.33" stroke="#e04050" stroke-opacity="0.7" stroke-width="0.8"/><text x="185.5" y="417.6" font-size="11.3" text-anchor="middle" font-weight="normal" fill="#111" >D</text><text x="185.5" y="429.0" font-size="11.3" text-anchor="middle" font-weight="normal" fill="#111" >C</text><text x="185.5" y="441.0" font-size="11.3" text-anchor="middle" font-weight="normal" fill="#111" >B</text><text x="185.5" y="455.2" font-size="11.3" text-anchor="middle" font-weight="normal" fill="#111" >A</text><rect x="293.3" y="400.2" width="32.69999999999999" height="9.5" fill="#ff5060" fill-opacity="0.33" stroke="#e04050" stroke-opacity="0.7" stroke-width="0.8"/><rect x="293.3" y="416.4" width="32.69999999999999" height="9.5" fill="#ff5060" fill-opacity="0.33" stroke="#e04050" stroke-opacity="0.7" stroke-width="0.8"/><rect x="293.3" y="432.1" width="32.69999999999999" height="9.5" fill="#ff5060" fill-opacity="0.33" stroke="#e04050" stroke-opacity="0.7" stroke-width="0.8"/><rect x="293.3" y="447.9" width="32.69999999999999" height="9.800000000000011" fill="#ff5060" fill-opacity="0.33" stroke="#e04050" stroke-opacity="0.7" stroke-width="0.8"/><text x="309.5" y="410.8" font-size="11.2" text-anchor="middle" font-weight="normal" fill="#111" >D</text><text x="309.5" y="427.0" font-size="11.2" text-anchor="middle" font-weight="normal" fill="#111" >C</text><text x="309.5" y="442.7" font-size="11.2" text-anchor="middle" font-weight="normal" fill="#111" >B</text><text x="309.5" y="458.8" font-size="11.2" text-anchor="middle" font-weight="normal" fill="#111" >A</text><rect x="409.2" y="398.9" width="26.900000000000034" height="7.600000000000023" fill="#ff5060" fill-opacity="0.33" stroke="#e04050" stroke-opacity="0.7" stroke-width="0.8"/><rect x="409.2" y="415.4" width="26.900000000000034" height="7.2000000000000455" fill="#ff5060" fill-opacity="0.33" stroke="#e04050" stroke-opacity="0.7" stroke-width="0.8"/><rect x="409.2" y="434" width="26.900000000000034" height="7.199999999999989" fill="#ff5060" fill-opacity="0.33" stroke="#e04050" stroke-opacity="0.7" stroke-width="0.8"/><rect x="409.2" y="450.1" width="26.900000000000034" height="7.599999999999966" fill="#ff5060" fill-opacity="0.33" stroke="#e04050" stroke-opacity="0.7" stroke-width="0.8"/><text x="422.6" y="407.3" font-size="11.8" text-anchor="middle" font-weight="normal" fill="#111" >D</text><text x="422.6" y="423.4" font-size="11.8" text-anchor="middle" font-weight="normal" fill="#111" >C</text><text x="422.6" y="442.0" font-size="11.8" text-anchor="middle" font-weight="normal" fill="#111" >B</text><text x="422.6" y="458.5" font-size="11.8" text-anchor="middle" font-weight="normal" fill="#111" >A</text><text x="12.5" y="381.3" font-size="15.5" text-anchor="start" font-weight="bold" fill="#000" >c</text><text x="131.5" y="381" font-size="15.5" text-anchor="start" font-weight="bold" fill="#000" >d</text><text x="265" y="381.3" font-size="15.5" text-anchor="start" font-weight="bold" fill="#000" >e</text><text x="386.5" y="381" font-size="15.5" text-anchor="start" font-weight="bold" fill="#000" >f</text><text x="12.4" y="399.4" font-size="9.4" text-anchor="start" font-weight="normal" fill="#f4f4f4" >W</text><text x="59" y="399.5" font-size="11.5" text-anchor="start" font-weight="normal" fill="#f4f4f4" textLength="52">Bare LCO</text><text x="9.3" y="438.6" font-size="10" text-anchor="start" font-weight="normal" fill="#f8f8f8" textLength="18.8">LCO</text><text x="9.5" y="477.3" font-size="9.5" text-anchor="start" font-weight="normal" fill="#f4f4f4" textLength="28.8">Pt/Ti/Si</text><text x="129.3" y="477.7" font-size="9.5" text-anchor="start" font-weight="normal" fill="#f4f4f4" textLength="28.9">Pt/Ti/Si</text><text x="263.5" y="477.7" font-size="9.5" text-anchor="start" font-weight="normal" fill="#f4f4f4" textLength="28.8">Pt/Ti/Si</text><text x="389" y="476.7" font-size="9.5" text-anchor="start" font-weight="normal" fill="#f4f4f4" textLength="29.0">Pt/Ti/Si</text><text x="89.5" y="472.9" font-size="9.3" text-anchor="start" font-weight="normal" fill="#fff" >20</text><text x="114.6" y="472.9" font-size="9.0" text-anchor="end" font-weight="normal" fill="#fff" >nm</text><text x="212.4" y="473" font-size="9.8" text-anchor="start" font-weight="normal" fill="#fff" >20</text><text x="237.5" y="473" font-size="9.1" text-anchor="end" font-weight="normal" fill="#fff" >nm</text><text x="344.7" y="473" font-size="9.8" text-anchor="start" font-weight="normal" fill="#fff" >20</text><text x="370.4" y="473" font-size="9.1" text-anchor="end" font-weight="normal" fill="#fff" >nm</text><text x="465.8" y="473" font-size="9.8" text-anchor="start" font-weight="normal" fill="#fff" >20</text><text x="491.6" y="473" font-size="9.2" text-anchor="end" font-weight="normal" fill="#fff" >nm</text><rect x="91" y="476" width="23.7" height="3.2" fill="#fff"/><rect x="212.2" y="476" width="23.6" height="3.2" fill="#fff"/><rect x="344.9" y="476" width="23.4" height="3.2" fill="#fff"/><rect x="465.8" y="476" width="23.7" height="3.2" fill="#fff"/><text x="203.2" y="400.8" font-size="11.5" text-anchor="start" font-weight="normal" fill="#f4f4f4" >LP-</text><text x="200.5" y="414.7" font-size="11.5" text-anchor="start" font-weight="normal" fill="#f0f0f0" textLength="23.5">3.52</text><text x="335" y="398" font-size="11.5" text-anchor="start" font-weight="normal" fill="#111" >LP-</text><text x="332.3" y="412.2" font-size="11.5" text-anchor="start" font-weight="normal" fill="#111" textLength="23.5">2.40</text><text x="447" y="400.3" font-size="11.5" text-anchor="start" font-weight="normal" fill="#f4f4f4" textLength="42">LP-5.73</text>
<polyline points="24.0,553.7 24.5,554.4 25.0,554.9 25.5,555.0 26.0,554.2 26.5,553.9 27.0,553.6 27.5,553.8 28.0,553.6 28.5,553.3 29.0,553.4 29.5,553.6 30.0,553.8 30.5,553.5 31.0,553.5 31.5,553.6 32.0,553.7 32.5,552.9 33.0,551.9 33.5,552.8 34.0,554.0 34.5,553.1 35.0,552.2 35.5,552.8 36.0,552.6 36.5,552.4 37.0,551.4 37.5,550.9 38.0,550.1 38.5,550.4 39.0,550.2 39.5,548.9 40.0,548.2 40.5,547.2 41.0,545.6 41.5,544.6 42.0,543.3 42.5,542.3 43.0,541.3 43.5,539.1 44.0,537.3 44.5,535.2 45.0,533.6 45.5,532.0 46.0,531.2 46.5,530.1 47.0,528.4 47.5,527.4 48.0,526.4 48.5,526.6 49.0,526.9 49.5,527.5 50.0,528.0 50.5,528.7 51.0,529.7 51.5,531.0 52.0,532.3 52.5,534.4 53.0,536.4 53.5,538.3 54.0,539.9 54.5,540.7 55.0,542.1 55.5,543.2 56.0,544.4 56.5,545.6 57.0,546.6 57.5,547.5 58.0,548.9 58.5,549.0 59.0,549.5 59.5,550.2 60.0,550.3 60.5,551.0 61.0,551.4 61.5,551.3 62.0,551.2 62.5,551.1 63.0,551.1 63.5,551.2 64.0,551.9 64.5,551.8 65.0,552.0 65.5,552.2 66.0,552.7 66.5,552.1 67.0,551.4 67.5,551.6 68.0,551.8 68.5,551.7 69.0,551.7 69.5,551.4 70.0,551.4 70.5,551.8 71.0,552.4 71.5,552.2 72.0,552.8 72.5,552.1 73.0,551.7 73.5,552.4 74.0,553.0 74.5,553.0 75.0,552.6 75.5,552.5 76.0,552.5 76.5,552.8 77.0,552.5 77.5,552.4 78.0,552.7 78.5,551.7 79.0,551.7 79.5,551.5 80.0,552.4 80.5,552.3 81.0,551.8 81.5,551.3 82.0,550.6 82.5,550.8 83.0,551.0 83.5,550.6 84.0,549.8 84.5,549.5 85.0,549.1 85.5,548.2 86.0,546.7 86.5,546.3 87.0,545.2 87.5,544.2 88.0,543.7 88.5,542.8 89.0,541.6 89.5,541.2 90.0,541.5 90.5,541.0 91.0,541.1 91.5,541.8 92.0,542.1 92.5,543.0 93.0,543.3 93.5,544.6 94.0,545.6 94.5,546.2 95.0,546.8 95.5,547.5 96.0,547.9 96.5,548.2 97.0,549.0 97.5,549.1 98.0,549.2 98.5,549.9 99.0,550.2 99.5,549.2 100.0,548.5 100.5,549.4 101.0,549.9 101.5,549.7 102.0,550.0 102.5,549.9 103.0,549.8 103.5,550.0 104.0,549.9 104.5,550.2 105.0,551.1 105.5,550.6 106.0,549.9 106.5,550.5 107.0,550.8 107.5,551.2 108.0,551.7 108.5,550.7" fill="none" stroke="#7222d2" stroke-width="1.7" stroke-linejoin="round" /><polyline points="24.0,589.2 24.5,589.5 25.0,589.4 25.5,590.3 26.0,590.4 26.5,590.0 27.0,590.0 27.5,589.6 28.0,589.3 28.5,589.2 29.0,590.2 29.5,589.6 30.0,589.0 30.5,589.5 31.0,589.8 31.5,589.1 32.0,588.7 32.5,588.9 33.0,588.4 33.5,589.2 34.0,589.5 34.5,589.3 35.0,588.6 35.5,588.5 36.0,587.7 36.5,588.2 37.0,588.5 37.5,587.9 38.0,587.5 38.5,586.7 39.0,586.0 39.5,585.9 40.0,585.4 40.5,585.0 41.0,585.0 41.5,583.8 42.0,583.1 42.5,581.6 43.0,579.9 43.5,578.4 44.0,576.8 44.5,575.1 45.0,573.3 45.5,570.7 46.0,568.5 46.5,566.8 47.0,565.4 47.5,562.3 48.0,560.7 48.5,558.9 49.0,558.0 49.5,557.0 50.0,557.0 50.5,557.0 51.0,557.0 51.5,558.2 52.0,559.8 52.5,562.0 53.0,564.8 53.5,566.4 54.0,568.0 54.5,570.1 55.0,571.9 55.5,574.1 56.0,575.9 56.5,577.2 57.0,578.9 57.5,580.3 58.0,581.7 58.5,582.3 59.0,582.8 59.5,583.7 60.0,584.6 60.5,584.9 61.0,584.6 61.5,585.4 62.0,586.8 62.5,586.3 63.0,586.3 63.5,585.9 64.0,585.7 64.5,586.5 65.0,586.9 65.5,586.6 66.0,587.1 66.5,587.6 67.0,587.1 67.5,587.4 68.0,586.6 68.5,587.1 69.0,587.6 69.5,588.3 70.0,589.8 70.5,588.3 71.0,586.7 71.5,587.2 72.0,587.5 72.5,587.5 73.0,587.6 73.5,587.2 74.0,587.6 74.5,587.2 75.0,586.8 75.5,587.0 76.0,586.8 76.5,587.2 77.0,587.9 77.5,587.5 78.0,587.4 78.5,588.1 79.0,588.6 79.5,587.6 80.0,586.8 80.5,587.1 81.0,586.7 81.5,587.6 82.0,587.9 82.5,587.3 83.0,585.6 83.5,585.0 84.0,584.4 84.5,583.5 85.0,583.6 85.5,582.9 86.0,581.5 86.5,581.0 87.0,580.1 87.5,578.2 88.0,577.3 88.5,576.1 89.0,574.6 89.5,574.0 90.0,573.9 90.5,573.8 91.0,574.9 91.5,575.1 92.0,575.0 92.5,575.1 93.0,574.7 93.5,576.1 94.0,578.2 94.5,578.8 95.0,579.7 95.5,580.5 96.0,582.1 96.5,582.0 97.0,582.5 97.5,583.2 98.0,584.2 98.5,584.4 99.0,584.1 99.5,584.1 100.0,584.1 100.5,584.5 101.0,584.4 101.5,584.2 102.0,584.4 102.5,584.4 103.0,584.6 103.5,585.0 104.0,585.7 104.5,585.5 105.0,585.2 105.5,585.4 106.0,585.2 106.5,585.6 107.0,586.3 107.5,585.8 108.0,585.6 108.5,585.7" fill="none" stroke="#b03494" stroke-width="1.7" stroke-linejoin="round" /><polyline points="24.0,624.0 24.5,624.6 25.0,624.7 25.5,623.8 26.0,623.8 26.5,624.6 27.0,624.7 27.5,624.6 28.0,623.6 28.5,623.7 29.0,624.2 29.5,623.6 30.0,623.2 30.5,624.0 31.0,624.4 31.5,624.5 32.0,624.1 32.5,624.0 33.0,624.4 33.5,623.9 34.0,623.9 34.5,623.0 35.0,622.4 35.5,622.3 36.0,622.9 36.5,622.3 37.0,622.4 37.5,622.1 38.0,622.0 38.5,621.7 39.0,622.2 39.5,621.4 40.0,620.8 40.5,620.1 41.0,619.1 41.5,618.5 42.0,617.5 42.5,616.1 43.0,614.2 43.5,612.6 44.0,611.0 44.5,609.2 45.0,607.6 45.5,605.3 46.0,603.5 46.5,601.4 47.0,598.4 47.5,596.3 48.0,594.3 48.5,592.8 49.0,591.9 49.5,589.8 50.0,588.6 50.5,588.5 51.0,588.7 51.5,589.9 52.0,592.1 52.5,593.3 53.0,594.5 53.5,597.4 54.0,599.3 54.5,602.5 55.0,605.2 55.5,606.9 56.0,608.8 56.5,611.0 57.0,612.3 57.5,613.9 58.0,614.5 58.5,616.0 59.0,616.8 59.5,617.9 60.0,618.9 60.5,619.3 61.0,619.0 61.5,620.0 62.0,620.5 62.5,621.3 63.0,621.4 63.5,621.7 64.0,621.0 64.5,620.9 65.0,621.4 65.5,621.7 66.0,621.6 66.5,621.7 67.0,622.1 67.5,622.0 68.0,622.1 68.5,622.4 69.0,622.1 69.5,622.2 70.0,622.4 70.5,621.8 71.0,621.4 71.5,621.6 72.0,621.6 72.5,622.0 73.0,622.7 73.5,622.0 74.0,621.6 74.5,621.9 75.0,621.4 75.5,621.2 76.0,621.6 76.5,621.3 77.0,621.5 77.5,621.8 78.0,621.9 78.5,621.5 79.0,621.2 79.5,621.5 80.0,622.1 80.5,622.0 81.0,622.2 81.5,622.0 82.0,620.8 82.5,621.2 83.0,621.2 83.5,620.1 84.0,619.0 84.5,618.3 85.0,617.1 85.5,616.4 86.0,615.4 86.5,614.2 87.0,612.8 87.5,611.4 88.0,611.1 88.5,609.0 89.0,607.2 89.5,607.1 90.0,607.6 90.5,606.9 91.0,606.3 91.5,606.4 92.0,606.4 92.5,608.1 93.0,609.9 93.5,611.1 94.0,612.9 94.5,612.9 95.0,613.4 95.5,614.7 96.0,615.9 96.5,616.1 97.0,615.8 97.5,616.5 98.0,617.4 98.5,617.2 99.0,617.2 99.5,617.8 100.0,618.5 100.5,618.0 101.0,617.5 101.5,617.5 102.0,617.0 102.5,618.7 103.0,619.2 103.5,619.9 104.0,620.9 104.5,620.0 105.0,619.3 105.5,619.7 106.0,620.0 106.5,620.2 107.0,620.3 107.5,619.8 108.0,620.2 108.5,620.0" fill="none" stroke="#e25a3a" stroke-width="1.7" stroke-linejoin="round" /><polyline points="24.0,659.7 24.5,660.4 25.0,660.8 25.5,660.8 26.0,660.5 26.5,660.5 27.0,660.7 27.5,660.2 28.0,660.0 28.5,659.6 29.0,659.7 29.5,659.3 30.0,659.1 30.5,659.1 31.0,659.7 31.5,659.2 32.0,659.3 32.5,659.2 33.0,659.1 33.5,659.5 34.0,659.8 34.5,659.6 35.0,658.7 35.5,658.5 36.0,657.8 36.5,659.2 37.0,659.9 37.5,658.8 38.0,657.8 38.5,657.7 39.0,657.0 39.5,657.2 40.0,657.5 40.5,656.4 41.0,655.3 41.5,654.1 42.0,652.4 42.5,651.4 43.0,650.0 43.5,647.9 44.0,647.0 44.5,645.4 45.0,643.7 45.5,640.9 46.0,638.6 46.5,635.5 47.0,632.9 47.5,630.8 48.0,628.5 48.5,627.3 49.0,625.9 49.5,624.1 50.0,622.7 50.5,622.6 51.0,623.9 51.5,624.1 52.0,625.7 52.5,628.0 53.0,631.5 53.5,633.4 54.0,635.8 54.5,637.8 55.0,639.6 55.5,641.7 56.0,643.7 56.5,646.0 57.0,647.6 57.5,648.3 58.0,649.2 58.5,651.2 59.0,652.8 59.5,653.2 60.0,653.9 60.5,654.6 61.0,655.1 61.5,655.3 62.0,656.1 62.5,656.4 63.0,656.5 63.5,657.4 64.0,657.7 64.5,657.8 65.0,658.3 65.5,658.2 66.0,658.1 66.5,657.9 67.0,657.6 67.5,657.7 68.0,658.4 68.5,658.5 69.0,657.9 69.5,658.5 70.0,658.9 70.5,658.6 71.0,658.0 71.5,657.4 72.0,656.7 72.5,657.6 73.0,658.2 73.5,658.7 74.0,659.8 74.5,659.1 75.0,658.4 75.5,658.6 76.0,658.1 76.5,658.6 77.0,658.4 77.5,658.6 78.0,658.2 78.5,658.2 79.0,657.9 79.5,658.3 80.0,657.5 80.5,657.6 81.0,657.7 81.5,657.3 82.0,657.1 82.5,656.2 83.0,655.8 83.5,654.9 84.0,654.3 84.5,653.7 85.0,652.8 85.5,651.9 86.0,651.1 86.5,650.0 87.0,648.5 87.5,647.1 88.0,645.2 88.5,643.8 89.0,643.2 89.5,643.1 90.0,643.2 90.5,642.7 91.0,642.3 91.5,642.9 92.0,644.1 92.5,645.7 93.0,647.1 93.5,647.7 94.0,648.8 94.5,649.5 95.0,650.5 95.5,651.4 96.0,652.4 96.5,653.4 97.0,654.0 97.5,653.9 98.0,653.9 98.5,654.1 99.0,654.0 99.5,653.8 100.0,655.0 100.5,654.5 101.0,654.1 101.5,654.6 102.0,655.5 102.5,655.8 103.0,654.7 103.5,655.0 104.0,654.9 104.5,655.4 105.0,656.0 105.5,655.5 106.0,655.7 106.5,655.3 107.0,655.5 107.5,656.2 108.0,656.7 108.5,656.2" fill="none" stroke="#f2741a" stroke-width="1.7" stroke-linejoin="round" /><rect x="23.5" y="496.5" width="85.5" height="171.0" fill="none" stroke="#555" stroke-width="1"/><path d="M23.5,668.0V671.5 M29.2,668.0V670.0 M34.9,668.0V670.0 M40.6,668.0V670.0 M46.3,668.0V670.0 M52.0,668.0V671.5 M57.7,668.0V670.0 M63.4,668.0V670.0 M69.1,668.0V670.0 M74.8,668.0V670.0 M80.5,668.0V671.5 M86.2,668.0V670.0 M91.9,668.0V670.0 M97.6,668.0V670.0 M103.3,668.0V670.0 M109.0,668.0V671.5" stroke="#555" stroke-width="1"/><text x="23.5" y="683" font-size="11.8" text-anchor="middle" font-weight="normal" fill="#000" >770</text><text x="52.0" y="683" font-size="11.8" text-anchor="middle" font-weight="normal" fill="#000" >780</text><text x="80.5" y="683" font-size="11.8" text-anchor="middle" font-weight="normal" fill="#000" >790</text><text x="109.0" y="683" font-size="11.8" text-anchor="middle" font-weight="normal" fill="#000" >800</text><text x="62.9" y="693.6" font-size="12" text-anchor="middle" font-weight="normal" fill="#000" textLength="91">Energy Loss / eV</text><text x="28.5" y="509.4" font-size="15.5" text-anchor="start" font-weight="bold" fill="#000" >g</text><text transform="translate(13.3,615.3) rotate(-90)" font-size="11.6" textLength="77.7">Intensity / a. u.</text><text x="30.5" y="542" font-size="11.5" text-anchor="start" font-weight="normal" fill="#000" >D</text><text x="30.5" y="577.2" font-size="11.5" text-anchor="start" font-weight="normal" fill="#000" >C</text><text x="30.5" y="614.3" font-size="11.5" text-anchor="start" font-weight="normal" fill="#000" >B</text><text x="30.5" y="649.4" font-size="11.5" text-anchor="start" font-weight="normal" fill="#000" >A</text><polyline points="147.0,554.2 147.5,553.9 148.0,553.2 148.5,552.8 149.0,553.1 149.5,553.6 150.0,554.3 150.5,554.3 151.0,554.0 151.5,554.1 152.0,554.2 152.5,553.7 153.0,552.9 153.5,552.1 154.0,552.4 154.5,552.4 155.0,552.5 155.5,552.6 156.0,553.1 156.5,553.0 157.0,553.1 157.5,552.8 158.0,552.2 158.5,551.9 159.0,551.0 159.5,550.9 160.0,551.2 160.5,550.6 161.0,549.8 161.5,549.2 162.0,548.4 162.5,547.5 163.0,546.3 163.5,545.2 164.0,543.2 164.5,542.2 165.0,540.4 165.5,538.6 166.0,536.7 166.5,534.6 167.0,532.6 167.5,530.3 168.0,528.5 168.5,526.5 169.0,525.8 169.5,524.2 170.0,523.7 170.5,523.1 171.0,522.8 171.5,524.6 172.0,526.7 172.5,527.6 173.0,529.4 173.5,531.6 174.0,533.6 174.5,535.6 175.0,537.1 175.5,539.3 176.0,540.6 176.5,542.7 177.0,543.8 177.5,545.4 178.0,546.1 178.5,546.9 179.0,547.6 179.5,548.0 180.0,548.2 180.5,549.7 181.0,550.7 181.5,549.9 182.0,548.9 182.5,549.9 183.0,550.6 183.5,551.0 184.0,551.3 184.5,551.2 185.0,551.2 185.5,551.3 186.0,551.6 186.5,551.3 187.0,551.9 187.5,551.6 188.0,552.0 188.5,551.7 189.0,551.5 189.5,552.1 190.0,552.9 190.5,552.0 191.0,550.7 191.5,551.8 192.0,551.6 192.5,551.4 193.0,551.3 193.5,551.1 194.0,550.8 194.5,551.5 195.0,551.8 195.5,551.8 196.0,552.4 196.5,551.5 197.0,551.2 197.5,551.2 198.0,551.3 198.5,551.6 199.0,551.8 199.5,552.0 200.0,551.7 200.5,552.2 201.0,552.6 201.5,552.1 202.0,551.6 202.5,551.6 203.0,551.0 203.5,550.7 204.0,550.3 204.5,550.7 205.0,550.3 205.5,549.4 206.0,549.5 206.5,548.9 207.0,547.8 207.5,546.9 208.0,546.5 208.5,545.5 209.0,544.3 209.5,542.9 210.0,541.4 210.5,540.6 211.0,539.4 211.5,538.7 212.0,538.9 212.5,538.5 213.0,538.3 213.5,539.0 214.0,539.9 214.5,540.3 215.0,540.8 215.5,541.5 216.0,542.8 216.5,544.1 217.0,545.2 217.5,545.6 218.0,546.3 218.5,546.9 219.0,547.1 219.5,547.2 220.0,547.5 220.5,547.7 221.0,548.3 221.5,548.0 222.0,548.0 222.5,547.7 223.0,547.4 223.5,547.3 224.0,547.8 224.5,548.1 225.0,548.1 225.5,548.3 226.0,548.8 226.5,548.6 227.0,548.4 227.5,548.4 228.0,548.9 228.5,549.1 229.0,549.3 229.5,549.0 230.0,549.2 230.5,548.8 231.0,549.2 231.5,548.8 232.0,548.9" fill="none" stroke="#7222d2" stroke-width="1.7" stroke-linejoin="round" /><polyline points="147.0,588.8 147.5,589.1 148.0,589.9 148.5,589.3 149.0,588.5 149.5,588.7 150.0,588.8 150.5,588.1 151.0,588.4 151.5,588.4 152.0,588.5 152.5,588.3 153.0,588.1 153.5,588.5 154.0,589.0 154.5,588.0 155.0,587.4 155.5,587.7 156.0,588.3 156.5,588.5 157.0,588.9 157.5,588.5 158.0,587.5 158.5,587.6 159.0,587.3 159.5,587.2 160.0,586.8 160.5,586.1 161.0,585.2 161.5,585.4 162.0,585.8 162.5,585.6 163.0,585.6 163.5,584.3 164.0,582.4 164.5,581.2 165.0,579.2 165.5,578.3 166.0,576.8 166.5,574.4 167.0,572.5 167.5,570.1 168.0,567.2 168.5,564.2 169.0,561.7 169.5,558.5 170.0,555.9 170.5,554.2 171.0,553.1 171.5,551.3 172.0,551.1 172.5,552.6 173.0,554.5 173.5,555.9 174.0,558.6 174.5,561.4 175.0,564.7 175.5,567.2 176.0,569.7 176.5,572.0 177.0,573.4 177.5,575.7 178.0,577.4 178.5,579.2 179.0,580.0 179.5,580.1 180.0,581.6 180.5,582.4 181.0,583.8 181.5,584.1 182.0,584.7 182.5,584.8 183.0,584.6 183.5,585.0 184.0,586.1 184.5,585.9 185.0,585.8 185.5,586.1 186.0,586.0 186.5,586.2 187.0,585.6 187.5,585.4 188.0,585.2 188.5,585.7 189.0,586.3 189.5,586.6 190.0,586.6 190.5,586.6 191.0,586.3 191.5,585.9 192.0,586.2 192.5,586.3 193.0,586.4 193.5,586.3 194.0,586.0 194.5,586.4 195.0,585.9 195.5,585.8 196.0,584.9 196.5,586.2 197.0,586.6 197.5,586.3 198.0,585.8 198.5,586.0 199.0,585.8 199.5,585.9 200.0,585.9 200.5,586.3 201.0,586.3 201.5,585.7 202.0,585.2 202.5,585.9 203.0,586.6 203.5,586.5 204.0,585.8 204.5,585.7 205.0,585.0 205.5,584.9 206.0,584.7 206.5,583.5 207.0,582.5 207.5,581.1 208.0,579.2 208.5,579.0 209.0,578.7 209.5,577.7 210.0,576.4 210.5,575.2 211.0,573.7 211.5,572.1 212.0,570.8 212.5,570.3 213.0,570.4 213.5,571.1 214.0,571.6 214.5,572.1 215.0,572.6 215.5,574.0 216.0,575.5 216.5,576.5 217.0,577.7 217.5,579.1 218.0,580.5 218.5,580.8 219.0,580.4 219.5,581.6 220.0,582.3 220.5,582.1 221.0,581.6 221.5,581.4 222.0,581.5 222.5,582.3 223.0,583.5 223.5,582.5 224.0,581.9 224.5,582.1 225.0,582.7 225.5,583.4 226.0,583.8 226.5,583.1 227.0,582.6 227.5,582.5 228.0,582.4 228.5,582.9 229.0,583.6 229.5,583.7 230.0,583.1 230.5,582.9 231.0,582.7 231.5,582.7 232.0,583.0" fill="none" stroke="#b03494" stroke-width="1.7" stroke-linejoin="round" /><polyline points="147.0,624.0 147.5,624.1 148.0,624.2 148.5,624.2 149.0,623.4 149.5,623.6 150.0,623.9 150.5,623.8 151.0,624.1 151.5,624.4 152.0,624.2 152.5,623.9 153.0,623.7 153.5,623.7 154.0,624.7 154.5,623.8 155.0,623.8 155.5,623.5 156.0,623.7 156.5,624.4 157.0,624.4 157.5,623.9 158.0,623.0 158.5,623.6 159.0,623.3 159.5,622.9 160.0,623.1 160.5,622.5 161.0,622.3 161.5,621.6 162.0,621.0 162.5,621.0 163.0,620.6 163.5,619.7 164.0,619.1 164.5,617.7 165.0,616.4 165.5,614.7 166.0,612.5 166.5,610.6 167.0,608.8 167.5,605.5 168.0,602.6 168.5,599.8 169.0,597.3 169.5,593.9 170.0,590.6 170.5,588.8 171.0,587.2 171.5,585.6 172.0,584.8 172.5,585.6 173.0,586.9 173.5,589.3 174.0,591.6 174.5,593.9 175.0,596.3 175.5,599.4 176.0,601.7 176.5,604.6 177.0,607.5 177.5,609.9 178.0,611.3 178.5,613.5 179.0,614.8 179.5,615.7 180.0,617.1 180.5,618.9 181.0,619.6 181.5,619.8 182.0,620.4 182.5,620.9 183.0,621.0 183.5,620.5 184.0,620.4 184.5,621.0 185.0,621.8 185.5,621.6 186.0,620.7 186.5,621.5 187.0,621.8 187.5,621.6 188.0,620.9 188.5,621.8 189.0,622.9 189.5,621.7 190.0,621.1 190.5,621.6 191.0,622.6 191.5,622.5 192.0,622.3 192.5,621.7 193.0,621.2 193.5,622.0 194.0,621.6 194.5,622.4 195.0,622.8 195.5,622.5 196.0,622.7 196.5,621.7 197.0,621.1 197.5,621.6 198.0,621.3 198.5,621.5 199.0,621.4 199.5,621.1 200.0,621.4 200.5,621.4 201.0,621.4 201.5,622.3 202.0,622.4 202.5,622.2 203.0,621.5 203.5,621.1 204.0,621.0 204.5,620.7 205.0,620.7 205.5,620.1 206.0,620.2 206.5,619.6 207.0,619.4 207.5,617.6 208.0,616.6 208.5,615.5 209.0,615.3 209.5,613.0 210.0,610.9 210.5,609.3 211.0,607.8 211.5,606.6 212.0,606.3 212.5,605.6 213.0,605.4 213.5,605.3 214.0,605.0 214.5,606.1 215.0,607.4 215.5,609.4 216.0,611.2 216.5,611.7 217.0,613.0 217.5,614.4 218.0,615.7 218.5,615.5 219.0,616.6 219.5,616.9 220.0,616.7 220.5,617.4 221.0,617.6 221.5,618.0 222.0,617.9 222.5,618.0 223.0,617.6 223.5,618.4 224.0,618.9 224.5,617.9 225.0,616.9 225.5,617.9 226.0,618.3 226.5,619.0 227.0,619.5 227.5,619.4 228.0,619.6 228.5,619.2 229.0,618.7 229.5,619.2 230.0,619.6 230.5,619.8 231.0,619.9 231.5,619.9 232.0,619.4" fill="none" stroke="#e25a3a" stroke-width="1.7" stroke-linejoin="round" /><polyline points="147.0,660.3 147.5,659.5 148.0,659.5 148.5,659.7 149.0,660.4 149.5,659.7 150.0,660.5 150.5,660.4 151.0,660.8 151.5,660.2 152.0,659.9 152.5,660.5 153.0,660.6 153.5,660.5 154.0,660.0 154.5,659.6 155.0,659.4 155.5,658.7 156.0,658.1 156.5,658.8 157.0,658.7 157.5,658.4 158.0,658.5 158.5,659.1 159.0,659.2 159.5,659.3 160.0,659.2 160.5,658.9 161.0,659.1 161.5,657.8 162.0,657.4 162.5,656.9 163.0,655.5 163.5,655.6 164.0,655.8 164.5,654.4 165.0,652.6 165.5,651.1 166.0,648.9 166.5,646.2 167.0,643.6 167.5,641.2 168.0,638.2 168.5,635.3 169.0,633.0 169.5,630.0 170.0,627.2 170.5,625.1 171.0,623.6 171.5,622.3 172.0,621.5 172.5,621.9 173.0,623.2 173.5,624.5 174.0,626.9 174.5,629.4 175.0,632.1 175.5,634.6 176.0,637.6 176.5,640.2 177.0,643.1 177.5,644.7 178.0,646.7 178.5,648.8 179.0,650.6 179.5,652.0 180.0,653.0 180.5,653.8 181.0,655.1 181.5,655.0 182.0,655.8 182.5,656.0 183.0,655.3 183.5,656.1 184.0,656.7 184.5,657.4 185.0,657.6 185.5,657.0 186.0,656.0 186.5,656.4 187.0,656.9 187.5,657.1 188.0,657.0 188.5,657.5 189.0,656.7 189.5,656.6 190.0,657.4 190.5,657.4 191.0,657.6 191.5,657.4 192.0,656.7 192.5,656.7 193.0,657.8 193.5,657.9 194.0,658.1 194.5,657.3 195.0,656.9 195.5,657.4 196.0,657.6 196.5,657.9 197.0,658.3 197.5,657.7 198.0,657.9 198.5,657.5 199.0,657.8 199.5,657.8 200.0,657.8 200.5,657.7 201.0,657.5 201.5,657.9 202.0,658.0 202.5,657.5 203.0,657.5 203.5,656.6 204.0,656.3 204.5,656.6 205.0,656.8 205.5,656.2 206.0,655.8 206.5,655.9 207.0,654.8 207.5,653.4 208.0,652.1 208.5,651.6 209.0,650.9 209.5,649.5 210.0,648.6 210.5,646.6 211.0,644.8 211.5,643.9 212.0,642.8 212.5,642.2 213.0,641.7 213.5,641.4 214.0,641.8 214.5,642.5 215.0,644.0 215.5,644.8 216.0,645.9 216.5,647.4 217.0,649.2 217.5,649.7 218.0,650.2 218.5,651.1 219.0,650.6 219.5,651.5 220.0,651.6 220.5,652.4 221.0,652.6 221.5,652.9 222.0,653.1 222.5,652.9 223.0,653.6 223.5,652.9 224.0,652.5 224.5,652.6 225.0,653.1 225.5,653.4 226.0,653.8 226.5,654.0 227.0,654.2 227.5,654.0 228.0,654.4 228.5,654.7 229.0,655.5 229.5,655.4 230.0,655.0 230.5,654.7 231.0,654.3 231.5,654.7 232.0,654.8" fill="none" stroke="#f2741a" stroke-width="1.7" stroke-linejoin="round" /><rect x="146.5" y="496.5" width="86.0" height="170.0" fill="none" stroke="#555" stroke-width="1"/><path d="M146.5,667.0V670.5 M152.2,667.0V669.0 M158.0,667.0V669.0 M163.7,667.0V669.0 M169.4,667.0V669.0 M175.2,667.0V670.5 M180.9,667.0V669.0 M186.6,667.0V669.0 M192.4,667.0V669.0 M198.1,667.0V669.0 M203.8,667.0V670.5 M209.6,667.0V669.0 M215.3,667.0V669.0 M221.0,667.0V669.0 M226.8,667.0V669.0 M232.5,667.0V670.5" stroke="#555" stroke-width="1"/><text x="146.5" y="683" font-size="11.8" text-anchor="middle" font-weight="normal" fill="#000" >770</text><text x="175.2" y="683" font-size="11.8" text-anchor="middle" font-weight="normal" fill="#000" >780</text><text x="203.8" y="683" font-size="11.8" text-anchor="middle" font-weight="normal" fill="#000" >790</text><text x="232.5" y="683" font-size="11.8" text-anchor="middle" font-weight="normal" fill="#000" >800</text><text x="186.1" y="693.6" font-size="12" text-anchor="middle" font-weight="normal" fill="#000" textLength="91">Energy Loss / eV</text><text x="151" y="510.5" font-size="15" text-anchor="start" font-weight="bold" fill="#000" >h</text><text transform="translate(136.3,615.3) rotate(-90)" font-size="11.6" textLength="77.7">Intensity / a. u.</text><text x="149.5" y="542" font-size="11.5" text-anchor="start" font-weight="normal" fill="#000" >D</text><text x="149.5" y="577.2" font-size="11.5" text-anchor="start" font-weight="normal" fill="#000" >C</text><text x="149.5" y="614.3" font-size="11.5" text-anchor="start" font-weight="normal" fill="#000" >B</text><text x="149.5" y="649.4" font-size="11.5" text-anchor="start" font-weight="normal" fill="#000" >A</text><polyline points="276.0,552.4 276.5,553.1 277.0,553.3 277.5,553.3 278.0,552.7 278.5,552.8 279.0,553.1 279.5,553.5 280.0,553.4 280.5,553.1 281.0,553.3 281.5,553.8 282.0,554.4 282.5,553.7 283.0,552.1 283.5,552.2 284.0,552.4 284.5,552.4 285.0,552.7 285.5,553.0 286.0,553.1 286.5,552.6 287.0,552.2 287.5,551.7 288.0,551.3 288.5,551.9 289.0,552.3 289.5,551.5 290.0,550.5 290.5,550.4 291.0,550.4 291.5,549.6 292.0,549.7 292.5,549.0 293.0,546.6 293.5,546.2 294.0,544.3 294.5,543.4 295.0,542.2 295.5,539.9 296.0,537.0 296.5,534.6 297.0,532.0 297.5,529.4 298.0,526.0 298.5,523.5 299.0,521.1 299.5,518.4 300.0,516.1 300.5,514.4 301.0,513.1 301.5,514.5 302.0,515.2 302.5,516.9 303.0,518.0 303.5,520.4 304.0,523.0 304.5,525.2 305.0,527.5 305.5,530.4 306.0,533.1 306.5,535.8 307.0,537.7 307.5,539.8 308.0,540.9 308.5,542.9 309.0,545.0 309.5,545.8 310.0,546.0 310.5,547.1 311.0,548.2 311.5,547.8 312.0,547.9 312.5,549.1 313.0,549.8 313.5,549.7 314.0,550.0 314.5,550.4 315.0,550.5 315.5,550.2 316.0,549.9 316.5,549.8 317.0,550.3 317.5,551.0 318.0,551.1 318.5,551.1 319.0,550.5 319.5,550.8 320.0,551.0 320.5,550.6 321.0,551.2 321.5,550.4 322.0,550.2 322.5,550.9 323.0,551.8 323.5,550.9 324.0,549.8 324.5,550.7 325.0,551.1 325.5,550.9 326.0,550.3 326.5,550.4 327.0,550.0 327.5,550.4 328.0,550.9 328.5,551.3 329.0,551.4 329.5,551.4 330.0,551.1 330.5,550.5 331.0,550.4 331.5,550.4 332.0,551.1 332.5,551.2 333.0,551.1 333.5,550.8 334.0,550.5 334.5,550.7 335.0,551.3 335.5,551.2 336.0,550.2 336.5,549.8 337.0,549.0 337.5,548.4 338.0,548.2 338.5,546.1 339.0,544.4 339.5,542.9 340.0,541.5 340.5,539.9 341.0,538.6 341.5,536.5 342.0,535.3 342.5,534.7 343.0,533.9 343.5,533.9 344.0,534.8 344.5,535.4 345.0,536.6 345.5,537.5 346.0,539.5 346.5,540.6 347.0,541.7 347.5,543.2 348.0,544.2 348.5,544.4 349.0,545.0 349.5,545.9 350.0,546.6 350.5,546.2 351.0,546.6 351.5,546.4 352.0,546.3 352.5,546.4 353.0,547.2 353.5,547.1 354.0,546.5 354.5,546.8 355.0,547.2 355.5,546.3 356.0,546.0 356.5,547.3 357.0,547.7 357.5,547.7 358.0,547.4 358.5,547.8 359.0,548.3 359.5,548.1 360.0,548.1 360.5,547.7 361.0,547.6" fill="none" stroke="#7222d2" stroke-width="1.7" stroke-linejoin="round" /><polyline points="276.0,587.5 276.5,587.0 277.0,587.0 277.5,586.8 278.0,587.3 278.5,587.0 279.0,587.4 279.5,586.7 280.0,587.1 280.5,586.7 281.0,586.1 281.5,586.8 282.0,586.9 282.5,587.2 283.0,587.0 283.5,586.7 284.0,587.0 284.5,586.4 285.0,585.8 285.5,586.5 286.0,586.5 286.5,586.6 287.0,585.9 287.5,585.3 288.0,585.2 288.5,585.6 289.0,586.6 289.5,585.7 290.0,584.8 290.5,585.0 291.0,584.8 291.5,583.9 292.0,582.9 292.5,582.7 293.0,582.4 293.5,581.2 294.0,580.3 294.5,578.6 295.0,576.8 295.5,574.8 296.0,572.2 296.5,569.3 297.0,565.9 297.5,562.7 298.0,559.9 298.5,558.0 299.0,555.4 299.5,552.5 300.0,549.6 300.5,548.2 301.0,547.6 301.5,546.8 302.0,546.8 302.5,547.7 303.0,548.5 303.5,550.6 304.0,553.4 304.5,555.5 305.0,558.7 305.5,561.3 306.0,564.1 306.5,566.9 307.0,569.6 307.5,572.1 308.0,574.3 308.5,576.2 309.0,578.0 309.5,578.7 310.0,578.9 310.5,579.9 311.0,580.5 311.5,581.5 312.0,582.9 312.5,583.0 313.0,583.3 313.5,582.8 314.0,583.7 314.5,582.4 315.0,582.1 315.5,582.7 316.0,582.7 316.5,583.3 317.0,583.4 317.5,583.4 318.0,583.1 318.5,584.3 319.0,585.1 319.5,584.5 320.0,584.3 320.5,584.4 321.0,584.2 321.5,583.8 322.0,583.4 322.5,583.4 323.0,583.8 323.5,583.7 324.0,583.7 324.5,583.8 325.0,583.9 325.5,583.9 326.0,584.1 326.5,584.2 327.0,584.7 327.5,584.6 328.0,584.0 328.5,584.5 329.0,584.8 329.5,583.9 330.0,583.5 330.5,583.8 331.0,584.2 331.5,584.1 332.0,584.1 332.5,584.4 333.0,584.3 333.5,583.8 334.0,583.1 334.5,583.6 335.0,583.3 335.5,582.7 336.0,581.9 336.5,581.6 337.0,581.2 337.5,580.7 338.0,579.4 338.5,578.3 339.0,576.3 339.5,574.8 340.0,573.1 340.5,571.6 341.0,570.1 341.5,569.2 342.0,568.6 342.5,566.9 343.0,566.7 343.5,568.0 344.0,569.2 344.5,570.2 345.0,571.3 345.5,572.9 346.0,575.5 346.5,576.4 347.0,577.2 347.5,577.6 348.0,577.7 348.5,578.5 349.0,578.3 349.5,579.5 350.0,580.2 350.5,580.0 351.0,579.4 351.5,579.4 352.0,579.3 352.5,579.1 353.0,579.1 353.5,579.3 354.0,579.4 354.5,579.6 355.0,580.1 355.5,579.6 356.0,580.4 356.5,579.9 357.0,579.7 357.5,580.5 358.0,580.8 358.5,580.9 359.0,580.5 359.5,580.4 360.0,579.9 360.5,580.6 361.0,581.4" fill="none" stroke="#b03494" stroke-width="1.7" stroke-linejoin="round" /><polyline points="276.0,624.8 276.5,624.6 277.0,624.5 277.5,624.6 278.0,624.8 278.5,624.8 279.0,624.9 279.5,625.3 280.0,626.3 280.5,625.2 281.0,624.7 281.5,623.8 282.0,623.4 282.5,623.6 283.0,624.2 283.5,623.7 284.0,623.3 284.5,624.0 285.0,624.2 285.5,623.9 286.0,623.8 286.5,623.9 287.0,623.1 287.5,623.8 288.0,623.2 288.5,622.9 289.0,621.9 289.5,622.5 290.0,623.0 290.5,622.3 291.0,621.5 291.5,622.1 292.0,621.6 292.5,620.7 293.0,619.7 293.5,618.1 294.0,616.6 294.5,614.8 295.0,613.4 295.5,611.3 296.0,609.6 296.5,607.0 297.0,604.7 297.5,601.1 298.0,597.2 298.5,594.9 299.0,592.5 299.5,589.8 300.0,588.3 300.5,586.4 301.0,583.8 301.5,583.5 302.0,583.4 302.5,584.7 303.0,586.0 303.5,588.2 304.0,590.2 304.5,593.4 305.0,597.3 305.5,599.8 306.0,602.3 306.5,605.1 307.0,607.4 307.5,610.1 308.0,612.2 308.5,613.9 309.0,615.7 309.5,615.9 310.0,616.7 310.5,617.7 311.0,619.8 311.5,619.8 312.0,619.9 312.5,620.4 313.0,621.2 313.5,621.1 314.0,621.1 314.5,621.5 315.0,621.3 315.5,621.9 316.0,622.7 316.5,622.6 317.0,622.2 317.5,622.2 318.0,622.2 318.5,622.4 319.0,622.6 319.5,622.3 320.0,622.6 320.5,622.6 321.0,622.7 321.5,622.3 322.0,621.4 322.5,621.8 323.0,622.5 323.5,622.2 324.0,622.4 324.5,622.8 325.0,623.2 325.5,623.4 326.0,623.4 326.5,623.2 327.0,622.1 327.5,623.0 328.0,624.0 328.5,623.4 329.0,622.8 329.5,622.9 330.0,623.1 330.5,622.6 331.0,622.4 331.5,622.0 332.0,622.2 332.5,622.3 333.0,622.9 333.5,622.3 334.0,622.2 334.5,621.7 335.0,621.6 335.5,621.3 336.0,621.4 336.5,620.9 337.0,620.2 337.5,618.8 338.0,616.2 338.5,615.7 339.0,614.9 339.5,612.5 340.0,610.9 340.5,609.2 341.0,608.2 341.5,606.5 342.0,606.1 342.5,604.7 343.0,603.8 343.5,604.8 344.0,606.0 344.5,607.9 345.0,609.9 345.5,611.4 346.0,612.9 346.5,613.9 347.0,614.9 347.5,615.7 348.0,617.4 348.5,617.5 349.0,616.9 349.5,617.4 350.0,616.5 350.5,617.2 351.0,617.9 351.5,617.9 352.0,618.4 352.5,618.7 353.0,619.0 353.5,618.5 354.0,617.7 354.5,618.0 355.0,618.2 355.5,618.9 356.0,619.4 356.5,618.9 357.0,618.0 357.5,619.0 358.0,620.8 358.5,620.4 359.0,621.0 359.5,619.7 360.0,618.9 360.5,620.0 361.0,621.1" fill="none" stroke="#e25a3a" stroke-width="1.7" stroke-linejoin="round" /><polyline points="276.0,661.2 276.5,660.6 277.0,660.1 277.5,661.0 278.0,661.9 278.5,660.9 279.0,660.4 279.5,659.8 280.0,660.1 280.5,659.5 281.0,659.4 281.5,660.5 282.0,661.4 282.5,661.3 283.0,660.8 283.5,660.1 284.0,660.2 284.5,659.9 285.0,660.1 285.5,660.1 286.0,660.3 286.5,659.9 287.0,659.7 287.5,659.0 288.0,659.0 288.5,658.8 289.0,659.1 289.5,658.6 290.0,658.9 290.5,658.5 291.0,657.5 291.5,656.9 292.0,656.0 292.5,655.7 293.0,655.5 293.5,654.0 294.0,652.0 294.5,650.7 295.0,649.4 295.5,648.2 296.0,646.8 296.5,644.1 297.0,641.2 297.5,638.7 298.0,635.3 298.5,632.4 299.0,629.5 299.5,627.8 300.0,625.2 300.5,623.5 301.0,622.2 301.5,620.7 302.0,620.6 302.5,622.2 303.0,624.6 303.5,625.2 304.0,627.1 304.5,630.1 305.0,633.1 305.5,636.9 306.0,640.8 306.5,643.0 307.0,645.2 307.5,646.9 308.0,648.6 308.5,650.2 309.0,652.0 309.5,653.2 310.0,654.5 310.5,655.3 311.0,656.4 311.5,656.6 312.0,656.6 312.5,657.1 313.0,657.2 313.5,657.7 314.0,658.2 314.5,658.3 315.0,658.3 315.5,658.4 316.0,658.9 316.5,658.6 317.0,658.7 317.5,659.0 318.0,659.7 318.5,659.2 319.0,658.3 319.5,658.9 320.0,659.1 320.5,658.7 321.0,659.0 321.5,658.8 322.0,658.8 322.5,659.9 323.0,660.3 323.5,659.8 324.0,659.1 324.5,658.8 325.0,659.1 325.5,659.1 326.0,659.5 326.5,659.1 327.0,658.9 327.5,659.8 328.0,659.7 328.5,659.8 329.0,660.0 329.5,660.0 330.0,659.8 330.5,659.0 331.0,658.7 331.5,659.0 332.0,659.1 332.5,659.6 333.0,660.1 333.5,659.6 334.0,659.0 334.5,659.0 335.0,659.5 335.5,659.6 336.0,659.4 336.5,658.1 337.0,657.1 337.5,657.5 338.0,657.8 338.5,656.4 339.0,655.8 339.5,654.6 340.0,653.5 340.5,652.4 341.0,650.7 341.5,648.8 342.0,647.1 342.5,645.8 343.0,644.4 343.5,643.8 344.0,644.0 344.5,644.5 345.0,645.3 345.5,646.5 346.0,648.2 346.5,649.0 347.0,649.7 347.5,651.9 348.0,654.1 348.5,654.6 349.0,654.6 349.5,655.5 350.0,656.0 350.5,656.4 351.0,656.5 351.5,656.9 352.0,657.0 352.5,656.9 353.0,657.2 353.5,656.9 354.0,657.0 354.5,656.5 355.0,656.4 355.5,656.7 356.0,657.3 356.5,658.0 357.0,658.5 357.5,657.8 358.0,657.5 358.5,657.6 359.0,657.7 359.5,658.8 360.0,659.6 360.5,659.4 361.0,659.6" fill="none" stroke="#f2741a" stroke-width="1.7" stroke-linejoin="round" /><rect x="275.5" y="495.5" width="86.0" height="171.5" fill="none" stroke="#555" stroke-width="1"/><path d="M275.5,667.5V671.0 M281.2,667.5V669.5 M287.0,667.5V669.5 M292.7,667.5V669.5 M298.4,667.5V669.5 M304.2,667.5V671.0 M309.9,667.5V669.5 M315.6,667.5V669.5 M321.4,667.5V669.5 M327.1,667.5V669.5 M332.8,667.5V671.0 M338.6,667.5V669.5 M344.3,667.5V669.5 M350.0,667.5V669.5 M355.8,667.5V669.5 M361.5,667.5V671.0" stroke="#555" stroke-width="1"/><text x="275.5" y="683" font-size="11.8" text-anchor="middle" font-weight="normal" fill="#000" >770</text><text x="304.2" y="683" font-size="11.8" text-anchor="middle" font-weight="normal" fill="#000" >780</text><text x="332.8" y="683" font-size="11.8" text-anchor="middle" font-weight="normal" fill="#000" >790</text><text x="361.5" y="683" font-size="11.8" text-anchor="middle" font-weight="normal" fill="#000" >800</text><text x="315.1" y="693.6" font-size="12" text-anchor="middle" font-weight="normal" fill="#000" textLength="91">Energy Loss / eV</text><text x="281.5" y="510.5" font-size="15" text-anchor="start" font-weight="bold" fill="#000" >i</text><text transform="translate(263.8,615.3) rotate(-90)" font-size="11.6" textLength="77.7">Intensity / a. u.</text><text x="282" y="542" font-size="11.5" text-anchor="start" font-weight="normal" fill="#000" >D</text><text x="282" y="577.2" font-size="11.5" text-anchor="start" font-weight="normal" fill="#000" >C</text><text x="282" y="614.3" font-size="11.5" text-anchor="start" font-weight="normal" fill="#000" >B</text><text x="282" y="649.4" font-size="11.5" text-anchor="start" font-weight="normal" fill="#000" >A</text><polyline points="397.0,551.4 397.5,551.4 398.0,550.8 398.5,550.8 399.0,550.2 399.5,550.6 400.0,550.6 400.5,550.8 401.0,551.1 401.5,551.1 402.0,551.1 402.5,551.5 403.0,551.5 403.5,551.0 404.0,549.7 404.5,549.7 405.0,550.0 405.5,549.7 406.0,549.7 406.5,549.4 407.0,549.4 407.5,548.6 408.0,548.2 408.5,547.6 409.0,546.7 409.5,546.5 410.0,546.2 410.5,544.8 411.0,543.5 411.5,542.5 412.0,541.8 412.5,539.8 413.0,537.6 413.5,536.3 414.0,534.6 414.5,533.2 415.0,531.7 415.5,529.0 416.0,526.5 416.5,525.2 417.0,524.9 417.5,524.4 418.0,524.2 418.5,524.5 419.0,524.2 419.5,524.7 420.0,525.4 420.5,527.0 421.0,528.7 421.5,530.9 422.0,532.0 422.5,534.0 423.0,535.7 423.5,537.5 424.0,539.7 424.5,540.7 425.0,541.5 425.5,543.0 426.0,544.8 426.5,544.9 427.0,545.2 427.5,545.1 428.0,546.1 428.5,546.9 429.0,547.9 429.5,547.6 430.0,548.0 430.5,548.7 431.0,549.3 431.5,549.0 432.0,549.3 432.5,549.3 433.0,549.1 433.5,549.1 434.0,549.3 434.5,548.5 435.0,547.9 435.5,548.2 436.0,548.7 436.5,548.9 437.0,549.3 437.5,549.1 438.0,549.2 438.5,549.0 439.0,549.8 439.5,549.1 440.0,549.0 440.5,549.0 441.0,549.9 441.5,550.0 442.0,550.1 442.5,549.6 443.0,549.2 443.5,549.8 444.0,549.8 444.5,549.5 445.0,549.4 445.5,549.3 446.0,549.2 446.5,549.0 447.0,549.1 447.5,549.0 448.0,548.5 448.5,549.1 449.0,549.2 449.5,549.1 450.0,548.7 450.5,548.5 451.0,548.0 451.5,548.2 452.0,548.4 452.5,549.1 453.0,548.6 453.5,548.3 454.0,548.6 454.5,548.0 455.0,547.4 455.5,547.3 456.0,547.3 456.5,547.0 457.0,546.2 457.5,545.1 458.0,544.3 458.5,543.2 459.0,543.3 459.5,542.7 460.0,542.2 460.5,541.6 461.0,541.2 461.5,540.4 462.0,539.9 462.5,539.9 463.0,540.2 463.5,540.7 464.0,541.8 464.5,541.5 465.0,542.1 465.5,543.6 466.0,544.7 466.5,544.4 467.0,544.2 467.5,544.2 468.0,544.3 468.5,544.5 469.0,545.7 469.5,545.5 470.0,545.4 470.5,545.2 471.0,544.3 471.5,545.0 472.0,545.5 472.5,545.4 473.0,545.3 473.5,545.6 474.0,545.7 474.5,545.2 475.0,545.1 475.5,545.7 476.0,545.4 476.5,546.0 477.0,546.4 477.5,546.3 478.0,546.3 478.5,546.3 479.0,545.8 479.5,545.8 480.0,545.9 480.5,546.2 481.0,546.1 481.5,546.5" fill="none" stroke="#7222d2" stroke-width="1.7" stroke-linejoin="round" /><polyline points="397.0,585.9 397.5,585.8 398.0,585.9 398.5,585.5 399.0,585.8 399.5,586.0 400.0,585.9 400.5,585.9 401.0,585.3 401.5,585.8 402.0,586.0 402.5,585.7 403.0,585.3 403.5,585.2 404.0,584.6 404.5,584.0 405.0,583.1 405.5,583.2 406.0,583.4 406.5,584.3 407.0,584.9 407.5,583.9 408.0,583.2 408.5,583.1 409.0,582.2 409.5,581.6 410.0,580.3 410.5,579.7 411.0,578.3 411.5,576.7 412.0,574.0 412.5,572.5 413.0,570.5 413.5,568.2 414.0,566.2 414.5,564.8 415.0,562.7 415.5,560.5 416.0,558.0 416.5,555.0 417.0,553.5 417.5,551.4 418.0,549.8 418.5,548.6 419.0,547.8 419.5,548.6 420.0,550.4 420.5,551.2 421.0,552.4 421.5,554.5 422.0,557.0 422.5,559.2 423.0,561.6 423.5,563.5 424.0,565.8 424.5,567.8 425.0,569.6 425.5,572.0 426.0,573.5 426.5,574.8 427.0,575.8 427.5,577.7 428.0,579.4 428.5,579.8 429.0,580.4 429.5,580.9 430.0,582.0 430.5,581.6 431.0,581.5 431.5,582.3 432.0,583.1 432.5,583.1 433.0,582.9 433.5,583.3 434.0,583.3 434.5,583.1 435.0,583.0 435.5,583.2 436.0,583.0 436.5,582.8 437.0,582.5 437.5,583.8 438.0,584.3 438.5,584.1 439.0,583.7 439.5,584.3 440.0,584.1 440.5,584.6 441.0,584.2 441.5,583.9 442.0,583.4 442.5,583.8 443.0,583.8 443.5,583.9 444.0,583.7 444.5,583.9 445.0,584.7 445.5,584.6 446.0,584.2 446.5,584.1 447.0,584.2 447.5,583.9 448.0,584.3 448.5,584.4 449.0,584.0 449.5,584.3 450.0,585.1 450.5,584.1 451.0,583.4 451.5,583.5 452.0,584.2 452.5,584.3 453.0,584.2 453.5,583.4 454.0,582.4 454.5,582.6 455.0,582.9 455.5,582.4 456.0,581.2 456.5,580.9 457.0,580.3 457.5,578.8 458.0,577.3 458.5,576.0 459.0,575.5 459.5,573.4 460.0,571.9 460.5,571.0 461.0,570.2 461.5,569.9 462.0,570.0 462.5,569.7 463.0,569.7 463.5,569.6 464.0,570.1 464.5,571.6 465.0,573.1 465.5,574.4 466.0,575.8 466.5,576.7 467.0,577.9 467.5,578.3 468.0,578.4 468.5,578.4 469.0,578.2 469.5,579.4 470.0,580.3 470.5,579.9 471.0,579.8 471.5,580.3 472.0,579.8 472.5,580.0 473.0,579.7 473.5,580.8 474.0,581.3 474.5,580.7 475.0,580.8 475.5,580.1 476.0,580.2 476.5,580.4 477.0,580.4 477.5,580.7 478.0,580.8 478.5,580.8 479.0,581.4 479.5,581.6 480.0,582.0 480.5,581.6 481.0,581.3 481.5,581.3" fill="none" stroke="#b03494" stroke-width="1.7" stroke-linejoin="round" /><polyline points="397.0,620.7 397.5,621.1 398.0,620.6 398.5,620.7 399.0,621.0 399.5,620.8 400.0,620.6 400.5,620.2 401.0,620.2 401.5,621.1 402.0,621.6 402.5,620.8 403.0,620.6 403.5,620.9 404.0,621.4 404.5,620.2 405.0,619.8 405.5,619.5 406.0,619.8 406.5,619.4 407.0,618.7 407.5,618.6 408.0,618.4 408.5,618.2 409.0,617.2 409.5,616.9 410.0,616.5 410.5,615.7 411.0,614.4 411.5,614.1 412.0,613.8 412.5,611.9 413.0,610.4 413.5,608.6 414.0,606.3 414.5,603.9 415.0,602.7 415.5,600.9 416.0,599.0 416.5,596.6 417.0,593.7 417.5,591.8 418.0,589.1 418.5,587.7 419.0,586.2 419.5,584.1 420.0,582.5 420.5,582.6 421.0,582.5 421.5,583.5 422.0,584.7 422.5,585.1 423.0,585.4 423.5,588.0 424.0,590.8 424.5,593.2 425.0,595.5 425.5,597.4 426.0,599.1 426.5,601.1 427.0,602.8 427.5,604.5 428.0,605.9 428.5,607.4 429.0,608.4 429.5,609.4 430.0,610.9 430.5,612.0 431.0,612.9 431.5,613.8 432.0,614.4 432.5,614.7 433.0,615.2 433.5,615.9 434.0,615.7 434.5,616.1 435.0,616.5 435.5,616.4 436.0,616.0 436.5,616.2 437.0,616.7 437.5,616.9 438.0,616.9 438.5,616.8 439.0,616.9 439.5,617.1 440.0,616.8 440.5,617.1 441.0,616.4 441.5,616.9 442.0,617.8 442.5,618.0 443.0,618.1 443.5,618.5 444.0,619.0 444.5,618.4 445.0,618.1 445.5,618.7 446.0,618.4 446.5,618.1 447.0,618.1 447.5,617.9 448.0,617.5 448.5,617.8 449.0,617.8 449.5,617.3 450.0,617.0 450.5,617.3 451.0,617.8 451.5,617.6 452.0,616.8 452.5,616.9 453.0,616.2 453.5,616.4 454.0,617.2 454.5,616.8 455.0,616.3 455.5,615.5 456.0,614.7 456.5,614.2 457.0,613.2 457.5,612.6 458.0,611.7 458.5,609.9 459.0,608.1 459.5,606.2 460.0,604.3 460.5,603.1 461.0,602.3 461.5,602.1 462.0,602.0 462.5,601.8 463.0,602.2 463.5,602.1 464.0,602.8 464.5,604.8 465.0,606.8 465.5,607.6 466.0,608.3 466.5,609.4 467.0,610.7 467.5,611.4 468.0,611.3 468.5,611.4 469.0,611.4 469.5,612.1 470.0,612.2 470.5,612.2 471.0,612.0 471.5,611.7 472.0,611.8 472.5,611.8 473.0,612.5 473.5,612.8 474.0,613.1 474.5,613.4 475.0,613.7 475.5,613.1 476.0,612.6 476.5,613.4 477.0,613.5 477.5,613.3 478.0,613.4 478.5,613.6 479.0,613.4 479.5,613.8 480.0,614.4 480.5,613.8 481.0,613.1 481.5,613.7" fill="none" stroke="#e25a3a" stroke-width="1.7" stroke-linejoin="round" /><polyline points="397.0,658.3 397.5,658.5 398.0,659.1 398.5,658.7 399.0,658.5 399.5,659.3 400.0,659.4 400.5,659.6 401.0,660.0 401.5,659.4 402.0,658.5 402.5,658.5 403.0,658.7 403.5,658.5 404.0,658.2 404.5,657.4 405.0,656.9 405.5,657.1 406.0,657.4 406.5,657.8 407.0,657.5 407.5,657.4 408.0,657.3 408.5,656.8 409.0,655.8 409.5,655.5 410.0,655.0 410.5,654.8 411.0,654.8 411.5,653.6 412.0,652.6 412.5,651.0 413.0,649.9 413.5,648.4 414.0,646.8 414.5,645.4 415.0,643.8 415.5,642.0 416.0,640.5 416.5,638.1 417.0,636.3 417.5,633.1 418.0,629.8 418.5,628.6 419.0,626.6 419.5,624.7 420.0,622.6 420.5,621.6 421.0,620.3 421.5,620.2 422.0,620.5 422.5,620.7 423.0,621.3 423.5,623.2 424.0,625.3 424.5,626.6 425.0,628.0 425.5,630.7 426.0,633.3 426.5,635.5 427.0,637.3 427.5,640.4 428.0,642.5 428.5,644.7 429.0,646.0 429.5,647.5 430.0,648.4 430.5,649.5 431.0,650.6 431.5,651.6 432.0,651.7 432.5,653.2 433.0,654.3 433.5,654.7 434.0,655.0 434.5,655.3 435.0,655.1 435.5,655.3 436.0,655.3 436.5,655.2 437.0,655.5 437.5,655.4 438.0,655.9 438.5,656.1 439.0,656.7 439.5,656.3 440.0,655.8 440.5,655.8 441.0,656.2 441.5,656.9 442.0,656.6 442.5,657.3 443.0,657.1 443.5,656.9 444.0,657.6 444.5,657.1 445.0,656.8 445.5,656.2 446.0,656.6 446.5,656.9 447.0,657.1 447.5,656.9 448.0,656.7 448.5,656.1 449.0,656.6 449.5,656.2 450.0,656.1 450.5,655.7 451.0,655.4 451.5,656.2 452.0,657.3 452.5,656.1 453.0,656.0 453.5,655.3 454.0,654.9 454.5,654.9 455.0,655.5 455.5,654.0 456.0,653.5 456.5,652.5 457.0,651.3 457.5,650.5 458.0,649.7 458.5,648.4 459.0,647.2 459.5,645.6 460.0,644.0 460.5,642.7 461.0,641.1 461.5,640.6 462.0,639.9 462.5,639.2 463.0,639.2 463.5,640.1 464.0,641.0 464.5,642.7 465.0,643.8 465.5,644.6 466.0,645.9 466.5,647.7 467.0,648.7 467.5,649.2 468.0,649.7 468.5,650.7 469.0,652.1 469.5,651.9 470.0,651.4 470.5,651.6 471.0,651.2 471.5,651.6 472.0,652.1 472.5,651.9 473.0,652.2 473.5,652.3 474.0,653.1 474.5,652.7 475.0,651.9 475.5,651.9 476.0,652.9 476.5,652.8 477.0,652.4 477.5,653.4 478.0,653.0 478.5,653.5 479.0,653.1 479.5,652.6 480.0,652.8 480.5,652.7 481.0,652.5 481.5,653.2" fill="none" stroke="#f2741a" stroke-width="1.7" stroke-linejoin="round" /><rect x="396.5" y="495.5" width="85.5" height="171.5" fill="none" stroke="#555" stroke-width="1"/><path d="M396.5,667.5V671.0 M402.2,667.5V669.5 M407.9,667.5V669.5 M413.6,667.5V669.5 M419.3,667.5V669.5 M425.0,667.5V671.0 M430.7,667.5V669.5 M436.4,667.5V669.5 M442.1,667.5V669.5 M447.8,667.5V669.5 M453.5,667.5V671.0 M459.2,667.5V669.5 M464.9,667.5V669.5 M470.6,667.5V669.5 M476.3,667.5V669.5 M482.0,667.5V671.0" stroke="#555" stroke-width="1"/><text x="396.5" y="683" font-size="11.8" text-anchor="middle" font-weight="normal" fill="#000" >770</text><text x="425.0" y="683" font-size="11.8" text-anchor="middle" font-weight="normal" fill="#000" >780</text><text x="453.5" y="683" font-size="11.8" text-anchor="middle" font-weight="normal" fill="#000" >790</text><text x="482.0" y="683" font-size="11.8" text-anchor="middle" font-weight="normal" fill="#000" >800</text><text x="435.9" y="693.6" font-size="12" text-anchor="middle" font-weight="normal" fill="#000" textLength="91">Energy Loss / eV</text><text x="403" y="510.5" font-size="15" text-anchor="start" font-weight="bold" fill="#000" >j</text><text transform="translate(385.8,615.3) rotate(-90)" font-size="11.6" textLength="77.7">Intensity / a. u.</text><text x="401.5" y="542" font-size="11.5" text-anchor="start" font-weight="normal" fill="#000" >D</text><text x="401.5" y="577.2" font-size="11.5" text-anchor="start" font-weight="normal" fill="#000" >C</text><text x="401.5" y="614.3" font-size="11.5" text-anchor="start" font-weight="normal" fill="#000" >B</text><text x="401.5" y="649.4" font-size="11.5" text-anchor="start" font-weight="normal" fill="#000" >A</text>
<rect x="542" y="367.5" width="141" height="299.5" fill="none" stroke="#7a7a7a" stroke-width="1.2"/><path d="M541.5,382.2h-2 M541.5,397.2h-2 M541.5,412.2h-3 M541.5,427.2h-2 M541.5,442.2h-2 M541.5,457.2h-2 M541.5,472.2h-3 M541.5,487.2h-2 M541.5,502.2h-2 M541.5,517.2h-2 M541.5,532.2h-3 M541.5,547.2h-2 M541.5,562.2h-2 M541.5,577.2h-2 M541.5,592.2h-3 M541.5,607.2h-2 M541.5,622.2h-2 M541.5,637.2h-2 M541.5,652.2h-3 M557.5,667.5v2.5 M589,667.5v2.5 M620.5,667.5v2.5 M652,667.5v2.5 M573,667.5v1.5 M604.5,667.5v1.5 M636,667.5v1.5 M667.5,667.5v1.5" stroke="#7a7a7a" stroke-width="1"/><text x="538.3" y="416.0" font-size="10.8" text-anchor="end" font-weight="normal" fill="#000" >779.2</text><text x="538.3" y="476.0" font-size="10.8" text-anchor="end" font-weight="normal" fill="#000" >778.8</text><text x="538.3" y="536.0" font-size="10.8" text-anchor="end" font-weight="normal" fill="#000" >778.4</text><text x="538.3" y="596.0" font-size="10.8" text-anchor="end" font-weight="normal" fill="#000" >778.0</text><text x="538.3" y="656.0" font-size="10.8" text-anchor="end" font-weight="normal" fill="#000" >777.6</text><text x="555.5" y="385.7" font-size="16" text-anchor="start" font-weight="bold" fill="#000" >k</text><text transform="translate(505.7,565.2) rotate(-90)" font-size="10.6" textLength="80">Co L3-edge / eV</text><text x="556.8" y="683.2" font-size="10.6" text-anchor="middle" font-weight="normal" fill="#000" >D</text><text x="586.3" y="683.2" font-size="10.6" text-anchor="middle" font-weight="normal" fill="#000" >C</text><text x="615.8" y="683.2" font-size="10.6" text-anchor="middle" font-weight="normal" fill="#000" >B</text><text x="644.2" y="683.2" font-size="10.6" text-anchor="middle" font-weight="normal" fill="#000" >A</text><text x="549" y="698.4" font-size="10.2" text-anchor="start" font-weight="normal" fill="#000" textLength="116.5">EELS mesurement area</text><polyline points="557.5,497.7 589,407.7 620.5,407.7 652,407.7" fill="none" stroke="#222" stroke-width="1.1" stroke-dasharray="4,3"/><polyline points="557.5,425.7 589,425.7 620.5,425.7 652,425.7" fill="none" stroke="#ff1a1a" stroke-width="1.0" /><polyline points="557.5,502.2 589,457.2 620.5,457.2 652,457.2" fill="none" stroke="#33ee22" stroke-width="1.0" /><polyline points="557.5,637.2 589,637.2 620.5,502.2 652,502.2" fill="none" stroke="#1414ff" stroke-width="1.0" /><circle cx="557.5" cy="425.7" r="4" fill="#ff1a1a"/><circle cx="589" cy="425.7" r="4" fill="#ff1a1a"/><circle cx="620.5" cy="425.7" r="4" fill="#ff1a1a"/><circle cx="652" cy="425.7" r="4" fill="#ff1a1a"/><circle cx="557.5" cy="637.2" r="4" fill="#1414ff"/><circle cx="589" cy="637.2" r="4" fill="#1414ff"/><circle cx="620.5" cy="502.2" r="4" fill="#1414ff"/><circle cx="652" cy="502.2" r="4" fill="#1414ff"/><circle cx="557.5" cy="502.2" r="4" fill="#33ee22"/><circle cx="589" cy="457.2" r="4" fill="#33ee22"/><circle cx="620.5" cy="457.2" r="4" fill="#33ee22"/><circle cx="652" cy="457.2" r="4" fill="#33ee22"/><circle cx="557.5" cy="497.7" r="4" fill="#000"/><circle cx="589" cy="407.7" r="4" fill="#000"/><circle cx="620.5" cy="407.7" r="4" fill="#000"/><circle cx="652" cy="407.7" r="4" fill="#000"/><circle cx="618" cy="610.5" r="3.9" fill="#000"/><text x="628.3" y="614.3" font-size="10.8" text-anchor="start" font-weight="normal" fill="#000" >bare LCO</text><circle cx="618" cy="623.9" r="3.9" fill="#ff1a1a"/><text x="628.3" y="627.7" font-size="10.8" text-anchor="start" font-weight="normal" fill="#000" >LP-2.40</text><circle cx="618" cy="637.6" r="3.9" fill="#33ee22"/><text x="628.3" y="641.4" font-size="10.8" text-anchor="start" font-weight="normal" fill="#000" >LP-3.52</text><circle cx="618" cy="651.4" r="3.9" fill="#1414ff"/><text x="628.3" y="655.2" font-size="10.8" text-anchor="start" font-weight="normal" fill="#000" >LP-5.73</text>
</svg>
</body></html>
